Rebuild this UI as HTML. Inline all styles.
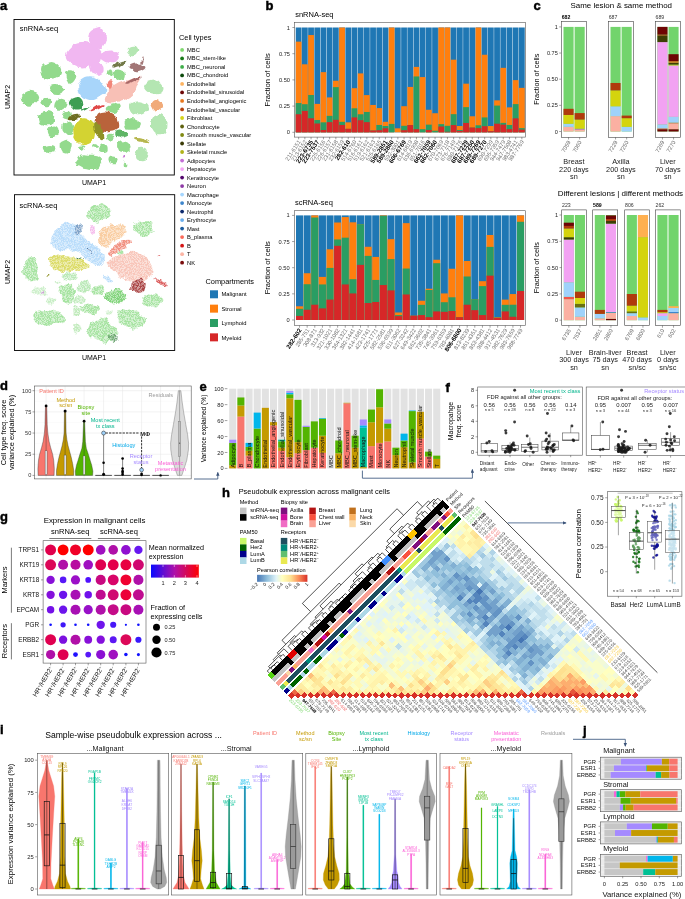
<!DOCTYPE html>
<html><head><meta charset="utf-8"><title>Figure</title>
<style>html,body{margin:0;padding:0;background:#fff}svg{display:block}text{font-family:"Liberation Sans",sans-serif}</style>
</head><body>
<svg width="685" height="899" viewBox="0 0 685 899">
<defs>
<filter id="soft" x="-5%" y="-5%" width="110%" height="110%"><feTurbulence type="fractalNoise" baseFrequency="0.11" numOctaves="3" seed="4" result="t"/><feDisplacementMap in="SourceGraphic" in2="t" scale="5.5" xChannelSelector="R" yChannelSelector="G" result="d"/><feGaussianBlur in="d" stdDeviation="0.3"/></filter>
<filter id="soft2" x="-5%" y="-5%" width="110%" height="110%"><feTurbulence type="fractalNoise" baseFrequency="0.13" numOctaves="3" seed="9" result="t"/><feDisplacementMap in="SourceGraphic" in2="t" scale="7" xChannelSelector="R" yChannelSelector="G" result="d"/><feTurbulence type="fractalNoise" baseFrequency="1.3" numOctaves="2" seed="3" result="n"/><feColorMatrix in="n" type="matrix" values="0 0 0 0 0  0 0 0 0 0  0 0 0 0 0  5 0 0 0 -1.9" result="m"/><feComposite in="d" in2="m" operator="in" result="sp0"/><feGaussianBlur in="sp0" stdDeviation="0.4" result="sp"/><feGaussianBlur in="d" stdDeviation="0.5" result="b"/><feComponentTransfer in="b" result="b2"><feFuncA type="linear" slope="0.5"/></feComponentTransfer><feMerge><feMergeNode in="b2"/><feMergeNode in="sp"/></feMerge></filter>
<linearGradient id="gexp" x1="0" x2="1" y1="0" y2="0"><stop offset="0" stop-color="#0a0aff"/><stop offset="0.5" stop-color="#b010a8"/><stop offset="1" stop-color="#ff0000"/></linearGradient>
<linearGradient id="gcor" x1="0" x2="1" y1="0" y2="0"><stop offset="0" stop-color="#4575b4"/><stop offset="0.2" stop-color="#91bfdb"/><stop offset="0.38" stop-color="#e0f3f8"/><stop offset="0.5" stop-color="#ffffbf"/><stop offset="0.67" stop-color="#fee090"/><stop offset="0.83" stop-color="#fc8d59"/><stop offset="1" stop-color="#d73027"/></linearGradient>
<marker id="arr" viewBox="0 0 6 6" refX="5" refY="3" markerWidth="4.6" markerHeight="4.2" orient="auto"><path d="M0 0.3L6 3L0 5.7Z" fill="#3b5378"/></marker>
</defs>
<rect width="685" height="899" fill="#fff"/>
<text x="0.0" y="10.2" font-size="13" font-weight="bold" stroke="#000" stroke-width="0.45">a</text>
<g filter="url(#soft)">
<path d="M61.0 68.9Q61.6 70.8 61.1 72.8Q60.6 74.8 59.1 76.1Q57.7 77.5 55.9 77.9Q54.2 78.4 52.6 78.8Q51.0 79.1 49.2 79.3Q47.4 79.4 45.7 78.6Q43.9 77.9 42.8 76.3Q41.6 74.7 41.2 72.8Q40.8 70.8 41.4 68.9Q41.9 67.0 43.2 65.6Q44.5 64.3 46.0 63.4Q47.6 62.6 49.3 62.2Q51.0 61.8 52.7 62.2Q54.4 62.6 56.0 63.4Q57.5 64.3 58.9 65.6Q60.3 66.9 61.0 68.9Z" fill="#93da8d"/>
<path d="M76.0 75.3Q76.5 76.5 76.2 77.8Q75.9 79.2 75.2 80.2Q74.5 81.2 73.8 82.3Q73.0 83.4 71.9 84.0Q70.8 84.7 69.7 84.0Q68.6 83.2 68.1 82.0Q67.5 80.7 66.9 79.8Q66.4 78.8 66.0 77.7Q65.5 76.5 65.6 75.1Q65.6 73.7 66.0 72.4Q66.5 71.1 67.5 70.3Q68.5 69.5 69.7 69.3Q70.8 69.1 71.9 69.6Q72.9 70.0 73.6 71.1Q74.2 72.2 74.8 73.1Q75.5 74.0 76.0 75.3Z" fill="#93da8d"/>
<path d="M39.1 96.3Q39.4 98.1 38.6 99.6Q37.8 101.2 36.5 102.2Q35.3 103.2 34.1 104.0Q32.8 104.7 31.4 105.0Q29.9 105.3 28.2 105.6Q26.5 105.8 25.0 105.0Q23.4 104.2 22.8 102.6Q22.2 101.1 21.3 99.6Q20.4 98.1 20.8 96.4Q21.2 94.7 22.9 93.9Q24.6 93.1 25.8 92.3Q27.0 91.4 28.4 91.1Q29.9 90.7 31.4 91.0Q32.9 91.3 34.6 91.7Q36.3 92.0 37.6 93.3Q38.9 94.6 39.1 96.3Z" fill="#93da8d"/>
<path d="M63.7 88.2Q64.4 89.4 63.7 90.6Q63.1 91.8 62.3 92.9Q61.6 93.9 60.2 94.4Q58.8 94.9 57.3 94.9Q55.9 94.8 54.5 94.8Q53.1 94.7 52.1 94.0Q51.1 93.3 50.1 92.5Q49.1 91.7 48.4 90.5Q47.7 89.4 48.1 88.2Q48.6 87.0 49.2 85.8Q49.9 84.6 51.4 84.2Q53.0 83.8 54.5 84.1Q55.9 84.4 57.2 84.3Q58.6 84.3 59.7 84.9Q60.8 85.4 61.9 86.3Q63.0 87.1 63.7 88.2Z" fill="#93da8d"/>
<path d="M51.9 101.1Q52.4 102.3 51.7 103.4Q51.1 104.6 50.3 105.7Q49.5 106.8 48.1 107.1Q46.7 107.5 45.3 107.1Q43.9 106.7 43.1 105.7Q42.4 104.6 41.8 103.4Q41.2 102.3 41.3 100.9Q41.3 99.5 42.7 98.9Q44.1 98.3 45.4 98.0Q46.7 97.7 48.2 97.7Q49.7 97.6 50.6 98.7Q51.4 99.8 51.9 101.1Z" fill="#93da8d"/>
<path d="M66.5 102.8Q66.5 104.3 66.1 105.6Q65.7 106.8 64.7 107.8Q63.8 108.8 62.3 109.4Q60.9 109.9 59.3 109.7Q57.6 109.5 56.3 108.4Q55.0 107.4 55.2 105.9Q55.5 104.3 55.9 103.1Q56.3 101.9 57.2 100.8Q58.0 99.7 59.4 99.1Q60.9 98.5 62.5 98.9Q64.1 99.2 65.3 100.3Q66.6 101.3 66.5 102.8Z" fill="#93da8d"/>
<path d="M54.2 116.5Q54.1 118.0 53.6 119.3Q53.2 120.6 52.6 122.0Q52.1 123.3 50.8 124.4Q49.5 125.4 47.7 125.3Q46.0 125.3 44.4 125.0Q42.8 124.7 41.2 124.2Q39.5 123.7 38.9 122.3Q38.3 120.8 38.1 119.4Q37.9 118.0 37.8 116.5Q37.7 115.0 38.9 113.8Q40.0 112.7 41.4 112.0Q42.9 111.4 44.4 111.0Q46.0 110.7 47.6 110.9Q49.2 111.1 50.8 111.7Q52.4 112.3 53.4 113.6Q54.4 114.9 54.2 116.5Z" fill="#93da8d"/>
<path d="M71.7 114.4Q71.7 115.5 71.5 116.5Q71.3 117.5 70.5 118.3Q69.7 119.2 68.3 119.3Q67.0 119.4 65.8 119.1Q64.6 118.8 63.7 118.2Q62.7 117.5 62.2 116.5Q61.7 115.5 62.2 114.5Q62.7 113.5 63.6 112.8Q64.5 112.0 65.7 111.9Q67.0 111.7 68.2 111.9Q69.5 112.1 70.6 112.7Q71.7 113.3 71.7 114.4Z" fill="#93da8d"/>
<path d="M74.0 126.6Q74.1 128.0 73.7 129.2Q73.3 130.4 73.1 131.9Q72.8 133.3 71.8 134.2Q70.8 135.0 69.6 135.0Q68.3 134.9 67.3 134.4Q66.2 133.9 65.2 133.4Q64.2 132.8 63.3 131.8Q62.5 130.8 62.4 129.4Q62.3 128.0 62.3 126.6Q62.4 125.2 63.2 124.1Q64.1 123.1 65.2 122.8Q66.4 122.5 67.3 121.6Q68.3 120.7 69.6 120.8Q70.8 120.8 71.6 122.0Q72.4 123.3 73.2 124.3Q74.0 125.3 74.0 126.6Z" fill="#93da8d"/>
<path d="M59.4 130.1Q59.7 131.6 58.9 132.8Q58.0 134.0 57.0 134.9Q56.1 135.8 54.7 136.5Q53.4 137.1 51.6 137.1Q49.9 137.2 49.0 135.8Q48.2 134.4 47.9 133.0Q47.6 131.6 48.0 130.3Q48.4 128.9 49.4 127.9Q50.5 126.9 51.9 126.8Q53.4 126.6 55.0 126.5Q56.6 126.5 57.8 127.5Q59.1 128.6 59.4 130.1Z" fill="#93da8d"/>
<path d="M55.4 147.7Q55.3 149.0 54.9 150.1Q54.6 151.1 53.8 152.2Q53.1 153.4 51.4 153.3Q49.7 153.2 48.3 153.0Q46.8 152.7 45.6 152.0Q44.5 151.3 44.1 150.1Q43.7 149.0 43.8 147.7Q43.9 146.5 45.4 145.9Q46.9 145.3 48.3 145.2Q49.7 145.0 51.2 145.0Q52.8 145.0 54.1 145.7Q55.5 146.5 55.4 147.7Z" fill="#93da8d"/>
<path d="M71.7 145.0Q71.6 146.5 71.3 147.7Q71.0 149.0 70.6 150.4Q70.3 151.8 69.2 152.3Q68.1 152.9 66.9 153.2Q65.8 153.5 64.6 153.3Q63.4 153.2 62.6 152.2Q61.8 151.1 61.2 150.1Q60.6 149.0 60.1 147.8Q59.6 146.5 59.6 145.0Q59.6 143.5 60.6 142.5Q61.5 141.5 62.6 141.2Q63.8 140.8 64.8 140.2Q65.8 139.6 67.0 139.8Q68.1 140.0 69.1 140.8Q70.0 141.6 71.0 142.6Q71.9 143.6 71.7 145.0Z" fill="#93da8d"/>
<path d="M102.9 160.3Q102.9 161.4 102.1 162.4Q101.3 163.3 101.0 164.4Q100.7 165.4 100.1 166.6Q99.5 167.8 97.6 168.5Q95.7 169.1 93.5 169.0Q91.4 168.9 89.5 168.7Q87.6 168.5 85.9 168.1Q84.3 167.6 83.1 166.9Q81.9 166.2 80.5 165.6Q79.1 165.1 77.4 164.4Q75.6 163.6 75.2 162.5Q74.7 161.4 75.5 160.3Q76.4 159.3 77.0 158.2Q77.6 157.2 78.5 156.1Q79.4 155.0 81.4 154.6Q83.5 154.2 85.6 154.4Q87.7 154.6 89.4 154.7Q91.1 154.7 93.0 154.8Q94.8 154.8 96.4 155.3Q98.0 155.9 99.4 156.6Q100.8 157.3 101.9 158.3Q103.0 159.2 102.9 160.3Z" fill="#93da8d"/>
<path d="M107.5 147.9Q107.7 149.0 107.7 150.2Q107.7 151.5 106.7 152.3Q105.6 153.1 104.3 153.0Q103.0 152.9 101.7 153.0Q100.5 153.0 99.5 152.1Q98.6 151.3 98.2 150.2Q97.8 149.0 98.3 147.9Q98.8 146.8 99.7 146.0Q100.6 145.2 101.8 144.8Q103.0 144.3 104.2 144.7Q105.5 145.1 106.4 145.9Q107.3 146.8 107.5 147.9Z" fill="#93da8d"/>
<path d="M117.5 159.2Q117.8 160.0 117.5 160.9Q117.2 161.7 116.5 162.5Q115.7 163.3 114.4 163.3Q113.0 163.3 111.7 163.2Q110.4 163.1 109.5 162.5Q108.6 161.8 108.5 160.9Q108.4 160.0 108.6 159.1Q108.7 158.3 109.5 157.5Q110.4 156.8 111.7 156.6Q113.0 156.5 114.3 156.7Q115.6 156.9 116.4 157.6Q117.2 158.3 117.5 159.2Z" fill="#93da8d"/>
<path d="M131.2 145.4Q131.8 146.5 131.4 147.6Q131.1 148.8 129.8 149.4Q128.6 150.1 127.6 150.8Q126.6 151.5 125.3 151.7Q124.0 152.0 122.7 151.7Q121.3 151.5 120.1 151.0Q118.9 150.5 118.5 149.4Q118.2 148.4 117.7 147.5Q117.2 146.5 117.0 145.3Q116.9 144.2 117.8 143.3Q118.7 142.3 119.9 141.7Q121.1 141.0 122.5 141.2Q124.0 141.4 125.1 141.9Q126.2 142.3 127.5 142.5Q128.8 142.7 129.7 143.5Q130.7 144.3 131.2 145.4Z" fill="#93da8d"/>
<path d="M147.8 152.9Q147.8 154.0 147.6 155.1Q147.5 156.1 146.8 157.1Q146.2 158.0 145.3 159.0Q144.4 160.0 143.0 160.1Q141.5 160.2 140.2 159.9Q138.8 159.6 137.4 159.2Q135.9 158.8 135.4 157.6Q134.9 156.4 135.0 155.2Q135.1 154.0 135.6 153.0Q136.1 152.1 136.5 151.1Q137.0 150.1 137.7 148.9Q138.4 147.7 140.0 147.7Q141.5 147.6 142.8 148.0Q144.2 148.4 145.6 148.8Q147.0 149.3 147.4 150.5Q147.8 151.8 147.8 152.9Z" fill="#b4e6b2"/>
<path d="M139.7 123.1Q140.1 124.2 139.8 125.3Q139.4 126.5 138.6 127.5Q137.7 128.5 136.3 129.2Q135.0 130.0 133.3 129.8Q131.6 129.7 130.0 129.8Q128.3 129.8 126.6 129.4Q124.8 129.0 124.5 127.7Q124.3 126.3 124.0 125.3Q123.7 124.2 123.6 123.0Q123.5 121.8 124.6 121.0Q125.8 120.1 127.0 119.3Q128.3 118.5 129.9 118.2Q131.6 117.8 133.2 118.3Q134.8 118.7 136.1 119.4Q137.5 120.1 138.3 121.0Q139.2 122.0 139.7 123.1Z" fill="#93da8d"/>
<path d="M166.5 122.3Q166.4 124.2 166.4 126.0Q166.4 127.9 165.8 129.7Q165.1 131.5 163.6 132.4Q162.1 133.3 160.5 133.9Q158.9 134.5 157.2 134.2Q155.5 133.9 154.1 132.6Q152.8 131.4 151.9 129.7Q151.0 128.1 150.9 126.1Q150.8 124.2 151.1 122.4Q151.3 120.5 152.1 118.8Q152.9 117.1 154.4 116.3Q155.8 115.4 157.4 114.7Q158.9 114.0 160.7 114.0Q162.5 114.0 163.9 115.3Q165.3 116.7 165.9 118.6Q166.6 120.5 166.5 122.3Z" fill="#b4e6b2"/>
<path d="M148.6 106.6Q149.1 108.0 148.5 109.3Q147.8 110.7 146.5 111.6Q145.2 112.6 143.8 113.4Q142.4 114.1 140.7 114.7Q139.0 115.3 137.0 115.2Q135.1 115.0 133.7 114.0Q132.3 113.0 131.6 111.7Q130.9 110.5 130.4 109.2Q129.9 108.0 129.9 106.6Q129.8 105.2 130.9 104.0Q132.0 102.8 133.7 102.2Q135.4 101.6 137.2 101.4Q139.0 101.2 140.8 101.4Q142.5 101.7 144.1 102.4Q145.6 103.1 146.8 104.2Q148.0 105.2 148.6 106.6Z" fill="#b4e6b2"/>
<path d="M162.4 85.8Q163.5 87.0 163.5 88.6Q163.5 90.1 162.5 91.6Q161.6 93.1 159.7 93.7Q157.7 94.3 155.8 94.1Q153.9 93.8 152.2 93.5Q150.6 93.3 149.1 92.6Q147.7 91.9 146.3 90.9Q145.0 89.9 144.3 88.5Q143.6 87.0 144.3 85.6Q145.0 84.1 146.1 82.9Q147.1 81.6 148.7 80.8Q150.2 80.0 152.1 79.7Q153.9 79.4 155.8 79.5Q157.7 79.7 158.8 81.0Q159.9 82.2 160.7 83.4Q161.4 84.6 162.4 85.8Z" fill="#b4e6b2"/>
<path d="M137.1 49.3Q137.5 50.5 137.1 51.7Q136.7 52.9 135.9 54.1Q135.1 55.2 133.6 55.3Q132.1 55.3 130.7 55.1Q129.3 54.8 128.4 53.9Q127.5 52.9 127.0 51.7Q126.5 50.5 126.9 49.2Q127.3 48.0 128.3 47.1Q129.4 46.2 130.7 45.9Q132.1 45.6 133.6 45.8Q135.0 45.9 135.8 47.0Q136.7 48.1 137.1 49.3Z" fill="#b4e6b2"/>
<path d="M125.9 73.6Q125.8 74.6 125.7 75.5Q125.6 76.5 125.1 77.5Q124.6 78.5 123.4 79.1Q122.2 79.8 120.7 79.9Q119.2 80.1 118.0 79.4Q116.9 78.6 115.9 78.1Q115.0 77.6 114.0 77.0Q112.9 76.5 112.7 75.5Q112.5 74.6 112.4 73.6Q112.3 72.6 113.0 71.6Q113.6 70.6 115.0 70.1Q116.3 69.7 117.8 69.6Q119.2 69.5 120.4 70.0Q121.5 70.5 122.6 71.0Q123.6 71.4 124.8 72.0Q125.9 72.6 125.9 73.6Z" fill="#93da8d"/>
<path d="M120.7 106.8Q120.7 108.0 119.8 108.9Q118.9 109.8 118.0 110.3Q117.1 110.9 116.3 111.7Q115.6 112.4 114.3 112.8Q113.0 113.2 111.7 112.8Q110.5 112.3 109.2 112.0Q107.8 111.7 106.8 110.9Q105.8 110.1 105.7 109.1Q105.6 108.0 105.9 107.0Q106.1 106.0 107.3 105.4Q108.6 104.8 109.7 104.5Q110.7 104.1 111.9 103.6Q113.0 103.1 114.3 103.3Q115.6 103.6 116.9 103.9Q118.2 104.3 119.5 105.0Q120.8 105.7 120.7 106.8Z" fill="#93da8d"/>
<path d="M114.3 135.8Q114.7 136.6 114.3 137.3Q113.8 138.0 113.1 138.6Q112.5 139.1 111.5 139.4Q110.5 139.7 109.5 139.5Q108.5 139.3 107.8 138.7Q107.1 138.1 106.9 137.3Q106.7 136.6 106.8 135.8Q106.8 135.0 107.7 134.5Q108.5 134.0 109.5 133.8Q110.5 133.7 111.5 133.9Q112.5 134.0 113.2 134.6Q114.0 135.1 114.3 135.8Z" fill="#93da8d"/>
<path d="M112.3 72.1Q112.2 73.0 112.1 73.8Q112.0 74.6 111.6 75.2Q111.1 75.8 110.6 76.4Q110.0 76.9 109.3 76.6Q108.6 76.3 108.2 75.5Q107.8 74.8 107.7 73.9Q107.6 73.0 107.9 72.3Q108.2 71.5 108.4 70.7Q108.7 69.9 109.4 69.7Q110.0 69.4 110.7 69.5Q111.4 69.6 111.8 70.4Q112.3 71.2 112.3 72.1Z" fill="#93da8d"/>
<path d="M84.5 147.4Q84.5 148.0 84.5 148.6Q84.5 149.2 84.1 149.8Q83.7 150.5 82.9 150.6Q82.0 150.7 81.3 150.4Q80.5 150.2 80.1 149.6Q79.8 149.1 79.4 148.5Q79.0 148.0 79.2 147.4Q79.5 146.8 79.9 146.2Q80.4 145.7 81.2 145.5Q82.0 145.4 82.8 145.5Q83.6 145.7 84.0 146.2Q84.5 146.8 84.5 147.4Z" fill="#93da8d"/>
<path d="M97.6 145.5Q97.8 146.0 97.9 146.6Q98.0 147.1 97.3 147.5Q96.6 147.9 95.8 147.9Q95.0 147.9 94.3 147.8Q93.6 147.7 93.1 147.3Q92.6 146.9 92.4 146.5Q92.1 146.0 92.1 145.4Q92.0 144.9 92.7 144.5Q93.4 144.1 94.2 144.1Q95.0 144.1 95.7 144.2Q96.5 144.3 96.9 144.7Q97.4 145.1 97.6 145.5Z" fill="#93da8d"/>
<path d="M126.2 164.2Q126.4 165.0 126.3 165.9Q126.1 166.8 125.5 167.2Q125.0 167.5 124.4 167.2Q123.9 166.9 123.8 165.9Q123.6 165.0 123.8 164.1Q124.0 163.3 124.5 162.7Q125.0 162.2 125.5 162.8Q126.0 163.3 126.2 164.2Z" fill="#93da8d"/>
<path d="M128.4 134.5Q128.4 135.2 127.9 135.7Q127.4 136.1 126.5 136.4Q125.7 136.7 124.8 137.1Q123.9 137.5 122.5 137.5Q121.1 137.6 119.8 137.0Q118.5 136.5 117.4 135.9Q116.4 135.4 115.7 134.7Q115.0 134.1 115.2 133.5Q115.5 132.9 115.7 132.4Q116.0 131.8 116.6 131.3Q117.1 130.8 118.3 130.7Q119.5 130.5 120.9 130.7Q122.3 130.8 123.6 131.2Q124.9 131.5 126.1 132.0Q127.3 132.5 127.9 133.2Q128.5 133.9 128.4 134.5Z" fill="#5fb566"/>
<path d="M102.3 53.0Q103.0 54.7 103.0 56.5Q103.0 58.4 101.8 60.1Q100.5 61.7 98.3 62.8Q96.1 63.8 93.9 64.6Q91.6 65.4 89.3 66.2Q87.0 67.1 84.3 67.3Q81.6 67.6 79.1 67.0Q76.6 66.3 74.6 65.1Q72.6 63.9 70.7 62.7Q68.9 61.4 67.5 59.9Q66.1 58.3 65.8 56.5Q65.6 54.7 66.4 53.0Q67.3 51.3 68.5 49.8Q69.7 48.3 71.1 46.9Q72.5 45.4 74.4 44.1Q76.4 42.8 79.0 42.3Q81.6 41.7 84.4 41.9Q87.1 42.2 89.5 42.8Q92.0 43.5 94.1 44.5Q96.3 45.4 98.0 46.7Q99.6 48.1 100.7 49.7Q101.7 51.3 102.3 53.0Z" fill="#f1b7f1"/>
<path d="M105.7 35.2Q106.3 37.3 105.7 39.4Q105.1 41.5 104.2 43.3Q103.3 45.1 102.0 46.5Q100.7 47.9 99.0 47.8Q97.3 47.6 95.8 47.1Q94.3 46.7 92.9 45.7Q91.5 44.8 90.3 43.2Q89.2 41.6 88.6 39.5Q88.0 37.3 88.4 35.0Q88.9 32.8 90.0 31.1Q91.2 29.4 92.8 28.8Q94.4 28.2 95.8 27.9Q97.3 27.6 99.0 27.1Q100.7 26.7 102.1 28.0Q103.5 29.3 104.3 31.2Q105.1 33.1 105.7 35.2Z" fill="#f1b7f1"/>
<path d="M118.8 55.7Q118.9 56.7 118.9 57.8Q119.0 58.8 118.4 60.0Q117.8 61.1 116.4 62.1Q114.9 63.1 112.7 63.3Q110.5 63.4 108.7 62.7Q106.8 62.0 105.3 61.4Q103.8 60.7 102.6 59.8Q101.5 58.9 101.5 57.8Q101.5 56.7 101.7 55.6Q101.9 54.6 102.4 53.4Q102.9 52.2 104.7 51.5Q106.4 50.8 108.5 50.7Q110.5 50.7 112.6 50.6Q114.7 50.6 116.4 51.4Q118.1 52.1 118.4 53.4Q118.7 54.7 118.8 55.7Z" fill="#f1b7f1"/>
<path d="M104.4 67.2Q104.7 68.3 104.6 69.4Q104.6 70.6 103.7 71.6Q102.9 72.6 101.7 73.6Q100.5 74.6 98.6 74.7Q96.8 74.9 95.2 74.2Q93.7 73.6 92.4 73.0Q91.0 72.4 90.4 71.4Q89.7 70.4 89.4 69.3Q89.0 68.3 88.9 67.1Q88.8 66.0 89.7 65.0Q90.7 64.0 91.9 63.0Q93.1 62.0 95.0 61.8Q96.8 61.7 98.3 62.4Q99.8 63.2 101.2 63.7Q102.5 64.3 103.3 65.2Q104.2 66.1 104.4 67.2Z" fill="#f1b7f1"/>
<path d="M105.0 86.6Q106.2 88.2 106.3 90.1Q106.3 92.1 104.7 93.5Q103.2 94.9 101.4 95.8Q99.7 96.7 98.3 97.7Q96.8 98.7 95.1 99.5Q93.3 100.2 91.4 100.0Q89.5 99.9 87.7 99.4Q85.9 98.8 84.2 98.1Q82.5 97.3 81.3 96.0Q80.0 94.7 79.4 93.1Q78.8 91.5 78.5 89.8Q78.1 88.2 78.2 86.5Q78.2 84.8 79.0 83.2Q79.8 81.6 81.0 80.2Q82.3 78.9 83.9 77.9Q85.6 76.8 87.5 76.4Q89.4 76.0 91.4 76.2Q93.3 76.4 95.1 77.0Q96.8 77.6 98.3 78.7Q99.7 79.7 100.6 81.1Q101.5 82.4 102.6 83.7Q103.7 85.0 105.0 86.6Z" fill="#a8d5fa"/>
<path d="M103.8 100.6L109.3 89.4Q119 81.5 129.1 80Q137 77 141.5 75.8Q139.5 81 135.3 87Q136 94 134.1 94.4Q128 101 116.7 101.8Q108 103.5 103.8 100.6Z" fill="#f8c0b6"/>
<path d="M113.3 83.4Q113.7 84.5 113.3 85.5Q112.9 86.6 112.5 87.6Q112.1 88.7 111.3 88.8Q110.5 88.9 109.7 88.7Q109.0 88.4 108.4 87.6Q107.9 86.8 107.8 85.6Q107.7 84.5 107.7 83.3Q107.8 82.2 108.4 81.4Q109.0 80.6 109.7 80.3Q110.5 80.1 111.3 80.3Q112.1 80.4 112.5 81.4Q113.0 82.4 113.3 83.4Z" fill="#f2877a"/>
<path d="M140.6 76.6Q141.6 76.5 141.7 76.9Q141.8 77.3 140.8 78.0Q139.9 78.8 138.4 79.7Q136.9 80.6 135.3 81.2Q133.6 81.8 132.2 82.5Q130.8 83.2 129.0 84.0Q127.2 84.8 126.4 84.7Q125.7 84.7 125.5 84.4Q125.2 84.1 125.0 83.8Q124.8 83.5 125.6 82.8Q126.5 82.1 127.8 81.3Q129.1 80.4 130.7 79.7Q132.2 78.9 133.8 78.2Q135.4 77.6 136.6 77.3Q137.8 77.0 138.7 76.9Q139.5 76.8 140.6 76.6Z" fill="#a86868"/>
<path d="M119.1 124.2Q119.3 125.6 119.1 126.9Q118.9 128.3 117.9 129.3Q116.8 130.4 115.1 130.9Q113.5 131.5 111.8 131.8Q110.0 132.2 108.1 132.2Q106.2 132.3 104.2 131.8Q102.3 131.2 100.6 130.2Q99.0 129.2 97.7 128.1Q96.3 126.9 95.6 125.5Q94.8 124.2 94.7 122.8Q94.6 121.5 94.9 120.3Q95.1 119.1 95.4 117.8Q95.7 116.6 96.4 115.4Q97.1 114.2 98.4 113.3Q99.7 112.4 101.5 112.0Q103.3 111.5 105.4 111.6Q107.4 111.7 109.4 112.5Q111.3 113.2 112.8 114.3Q114.4 115.4 115.5 116.6Q116.7 117.8 117.5 119.0Q118.2 120.3 118.5 121.6Q118.9 122.9 119.1 124.2Z" fill="#b9633a"/>
<path d="M95.0 129.7Q95.1 131.6 95.0 133.5Q94.9 135.4 94.4 137.2Q93.9 139.1 92.9 140.6Q91.8 142.1 90.4 143.0Q89.0 143.9 87.5 144.3Q85.9 144.8 84.4 144.9Q82.8 145.0 81.3 144.5Q79.8 143.9 78.6 142.7Q77.4 141.6 76.4 140.2Q75.4 138.7 74.6 137.1Q73.8 135.4 73.4 133.5Q73.1 131.6 73.4 129.7Q73.8 127.8 74.5 126.1Q75.3 124.4 76.3 122.9Q77.2 121.5 78.5 120.3Q79.8 119.1 81.3 118.6Q82.8 118.1 84.4 118.2Q86.0 118.3 87.4 118.9Q88.9 119.5 90.3 120.4Q91.6 121.4 92.7 122.8Q93.7 124.3 94.3 126.0Q94.8 127.8 95.0 129.7Z" fill="#d3d333"/>
<path d="M101.5 127.9Q102.3 129.3 102.9 130.7Q103.6 132.1 103.9 133.5Q104.1 134.9 104.3 136.5Q104.5 138.1 103.9 138.8Q103.3 139.5 102.1 138.9Q100.9 138.3 100.0 138.0Q99.0 137.6 98.0 136.6Q96.9 135.7 96.2 134.3Q95.4 132.9 94.7 131.5Q94.1 130.1 93.8 128.7Q93.4 127.3 93.2 125.7Q93.0 124.1 93.7 123.4Q94.3 122.6 95.5 123.3Q96.7 123.9 97.6 124.3Q98.6 124.7 99.6 125.6Q100.6 126.5 101.5 127.9Z" fill="#8f9128"/>
<path d="M83.1 102.5Q83.5 103.8 83.2 105.2Q83.0 106.5 82.4 107.8Q81.8 109.1 80.5 109.7Q79.1 110.2 77.8 110.4Q76.5 110.7 75.1 110.5Q73.8 110.3 73.0 109.2Q72.2 108.1 71.2 107.3Q70.3 106.4 69.5 105.1Q68.6 103.8 69.0 102.3Q69.4 100.9 70.5 99.8Q71.5 98.8 72.8 98.5Q74.1 98.1 75.3 97.6Q76.5 97.1 77.9 97.0Q79.4 96.8 80.4 97.9Q81.4 98.9 82.1 100.1Q82.8 101.2 83.1 102.5Z" fill="#3e9e52"/>
<path d="M89.3 106.6Q89.4 106.9 89.2 107.3Q89.1 107.6 88.2 108.1Q87.4 108.6 86.4 109.1Q85.4 109.7 84.1 110.1Q82.8 110.6 81.9 110.6Q81.0 110.6 80.6 110.4Q80.2 110.2 80.6 109.8Q81.0 109.4 81.8 108.9Q82.7 108.4 83.6 107.9Q84.6 107.3 85.9 106.9Q87.2 106.5 88.2 106.4Q89.3 106.2 89.3 106.6Z" fill="#3e9e52"/>
<path d="M104.0 104.2Q104.5 104.3 104.7 104.6Q104.9 105.0 104.1 105.7Q103.2 106.5 101.9 107.3Q100.6 108.1 99.3 108.7Q98.0 109.4 96.7 110.1Q95.4 110.7 93.8 111.5Q92.2 112.2 91.4 112.3Q90.6 112.3 90.7 111.8Q90.9 111.3 90.6 111.0Q90.4 110.7 91.0 110.1Q91.6 109.5 92.7 108.7Q93.8 107.9 95.1 107.1Q96.4 106.3 97.8 105.8Q99.2 105.2 100.4 104.9Q101.5 104.5 102.5 104.3Q103.4 104.1 104.0 104.2Z" fill="#e04a4a"/>
<path d="M145.3 66.8Q145.7 67.6 145.0 68.4Q144.3 69.1 143.5 69.8Q142.7 70.4 141.4 70.9Q140.2 71.4 138.6 71.9Q137.0 72.3 135.3 72.0Q133.6 71.7 132.6 71.0Q131.7 70.2 130.2 69.8Q128.8 69.3 128.5 68.4Q128.3 67.6 129.0 66.9Q129.7 66.1 130.3 65.3Q130.9 64.6 132.4 64.2Q133.9 63.9 135.4 63.6Q137.0 63.3 138.8 63.4Q140.5 63.4 141.6 64.1Q142.8 64.7 143.9 65.4Q145.0 66.0 145.3 66.8Z" fill="#a27676"/>
<path d="M143.6 60.3Q143.5 61.2 143.2 61.9Q143.0 62.7 142.7 63.3Q142.5 64.0 142.1 64.4Q141.8 64.8 141.7 64.4Q141.5 63.9 141.4 63.3Q141.3 62.7 141.4 61.7Q141.5 60.8 141.8 60.1Q142.0 59.3 142.3 58.7Q142.5 58.1 142.9 57.6Q143.2 57.1 143.4 57.6Q143.5 58.1 143.6 58.7Q143.7 59.4 143.6 60.3Z" fill="#a27676"/>
<path d="M126.3 60.8Q126.3 61.2 125.8 61.8Q125.4 62.3 125.0 62.8Q124.7 63.3 123.7 64.0Q122.8 64.7 121.4 65.4Q120.0 66.1 118.4 66.6Q116.8 67.2 115.6 67.4Q114.4 67.6 113.5 67.6Q112.6 67.6 112.4 67.3Q112.1 67.0 112.4 66.5Q112.7 66.0 113.1 65.4Q113.5 64.9 114.6 64.2Q115.7 63.5 117.1 62.9Q118.5 62.3 120.0 61.7Q121.5 61.1 122.8 60.8Q124.2 60.4 125.2 60.4Q126.2 60.4 126.3 60.8Z" fill="#737a4a"/>
<path d="M161.8 104.3Q162.4 105.6 162.2 107.1Q162.1 108.6 160.9 109.5Q159.7 110.4 158.3 110.8Q156.9 111.3 155.5 110.9Q154.0 110.6 153.5 109.2Q153.1 107.8 152.2 106.7Q151.4 105.6 151.6 104.1Q151.8 102.7 152.9 101.5Q153.9 100.4 155.4 100.1Q156.9 99.8 158.1 100.6Q159.3 101.4 160.3 102.2Q161.3 103.0 161.8 104.3Z" fill="#f1ab7a"/>
<path d="M80.1 115.6Q80.9 115.7 81.0 116.1Q81.1 116.5 80.1 116.9Q79.1 117.4 78.0 117.8Q76.8 118.2 75.6 118.6Q74.4 119.0 73.0 119.2Q71.7 119.4 70.8 119.3Q69.9 119.2 68.6 119.3Q67.4 119.4 66.9 119.1Q66.5 118.8 67.2 118.3Q67.9 117.8 68.5 117.4Q69.1 117.0 70.1 116.6Q71.2 116.2 72.4 115.8Q73.6 115.4 75.1 115.1Q76.6 114.7 77.5 114.8Q78.5 115.0 78.9 115.2Q79.3 115.5 80.1 115.6Z" fill="#6d6d22"/>
<path d="M148.9 141.2Q149.5 141.7 149.1 142.0Q148.7 142.3 147.6 142.3Q146.4 142.3 145.1 142.0Q143.7 141.8 142.4 141.5Q141.1 141.1 139.8 140.8Q138.5 140.4 137.3 139.9Q136.0 139.5 135.0 138.9Q134.0 138.4 133.8 137.9Q133.6 137.5 134.4 137.4Q135.2 137.2 136.0 137.1Q136.7 137.0 137.9 137.1Q139.1 137.2 140.5 137.6Q141.9 138.0 143.2 138.4Q144.6 138.8 145.7 139.3Q146.8 139.7 147.5 140.2Q148.2 140.7 148.9 141.2Z" fill="#b6b64e"/>
<circle cx="124.60" cy="157.20" r="1.30" fill="#c472d2"/>
</g>
<rect x="14.00" y="19.50" width="160.30" height="155.50" fill="none" stroke="#000" stroke-width="0.9"/>
<text x="19.8" y="31.0" font-size="7.5">snRNA-seq</text>
<text x="94.0" y="185.0" font-size="7" text-anchor="middle">UMAP1</text>
<text x="10.0" y="97.0" font-size="7" text-anchor="middle" transform="rotate(-90 10 97)">UMAP2</text>
<g filter="url(#soft2)" opacity="0.95">
<path d="M112.0 211.4Q112.2 212.6 111.8 213.7Q111.5 214.8 111.2 216.0Q110.9 217.2 109.9 218.3Q108.9 219.4 107.1 219.9Q105.3 220.4 103.4 220.7Q101.6 220.9 99.7 221.3Q97.8 221.7 95.7 221.5Q93.7 221.4 92.4 220.3Q91.0 219.2 90.4 218.0Q89.8 216.8 89.2 215.8Q88.5 214.8 88.1 213.7Q87.7 212.6 88.1 211.5Q88.5 210.4 89.0 209.4Q89.6 208.3 90.3 207.1Q90.9 205.9 92.3 204.9Q93.7 203.8 95.7 203.4Q97.7 203.0 99.7 203.3Q101.8 203.5 103.5 204.3Q105.1 205.0 106.4 205.8Q107.6 206.7 108.8 207.5Q110.0 208.3 111.0 209.3Q111.9 210.3 112.0 211.4Z" fill="#9adf94" fill-opacity="0.85"/>
<path d="M151.8 227.1Q151.9 228.4 152.4 229.9Q153.0 231.4 151.7 232.6Q150.5 233.9 148.9 234.8Q147.2 235.7 145.2 235.9Q143.2 236.0 141.5 235.3Q139.8 234.5 138.0 234.1Q136.1 233.7 134.8 232.6Q133.5 231.4 133.3 229.9Q133.1 228.4 133.2 226.9Q133.4 225.4 134.9 224.3Q136.4 223.3 138.0 222.7Q139.7 222.0 141.4 221.6Q143.2 221.1 145.2 221.1Q147.3 221.0 149.3 221.7Q151.3 222.4 151.5 224.1Q151.6 225.8 151.8 227.1Z" fill="#9adf94" fill-opacity="0.85"/>
<path d="M37.4 268.8Q37.4 270.4 37.7 272.1Q38.0 273.8 38.1 275.9Q38.2 278.1 37.4 279.6Q36.6 281.2 35.4 281.5Q34.1 281.8 33.1 281.9Q32.0 281.9 31.0 282.2Q30.0 282.4 28.9 282.1Q27.9 281.8 27.0 280.7Q26.2 279.6 25.5 278.3Q24.9 277.0 24.3 275.5Q23.6 274.0 23.4 272.2Q23.1 270.4 23.4 268.6Q23.7 266.8 24.3 265.4Q25.0 263.9 25.7 262.8Q26.5 261.7 27.2 260.6Q28.0 259.5 28.9 258.5Q29.9 257.6 31.0 257.3Q32.2 257.0 33.3 257.6Q34.4 258.2 35.2 259.4Q36.1 260.6 36.6 262.2Q37.1 263.8 37.2 265.6Q37.4 267.3 37.4 268.8Z" fill="#9adf94" fill-opacity="0.85"/>
<path d="M76.6 275.0Q77.0 275.6 76.8 276.2Q76.6 276.9 76.1 277.5Q75.5 278.2 74.3 278.7Q73.1 279.3 71.4 279.3Q69.6 279.2 68.2 278.9Q66.7 278.6 65.3 278.4Q63.8 278.1 63.0 277.5Q62.3 276.9 62.5 276.3Q62.7 275.6 62.6 274.9Q62.4 274.3 62.9 273.6Q63.4 272.9 65.0 272.6Q66.5 272.3 68.0 272.1Q69.6 272.0 71.3 272.0Q73.0 272.1 74.1 272.6Q75.2 273.2 75.7 273.8Q76.2 274.4 76.6 275.0Z" fill="#9adf94" fill-opacity="0.6"/>
<path d="M74.9 290.6Q74.8 292.7 74.3 294.5Q73.9 296.3 73.6 298.4Q73.2 300.5 71.7 301.5Q70.2 302.4 68.6 302.5Q67.0 302.5 65.5 302.2Q64.0 301.9 62.9 300.5Q61.9 299.1 61.0 297.6Q60.2 296.2 59.4 294.5Q58.5 292.7 58.6 290.6Q58.7 288.4 59.9 286.9Q61.1 285.3 62.6 284.7Q64.1 284.1 65.6 283.4Q67.0 282.8 68.5 283.3Q70.0 283.8 71.2 284.9Q72.4 285.9 73.7 287.3Q74.9 288.6 74.9 290.6Z" fill="#9adf94" fill-opacity="0.85"/>
<path d="M46.3 290.6Q46.4 291.4 46.5 292.3Q46.6 293.2 45.7 294.0Q44.8 294.7 43.3 295.0Q41.7 295.3 40.3 295.7Q38.9 296.1 37.3 295.9Q35.7 295.7 34.8 295.0Q33.8 294.3 32.6 293.7Q31.4 293.2 30.9 292.3Q30.4 291.4 30.9 290.5Q31.4 289.6 32.4 289.0Q33.4 288.3 34.7 287.9Q36.1 287.6 37.5 287.2Q38.9 286.8 40.5 286.8Q42.2 286.9 43.4 287.6Q44.5 288.2 45.3 289.0Q46.1 289.7 46.3 290.6Z" fill="#9adf94" fill-opacity="0.4"/>
<path d="M56.2 299.6Q56.7 300.6 55.9 301.5Q55.1 302.4 54.3 303.1Q53.5 303.7 52.3 304.2Q51.2 304.7 49.8 304.6Q48.4 304.5 47.7 303.5Q46.9 302.6 46.6 301.6Q46.3 300.6 46.8 299.7Q47.3 298.8 47.9 297.9Q48.6 297.0 49.9 296.8Q51.2 296.6 52.4 296.9Q53.7 297.2 54.7 297.9Q55.7 298.5 56.2 299.6Z" fill="#9adf94" fill-opacity="0.45"/>
<path d="M64.1 316.7Q64.5 317.7 64.7 318.8Q64.9 319.9 64.0 321.0Q63.1 322.1 61.1 322.7Q59.1 323.4 57.0 323.8Q54.8 324.1 52.8 324.4Q50.7 324.7 48.6 324.9Q46.4 325.0 44.0 324.9Q41.6 324.9 39.4 324.4Q37.1 323.9 35.9 322.9Q34.6 321.9 34.7 320.8Q34.8 319.6 35.0 318.6Q35.1 317.7 34.6 316.7Q34.0 315.7 34.0 314.5Q34.0 313.3 35.4 312.3Q36.8 311.3 39.1 310.8Q41.4 310.3 43.8 310.2Q46.3 310.2 48.5 310.5Q50.7 310.8 52.7 311.1Q54.7 311.5 56.7 311.8Q58.7 312.2 60.4 312.9Q62.1 313.6 62.9 314.6Q63.7 315.6 64.1 316.7Z" fill="#9adf94" fill-opacity="0.85"/>
<path d="M89.8 284.7Q89.9 286.2 89.8 287.7Q89.8 289.2 88.8 290.1Q87.9 291.1 87.0 291.9Q86.2 292.8 85.1 293.3Q84.0 293.7 83.0 293.0Q82.0 292.3 80.7 292.1Q79.4 291.9 78.5 290.7Q77.5 289.5 77.7 287.9Q77.9 286.2 78.1 284.7Q78.4 283.3 79.3 282.3Q80.1 281.4 81.1 280.8Q82.0 280.2 83.0 279.6Q84.0 279.0 85.2 278.9Q86.4 278.9 87.6 279.6Q88.8 280.2 89.3 281.7Q89.7 283.2 89.8 284.7Z" fill="#9adf94" fill-opacity="0.6"/>
<path d="M103.9 288.7Q104.7 290.0 103.6 291.2Q102.5 292.4 101.5 293.4Q100.5 294.4 98.9 294.3Q97.2 294.2 95.4 294.5Q93.6 294.7 92.8 293.5Q91.9 292.3 91.1 291.2Q90.2 290.0 90.7 288.7Q91.2 287.3 92.6 286.5Q94.0 285.7 95.6 285.6Q97.2 285.6 98.7 285.8Q100.2 286.0 101.7 286.7Q103.2 287.4 103.9 288.7Z" fill="#9adf94" fill-opacity="0.85"/>
<path d="M85.0 298.5Q85.3 299.3 84.8 300.0Q84.3 300.8 83.1 301.3Q81.9 301.8 80.3 302.0Q78.8 302.3 77.1 302.1Q75.4 302.0 74.2 301.4Q72.9 300.9 72.7 300.1Q72.4 299.3 72.8 298.6Q73.2 297.8 74.4 297.3Q75.7 296.8 77.2 296.6Q78.8 296.4 80.5 296.5Q82.1 296.7 83.4 297.2Q84.7 297.7 85.0 298.5Z" fill="#9adf94" fill-opacity="0.5"/>
<path d="M99.6 307.3Q99.8 308.5 99.7 309.7Q99.6 311.0 98.3 311.8Q96.9 312.7 95.4 313.2Q93.9 313.8 92.2 314.4Q90.6 315.0 89.0 314.3Q87.4 313.6 86.3 312.8Q85.2 312.1 83.7 311.5Q82.2 310.8 81.5 309.7Q80.8 308.5 81.0 307.2Q81.2 305.9 82.6 305.0Q84.0 304.1 85.7 303.7Q87.4 303.4 89.0 303.1Q90.6 302.8 92.2 303.1Q93.7 303.5 95.3 303.9Q96.9 304.3 98.2 305.2Q99.4 306.1 99.6 307.3Z" fill="#9adf94" fill-opacity="0.85"/>
<path d="M79.8 309.5Q79.8 311.0 79.8 312.6Q79.9 314.2 79.0 315.1Q78.1 316.1 77.2 316.6Q76.2 317.1 75.2 316.7Q74.1 316.3 73.4 315.2Q72.6 314.1 72.5 312.5Q72.4 311.0 72.7 309.6Q73.0 308.2 73.5 306.8Q74.0 305.3 75.1 305.2Q76.2 305.0 77.2 305.4Q78.2 305.8 79.0 306.8Q79.8 307.9 79.8 309.5Z" fill="#9adf94" fill-opacity="0.55"/>
<path d="M80.3 327.0Q80.5 328.2 80.3 329.5Q80.2 330.7 79.4 331.6Q78.7 332.5 77.7 333.1Q76.7 333.6 75.7 333.1Q74.7 332.6 74.0 331.6Q73.2 330.7 73.2 329.5Q73.1 328.2 73.1 326.9Q73.2 325.6 74.0 324.8Q74.8 324.0 75.7 323.3Q76.7 322.5 77.7 323.2Q78.7 323.9 79.4 324.9Q80.0 325.8 80.3 327.0Z" fill="#9adf94" fill-opacity="0.55"/>
<path d="M163.0 299.3Q163.9 300.6 163.1 301.9Q162.3 303.3 160.6 304.1Q158.9 304.9 157.2 305.5Q155.6 306.1 153.8 306.3Q151.9 306.5 150.1 306.3Q148.3 306.0 146.2 305.7Q144.1 305.4 142.3 304.5Q140.5 303.5 140.6 302.1Q140.6 300.6 141.6 299.4Q142.6 298.2 143.7 297.2Q144.7 296.1 146.4 295.5Q148.1 294.9 150.0 294.7Q151.9 294.5 153.8 294.6Q155.8 294.8 157.5 295.5Q159.1 296.1 160.6 297.1Q162.1 298.0 163.0 299.3Z" fill="#9adf94" fill-opacity="0.85"/>
<path d="M145.4 317.6Q146.2 319.0 145.8 320.5Q145.4 322.0 144.4 323.4Q143.4 324.7 142.1 325.9Q140.8 327.0 139.0 327.7Q137.2 328.4 135.2 328.6Q133.3 328.7 131.4 328.5Q129.6 328.4 127.9 327.8Q126.3 327.3 124.8 326.6Q123.4 325.8 122.0 325.0Q120.6 324.1 119.4 323.0Q118.3 321.9 117.8 320.4Q117.3 319.0 117.4 317.5Q117.6 316.0 118.3 314.5Q119.0 313.1 120.5 312.1Q122.1 311.0 124.0 310.6Q125.9 310.1 127.7 309.7Q129.5 309.3 131.4 309.1Q133.4 308.9 135.1 309.5Q136.8 310.2 137.9 311.3Q139.0 312.5 140.2 313.4Q141.3 314.3 142.9 315.2Q144.5 316.2 145.4 317.6Z" fill="#9adf94" fill-opacity="0.85"/>
<path d="M117.4 329.2Q118.5 330.8 118.2 332.6Q118.0 334.4 116.8 336.0Q115.5 337.5 114.0 338.8Q112.6 340.1 110.9 341.4Q109.3 342.7 107.1 343.3Q104.9 343.9 102.6 343.2Q100.4 342.5 98.8 341.3Q97.2 340.0 95.7 339.2Q94.2 338.4 92.4 337.7Q90.6 336.9 89.2 335.6Q87.8 334.2 87.3 332.5Q86.8 330.8 86.9 329.0Q87.0 327.2 87.9 325.4Q88.7 323.7 90.6 322.6Q92.4 321.5 94.5 320.9Q96.5 320.3 98.4 319.5Q100.3 318.8 102.6 318.5Q104.8 318.2 106.8 319.0Q108.7 319.9 109.9 321.4Q111.1 322.8 112.2 324.0Q113.3 325.3 114.8 326.4Q116.3 327.6 117.4 329.2Z" fill="#9adf94" fill-opacity="0.85"/>
<path d="M123.5 251.2Q123.5 252.0 123.4 252.8Q123.4 253.5 122.8 254.2Q122.2 254.8 121.2 254.8Q120.3 254.8 119.5 254.7Q118.6 254.5 117.9 254.0Q117.1 253.6 116.9 252.8Q116.6 252.0 117.0 251.3Q117.5 250.6 118.0 250.0Q118.6 249.4 119.4 249.2Q120.3 248.9 121.2 249.2Q122.1 249.4 122.7 249.9Q123.4 250.4 123.5 251.2Z" fill="#9adf94" fill-opacity="0.85"/>
<path d="M111.6 312.4Q111.7 313.0 111.6 313.6Q111.6 314.2 111.1 314.8Q110.7 315.5 109.9 315.5Q109.0 315.5 108.3 315.3Q107.5 315.1 107.0 314.7Q106.5 314.2 106.2 313.6Q106.0 313.0 106.4 312.5Q106.7 311.9 107.1 311.3Q107.4 310.7 108.2 310.4Q109.0 310.0 109.7 310.5Q110.4 311.0 111.0 311.4Q111.5 311.8 111.6 312.4Z" fill="#9adf94" fill-opacity="0.4"/>
<path d="M61.8 281.6Q62.0 282.0 61.8 282.4Q61.6 282.8 60.9 283.1Q60.1 283.4 59.1 283.4Q58.0 283.4 57.1 283.3Q56.2 283.1 55.5 282.9Q54.7 282.7 53.9 282.4Q53.2 282.0 53.8 281.6Q54.5 281.2 55.3 281.0Q56.1 280.8 57.0 280.7Q58.0 280.6 59.0 280.7Q60.0 280.7 60.8 281.0Q61.6 281.2 61.8 281.6Z" fill="#9adf94" fill-opacity="0.4"/>
<path d="M127.0 295.8Q126.6 296.7 126.7 297.6Q126.7 298.5 126.6 299.5Q126.4 300.5 125.0 301.1Q123.6 301.7 121.9 301.9Q120.2 302.1 118.7 302.5Q117.2 302.9 115.5 303.2Q113.8 303.5 112.1 303.2Q110.4 302.9 109.1 302.2Q107.8 301.6 106.7 300.9Q105.7 300.1 105.0 299.3Q104.2 298.5 103.9 297.6Q103.5 296.7 103.5 295.7Q103.5 294.8 104.4 293.9Q105.3 293.1 106.8 292.6Q108.3 292.1 109.7 291.7Q111.0 291.2 112.4 290.7Q113.8 290.1 115.6 290.0Q117.4 289.9 118.9 290.4Q120.5 290.9 122.0 291.4Q123.4 291.8 125.0 292.4Q126.5 292.9 126.9 293.9Q127.4 294.8 127.0 295.8Z" fill="#7bd274"/>
<path d="M117.6 336.5Q117.7 337.4 117.5 338.3Q117.2 339.1 116.3 339.7Q115.4 340.4 114.2 340.9Q113.0 341.5 111.9 340.8Q110.8 340.1 109.7 339.6Q108.7 339.1 108.3 338.3Q107.9 337.4 108.4 336.6Q108.9 335.7 109.7 335.0Q110.5 334.3 111.7 334.0Q113.0 333.7 114.2 334.1Q115.4 334.4 116.5 335.0Q117.5 335.6 117.6 336.5Z" fill="#4f8f55" fill-opacity="0.7"/>
<path d="M55.6 248.6Q52.0 246.0 51.2 241.8Q50.4 237.5 53.9 232.7Q57.3 227.8 61.5 224.5Q65.7 221.3 71.2 222.6Q76.7 223.9 79.3 229.4Q82.0 234.9 84.6 238.1Q87.2 241.2 92.5 243.9Q97.7 246.5 101.2 251.2Q104.6 255.9 103.8 260.1Q103.0 264.3 98.8 265.7Q94.6 267.0 91.7 263.6Q88.8 260.1 83.8 255.7Q78.8 251.2 73.6 250.6Q68.3 249.9 63.7 250.6Q59.1 251.2 55.6 248.6Z" fill="#b6dbfa"/>
<path d="M111.7 281.6Q111.9 282.2 111.4 282.4Q110.9 282.5 110.0 282.1Q109.1 281.7 108.1 280.9Q107.0 280.2 106.3 279.3Q105.6 278.5 104.7 277.5Q103.9 276.6 103.9 276.1Q104.0 275.6 104.8 275.9Q105.6 276.1 106.2 276.2Q106.9 276.3 108.0 277.0Q109.0 277.7 109.9 278.7Q110.7 279.6 111.1 280.3Q111.5 281.0 111.7 281.6Z" fill="#b6dbfa"/>
<path d="M82.6 228.4Q83.1 229.7 82.6 231.1Q82.1 232.4 81.3 233.4Q80.5 234.4 79.4 234.8Q78.3 235.2 77.2 234.9Q76.0 234.5 75.2 233.5Q74.4 232.4 74.1 231.1Q73.8 229.7 74.1 228.3Q74.4 226.9 75.2 225.9Q76.1 224.9 77.2 224.5Q78.3 224.1 79.4 224.6Q80.5 225.1 81.3 226.1Q82.1 227.0 82.6 228.4Z" fill="#7a9fc6"/>
<path d="M103.5 248.3Q101.4 248.6 99.7 243.1Q98.0 237.5 99.3 232.7Q100.6 227.8 105.5 226.1Q110.4 224.4 115.9 224.1Q121.4 223.9 124.0 227.4Q126.6 231.0 124.7 233.9Q122.7 236.8 117.8 239.4Q113.0 242.0 109.3 245.0Q105.6 248.1 103.5 248.3Z" fill="#f9cb9d"/>
<path d="M94.9 228.4Q95.3 229.7 94.8 230.8Q94.4 232.0 93.9 233.1Q93.5 234.1 92.8 234.4Q92.0 234.6 91.2 234.4Q90.5 234.1 89.9 233.1Q89.4 232.2 89.2 231.0Q89.0 229.7 89.2 228.4Q89.3 227.1 89.9 226.3Q90.5 225.4 91.3 225.1Q92.0 224.7 92.7 225.1Q93.4 225.5 94.0 226.4Q94.6 227.2 94.9 228.4Z" fill="#f3ade9" fill-opacity="0.8"/>
<path d="M109.7 257.1Q107.2 256.5 108.5 252.3Q109.8 248.1 114.0 245.3Q118.2 242.5 123.5 240.8Q128.7 239.1 131.1 240.2Q133.5 241.2 130.1 244.1Q126.6 247.0 122.7 248.3Q118.8 249.6 115.5 253.7Q112.2 257.8 109.7 257.1Z" fill="#f18c7c"/>
<path d="M110.1 268.0Q104.6 262.5 111.4 259.0Q118.2 255.4 124.8 253.1Q131.4 250.7 137.7 252.3Q144.0 253.8 147.9 258.8Q151.9 263.8 152.4 268.4Q152.9 273.0 150.0 276.6Q147.1 280.1 141.9 282.1Q136.6 284.1 131.4 282.1Q126.1 280.1 120.9 276.8Q115.6 273.5 110.1 268.0Z" fill="#f8c2b6"/>
<path d="M145.5 284.9Q145.0 286.2 144.1 287.1Q143.3 288.0 143.7 289.6Q144.1 291.2 142.7 291.9Q141.3 292.7 139.7 292.7Q138.0 292.8 136.4 292.6Q134.8 292.4 133.7 291.5Q132.7 290.5 131.0 289.8Q129.3 289.1 129.1 287.7Q128.9 286.2 130.6 285.2Q132.3 284.3 133.0 283.5Q133.6 282.6 134.4 281.7Q135.2 280.7 136.6 279.6Q138.0 278.6 139.9 278.7Q141.7 278.9 142.7 280.2Q143.7 281.5 144.9 282.5Q146.0 283.5 145.5 284.9Z" fill="#a63c3c"/>
<path d="M167.5 285.9Q167.4 286.3 166.6 286.3Q165.9 286.3 165.0 286.1Q164.1 286.0 162.9 285.5Q161.8 285.0 160.5 284.5Q159.3 284.0 158.1 283.2Q157.0 282.4 156.3 281.6Q155.5 280.9 154.5 280.1Q153.5 279.2 153.4 278.7Q153.3 278.2 153.8 278.0Q154.3 277.8 155.3 278.0Q156.2 278.1 157.5 278.8Q158.8 279.4 160.0 280.0Q161.2 280.6 162.3 281.3Q163.4 282.1 164.3 282.8Q165.3 283.5 166.5 284.5Q167.7 285.4 167.5 285.9Z" fill="#d95555"/>
<circle cx="159.80" cy="256.50" r="1.30" fill="#d95555"/>
<path d="M88.0 267.5Q92.0 265.4 85.4 261.7Q78.8 258.0 72.3 256.5Q65.7 254.9 58.9 255.2Q52.0 255.4 50.4 259.6Q48.9 263.8 52.4 268.0Q56.0 272.2 63.5 271.6Q70.9 270.9 77.5 270.3Q84.1 269.6 88.0 267.5Z" fill="#dada62"/>
<path d="M92.2 253.6Q92.2 253.8 91.9 253.8Q91.6 253.8 91.2 253.7Q90.9 253.6 90.2 253.1Q89.6 252.5 89.0 252.0Q88.3 251.5 88.1 251.1Q87.9 250.7 87.8 250.4Q87.7 250.1 88.0 250.1Q88.3 250.1 88.7 250.3Q89.2 250.4 89.8 251.0Q90.4 251.5 91.0 252.0Q91.6 252.5 91.9 253.0Q92.3 253.5 92.2 253.6Z" fill="#3a5a8a"/>
<path d="M84.0 258.9Q84.4 259.2 83.7 259.1Q83.0 259.1 82.4 259.1Q81.9 259.1 80.9 258.8Q79.9 258.5 79.0 258.2Q78.0 258.0 77.2 257.7Q76.4 257.4 75.9 257.1Q75.4 256.8 76.2 256.8Q77.0 256.9 77.6 257.0Q78.3 257.0 79.2 257.2Q80.1 257.5 81.1 257.7Q82.1 258.0 82.8 258.3Q83.5 258.6 84.0 258.9Z" fill="#2f6f3f"/>
<circle cx="42.00" cy="292.70" r="1.00" fill="#c472d2"/>
<circle cx="47.50" cy="276.00" r="0.90" fill="#8f9128"/>
</g>
<rect x="14.50" y="194.70" width="160.20" height="155.80" fill="none" stroke="#000" stroke-width="0.9"/>
<text x="19.5" y="207.8" font-size="7.5">scRNA-seq</text>
<text x="94.0" y="360.0" font-size="7" text-anchor="middle">UMAP1</text>
<text x="10.0" y="272.0" font-size="7" text-anchor="middle" transform="rotate(-90 10 272)">UMAP2</text>
<text x="179.0" y="39.5" font-size="7.4">Cell types</text>
<circle cx="182.10" cy="49.90" r="1.90" fill="#7fd86f"/>
<text x="187.0" y="51.9" font-size="5.75">MBC</text>
<circle cx="182.10" cy="58.41" r="1.90" fill="#1a7a1a"/>
<text x="187.0" y="60.4" font-size="5.75">MBC_stem-like</text>
<circle cx="182.10" cy="66.92" r="1.90" fill="#3fae4a"/>
<text x="187.0" y="68.9" font-size="5.75">MBC_neuronal</text>
<circle cx="182.10" cy="75.43" r="1.90" fill="#0b4a0b"/>
<text x="187.0" y="77.4" font-size="5.75">MBC_chondroid</text>
<circle cx="182.10" cy="83.94" r="1.90" fill="#fdb360"/>
<text x="187.0" y="85.9" font-size="5.75">Endothelial</text>
<circle cx="182.10" cy="92.45" r="1.90" fill="#6e0808"/>
<text x="187.0" y="94.4" font-size="5.75">Endothelial_sinusoidal</text>
<circle cx="182.10" cy="100.96" r="1.90" fill="#e8781e"/>
<text x="187.0" y="103.0" font-size="5.75">Endothelial_angiogenic</text>
<circle cx="182.10" cy="109.47" r="1.90" fill="#b3420e"/>
<text x="187.0" y="111.5" font-size="5.75">Endothelial_vascular</text>
<circle cx="182.10" cy="117.98" r="1.90" fill="#d4d417"/>
<text x="187.0" y="120.0" font-size="5.75">Fibroblast</text>
<circle cx="182.10" cy="126.49" r="1.90" fill="#5f6210"/>
<text x="187.0" y="128.5" font-size="5.75">Chondrocyte</text>
<circle cx="182.10" cy="135.00" r="1.90" fill="#808a12"/>
<text x="187.0" y="137.0" font-size="5.75">Smooth muscle_vascular</text>
<circle cx="182.10" cy="143.51" r="1.90" fill="#3a3a06"/>
<text x="187.0" y="145.5" font-size="5.75">Stellate</text>
<circle cx="182.10" cy="152.02" r="1.90" fill="#b0b31a"/>
<text x="187.0" y="154.0" font-size="5.75">Skeletal muscle</text>
<circle cx="182.10" cy="160.53" r="1.90" fill="#c36ed6"/>
<text x="187.0" y="162.5" font-size="5.75">Adipocytes</text>
<circle cx="182.10" cy="169.04" r="1.90" fill="#f5a5f5"/>
<text x="187.0" y="171.0" font-size="5.75">Hepatocyte</text>
<circle cx="182.10" cy="177.55" r="1.90" fill="#54086e"/>
<text x="187.0" y="179.5" font-size="5.75">Keratinocyte</text>
<circle cx="182.10" cy="186.06" r="1.90" fill="#8e3aa6"/>
<text x="187.0" y="188.1" font-size="5.75">Neuron</text>
<circle cx="182.10" cy="194.57" r="1.90" fill="#a5d6ff"/>
<text x="187.0" y="196.6" font-size="5.75">Macrophage</text>
<circle cx="182.10" cy="203.08" r="1.90" fill="#3e86cc"/>
<text x="187.0" y="205.1" font-size="5.75">Monocyte</text>
<circle cx="182.10" cy="211.59" r="1.90" fill="#0d2a6e"/>
<text x="187.0" y="213.6" font-size="5.75">Neutrophil</text>
<circle cx="182.10" cy="220.10" r="1.90" fill="#6cb0ee"/>
<text x="187.0" y="222.1" font-size="5.75">Erythrocyte</text>
<circle cx="182.10" cy="228.61" r="1.90" fill="#1d5c9e"/>
<text x="187.0" y="230.6" font-size="5.75">Mast</text>
<circle cx="182.10" cy="237.12" r="1.90" fill="#fb6a5a"/>
<text x="187.0" y="239.1" font-size="5.75">B_plasma</text>
<circle cx="182.10" cy="245.63" r="1.90" fill="#d41616"/>
<text x="187.0" y="247.6" font-size="5.75">B</text>
<circle cx="182.10" cy="254.14" r="1.90" fill="#fcb5a5"/>
<text x="187.0" y="256.1" font-size="5.75">T</text>
<circle cx="182.10" cy="262.65" r="1.90" fill="#7a0c0c"/>
<text x="187.0" y="264.6" font-size="5.75">NK</text>
<text x="205.5" y="283.5" font-size="7.4">Compartments</text>
<rect x="210.00" y="290.30" width="8.00" height="8.00" fill="#1f77b4"/>
<text x="221.5" y="296.4" font-size="5.8">Malignant</text>
<rect x="210.00" y="304.65" width="8.00" height="8.00" fill="#ff7f0e"/>
<text x="221.5" y="310.8" font-size="5.8">Stromal</text>
<rect x="210.00" y="319.00" width="8.00" height="8.00" fill="#2a9d63"/>
<text x="221.5" y="325.1" font-size="5.8">Lymphoid</text>
<rect x="210.00" y="333.35" width="8.00" height="8.00" fill="#d62728"/>
<text x="221.5" y="339.5" font-size="5.8">Myeloid</text>
<text x="265.5" y="10.2" font-size="13" font-weight="bold" stroke="#000" stroke-width="0.45">b</text>
<rect x="294.60" y="22.30" width="231.00" height="114.80" fill="#fff" stroke="#555" stroke-width="0.6"/>
<rect x="295.75" y="27.50" width="5.80" height="104.80" fill="#1f77b4"/>
<rect x="295.75" y="41.65" width="5.80" height="90.65" fill="#ff7f0e"/>
<rect x="295.75" y="103.06" width="5.80" height="29.24" fill="#2a9d63"/>
<rect x="295.75" y="114.27" width="5.80" height="18.03" fill="#d62728"/>
<line x1="298.65" y1="137.10" x2="298.65" y2="139.30" stroke="#444" stroke-width="0.5"/>
<text x="301.0" y="141.7" font-size="5.6" text-anchor="end" transform="rotate(-57 301.05 141.7)" fill="#707070">211-6151</text>
<rect x="301.95" y="27.50" width="5.80" height="104.80" fill="#1f77b4"/>
<rect x="301.95" y="64.28" width="5.80" height="68.02" fill="#ff7f0e"/>
<rect x="301.95" y="104.21" width="5.80" height="28.09" fill="#2a9d63"/>
<rect x="301.95" y="110.92" width="5.80" height="21.38" fill="#d62728"/>
<line x1="304.85" y1="137.10" x2="304.85" y2="139.30" stroke="#444" stroke-width="0.5"/>
<text x="307.2" y="141.7" font-size="5.6" text-anchor="end" transform="rotate(-57 307.25 141.7)" fill="#707070">213-6152</text>
<rect x="308.15" y="27.50" width="5.80" height="104.80" fill="#1f77b4"/>
<rect x="308.15" y="35.05" width="5.80" height="97.25" fill="#ff7f0e"/>
<rect x="308.15" y="94.99" width="5.80" height="37.31" fill="#2a9d63"/>
<rect x="308.15" y="118.26" width="5.80" height="14.04" fill="#d62728"/>
<line x1="311.05" y1="137.10" x2="311.05" y2="139.30" stroke="#444" stroke-width="0.5"/>
<text x="313.4" y="141.7" font-size="6.2" text-anchor="end" font-weight="bold" transform="rotate(-57 313.45 141.7)">223-6735</text>
<rect x="314.35" y="27.50" width="5.80" height="104.80" fill="#1f77b4"/>
<rect x="314.35" y="103.90" width="5.80" height="28.40" fill="#ff7f0e"/>
<rect x="314.35" y="120.04" width="5.80" height="12.26" fill="#2a9d63"/>
<rect x="314.35" y="123.50" width="5.80" height="8.80" fill="#d62728"/>
<line x1="317.25" y1="137.10" x2="317.25" y2="139.30" stroke="#444" stroke-width="0.5"/>
<text x="319.6" y="141.7" font-size="6.2" text-anchor="end" font-weight="bold" transform="rotate(-57 319.65 141.7)">223-7537</text>
<rect x="320.55" y="27.50" width="5.80" height="104.80" fill="#1f77b4"/>
<rect x="320.55" y="72.14" width="5.80" height="60.16" fill="#ff7f0e"/>
<rect x="320.55" y="122.34" width="5.80" height="9.96" fill="#2a9d63"/>
<rect x="320.55" y="129.99" width="5.80" height="2.31" fill="#d62728"/>
<line x1="323.45" y1="137.10" x2="323.45" y2="139.30" stroke="#444" stroke-width="0.5"/>
<text x="325.8" y="141.7" font-size="5.6" text-anchor="end" transform="rotate(-57 325.85 141.7)" fill="#707070">225-6156</text>
<rect x="326.75" y="27.50" width="5.80" height="104.80" fill="#1f77b4"/>
<rect x="326.75" y="97.40" width="5.80" height="34.90" fill="#ff7f0e"/>
<rect x="326.75" y="115.85" width="5.80" height="16.45" fill="#2a9d63"/>
<rect x="326.75" y="122.13" width="5.80" height="10.17" fill="#d62728"/>
<line x1="329.65" y1="137.10" x2="329.65" y2="139.30" stroke="#444" stroke-width="0.5"/>
<text x="332.0" y="141.7" font-size="5.6" text-anchor="end" transform="rotate(-57 332.05 141.7)" fill="#707070">226-6157</text>
<rect x="332.95" y="27.50" width="5.80" height="104.80" fill="#1f77b4"/>
<rect x="332.95" y="80.74" width="5.80" height="51.56" fill="#ff7f0e"/>
<rect x="332.95" y="87.13" width="5.80" height="45.17" fill="#2a9d63"/>
<rect x="332.95" y="119.83" width="5.80" height="12.47" fill="#d62728"/>
<line x1="335.85" y1="137.10" x2="335.85" y2="139.30" stroke="#444" stroke-width="0.5"/>
<text x="338.2" y="141.7" font-size="5.6" text-anchor="end" transform="rotate(-57 338.25 141.7)" fill="#707070">231-6158</text>
<rect x="339.15" y="27.50" width="5.80" height="104.80" fill="#1f77b4"/>
<rect x="339.15" y="27.50" width="5.80" height="104.80" fill="#ff7f0e"/>
<rect x="339.15" y="121.82" width="5.80" height="10.48" fill="#2a9d63"/>
<rect x="339.15" y="124.96" width="5.80" height="7.34" fill="#d62728"/>
<line x1="342.05" y1="137.10" x2="342.05" y2="139.30" stroke="#444" stroke-width="0.5"/>
<text x="344.4" y="141.7" font-size="5.6" text-anchor="end" transform="rotate(-57 344.45 141.7)" fill="#707070">232-6159</text>
<rect x="345.35" y="27.50" width="5.80" height="104.80" fill="#1f77b4"/>
<rect x="345.35" y="122.34" width="5.80" height="9.96" fill="#ff7f0e"/>
<rect x="345.35" y="128.84" width="5.80" height="3.46" fill="#2a9d63"/>
<rect x="345.35" y="128.84" width="5.80" height="3.46" fill="#d62728"/>
<line x1="348.25" y1="137.10" x2="348.25" y2="139.30" stroke="#444" stroke-width="0.5"/>
<text x="350.6" y="141.7" font-size="6.2" text-anchor="end" font-weight="bold" transform="rotate(-57 350.65 141.7)">282-610</text>
<rect x="351.55" y="27.50" width="5.80" height="104.80" fill="#1f77b4"/>
<rect x="351.55" y="88.18" width="5.80" height="44.12" fill="#ff7f0e"/>
<rect x="351.55" y="108.30" width="5.80" height="24.00" fill="#2a9d63"/>
<rect x="351.55" y="117.42" width="5.80" height="14.88" fill="#d62728"/>
<line x1="354.45" y1="137.10" x2="354.45" y2="139.30" stroke="#444" stroke-width="0.5"/>
<text x="356.8" y="141.7" font-size="5.6" text-anchor="end" transform="rotate(-57 356.85 141.7)" fill="#707070">514-6760</text>
<rect x="357.75" y="27.50" width="5.80" height="104.80" fill="#1f77b4"/>
<rect x="357.75" y="73.40" width="5.80" height="58.90" fill="#ff7f0e"/>
<rect x="357.75" y="114.27" width="5.80" height="18.03" fill="#2a9d63"/>
<rect x="357.75" y="120.25" width="5.80" height="12.05" fill="#d62728"/>
<line x1="360.65" y1="137.10" x2="360.65" y2="139.30" stroke="#444" stroke-width="0.5"/>
<text x="363.0" y="141.7" font-size="5.6" text-anchor="end" transform="rotate(-57 363.05 141.7)" fill="#707070">516-6161</text>
<rect x="363.95" y="27.50" width="5.80" height="104.80" fill="#1f77b4"/>
<rect x="363.95" y="95.10" width="5.80" height="37.20" fill="#ff7f0e"/>
<rect x="363.95" y="111.97" width="5.80" height="20.33" fill="#2a9d63"/>
<rect x="363.95" y="122.13" width="5.80" height="10.17" fill="#d62728"/>
<line x1="366.85" y1="137.10" x2="366.85" y2="139.30" stroke="#444" stroke-width="0.5"/>
<text x="369.2" y="141.7" font-size="5.6" text-anchor="end" transform="rotate(-57 369.25 141.7)" fill="#707070">519-6162</text>
<rect x="370.15" y="27.50" width="5.80" height="104.80" fill="#1f77b4"/>
<rect x="370.15" y="104.95" width="5.80" height="27.35" fill="#ff7f0e"/>
<rect x="370.15" y="130.52" width="5.80" height="1.78" fill="#2a9d63"/>
<rect x="370.15" y="130.52" width="5.80" height="1.78" fill="#d62728"/>
<line x1="373.05" y1="137.10" x2="373.05" y2="139.30" stroke="#444" stroke-width="0.5"/>
<text x="375.4" y="141.7" font-size="5.6" text-anchor="end" transform="rotate(-57 375.45 141.7)" fill="#707070">521-6163</text>
<rect x="376.35" y="27.50" width="5.80" height="104.80" fill="#1f77b4"/>
<rect x="376.35" y="108.09" width="5.80" height="24.21" fill="#ff7f0e"/>
<rect x="376.35" y="124.96" width="5.80" height="7.34" fill="#2a9d63"/>
<rect x="376.35" y="130.20" width="5.80" height="2.10" fill="#d62728"/>
<line x1="379.25" y1="137.10" x2="379.25" y2="139.30" stroke="#444" stroke-width="0.5"/>
<text x="381.6" y="141.7" font-size="5.6" text-anchor="end" transform="rotate(-57 381.65 141.7)" fill="#707070">525-6165</text>
<rect x="382.55" y="27.50" width="5.80" height="104.80" fill="#1f77b4"/>
<rect x="382.55" y="121.82" width="5.80" height="10.48" fill="#ff7f0e"/>
<rect x="382.55" y="126.01" width="5.80" height="6.29" fill="#2a9d63"/>
<rect x="382.55" y="128.32" width="5.80" height="3.98" fill="#d62728"/>
<line x1="385.45" y1="137.10" x2="385.45" y2="139.30" stroke="#444" stroke-width="0.5"/>
<text x="387.8" y="141.7" font-size="6.2" text-anchor="end" font-weight="bold" transform="rotate(-57 387.85 141.7)">589-2851</text>
<rect x="388.75" y="27.50" width="5.80" height="104.80" fill="#1f77b4"/>
<rect x="388.75" y="27.50" width="5.80" height="104.80" fill="#ff7f0e"/>
<rect x="388.75" y="123.92" width="5.80" height="8.38" fill="#2a9d63"/>
<line x1="391.65" y1="137.10" x2="391.65" y2="139.30" stroke="#444" stroke-width="0.5"/>
<text x="394.0" y="141.7" font-size="6.2" text-anchor="end" font-weight="bold" transform="rotate(-57 394.05 141.7)">589-2860</text>
<rect x="394.95" y="27.50" width="5.80" height="104.80" fill="#1f77b4"/>
<rect x="394.95" y="128.32" width="5.80" height="3.98" fill="#ff7f0e"/>
<line x1="397.85" y1="137.10" x2="397.85" y2="139.30" stroke="#444" stroke-width="0.5"/>
<text x="400.2" y="141.7" font-size="5.6" text-anchor="end" transform="rotate(-57 400.25 141.7)" fill="#707070">592-3001</text>
<rect x="401.15" y="27.50" width="5.80" height="104.80" fill="#1f77b4"/>
<rect x="401.15" y="106.20" width="5.80" height="26.10" fill="#ff7f0e"/>
<rect x="401.15" y="125.80" width="5.80" height="6.50" fill="#2a9d63"/>
<rect x="401.15" y="130.20" width="5.80" height="2.10" fill="#d62728"/>
<line x1="404.05" y1="137.10" x2="404.05" y2="139.30" stroke="#444" stroke-width="0.5"/>
<text x="406.4" y="141.7" font-size="6.2" text-anchor="end" font-weight="bold" transform="rotate(-57 406.45 141.7)">606-6769</text>
<rect x="407.35" y="27.50" width="5.80" height="104.80" fill="#1f77b4"/>
<rect x="407.35" y="86.92" width="5.80" height="45.38" fill="#ff7f0e"/>
<rect x="407.35" y="125.07" width="5.80" height="7.23" fill="#2a9d63"/>
<rect x="407.35" y="125.07" width="5.80" height="7.23" fill="#d62728"/>
<line x1="410.25" y1="137.10" x2="410.25" y2="139.30" stroke="#444" stroke-width="0.5"/>
<text x="412.6" y="141.7" font-size="5.6" text-anchor="end" transform="rotate(-57 412.65 141.7)" fill="#707070">614-6819</text>
<rect x="413.55" y="27.50" width="5.80" height="104.80" fill="#1f77b4"/>
<rect x="413.55" y="66.90" width="5.80" height="65.40" fill="#ff7f0e"/>
<rect x="413.55" y="76.44" width="5.80" height="55.86" fill="#2a9d63"/>
<rect x="413.55" y="129.16" width="5.80" height="3.14" fill="#d62728"/>
<line x1="416.45" y1="137.10" x2="416.45" y2="139.30" stroke="#444" stroke-width="0.5"/>
<text x="418.8" y="141.7" font-size="5.6" text-anchor="end" transform="rotate(-57 418.85 141.7)" fill="#707070">636-6998</text>
<rect x="419.75" y="27.50" width="5.80" height="104.80" fill="#1f77b4"/>
<rect x="419.75" y="77.07" width="5.80" height="55.23" fill="#ff7f0e"/>
<rect x="419.75" y="129.16" width="5.80" height="3.14" fill="#2a9d63"/>
<line x1="422.65" y1="137.10" x2="422.65" y2="139.30" stroke="#444" stroke-width="0.5"/>
<text x="425.0" y="141.7" font-size="5.6" text-anchor="end" transform="rotate(-57 425.05 141.7)" fill="#707070">651-7016</text>
<rect x="425.95" y="27.50" width="5.80" height="104.80" fill="#1f77b4"/>
<rect x="425.95" y="109.77" width="5.80" height="22.53" fill="#ff7f0e"/>
<rect x="425.95" y="124.65" width="5.80" height="7.65" fill="#2a9d63"/>
<rect x="425.95" y="129.99" width="5.80" height="2.31" fill="#d62728"/>
<line x1="428.85" y1="137.10" x2="428.85" y2="139.30" stroke="#444" stroke-width="0.5"/>
<text x="431.2" y="141.7" font-size="6.2" text-anchor="end" font-weight="bold" transform="rotate(-57 431.25 141.7)">662-7059</text>
<rect x="432.15" y="27.50" width="5.80" height="104.80" fill="#1f77b4"/>
<rect x="432.15" y="113.23" width="5.80" height="19.07" fill="#ff7f0e"/>
<rect x="432.15" y="130.73" width="5.80" height="1.57" fill="#2a9d63"/>
<line x1="435.05" y1="137.10" x2="435.05" y2="139.30" stroke="#444" stroke-width="0.5"/>
<text x="437.4" y="141.7" font-size="6.2" text-anchor="end" font-weight="bold" transform="rotate(-57 437.45 141.7)">662-7060</text>
<rect x="438.35" y="27.50" width="5.80" height="104.80" fill="#1f77b4"/>
<rect x="438.35" y="27.50" width="5.80" height="104.80" fill="#ff7f0e"/>
<rect x="438.35" y="124.13" width="5.80" height="8.17" fill="#2a9d63"/>
<rect x="438.35" y="126.54" width="5.80" height="5.76" fill="#d62728"/>
<line x1="441.25" y1="137.10" x2="441.25" y2="139.30" stroke="#444" stroke-width="0.5"/>
<text x="443.6" y="141.7" font-size="5.6" text-anchor="end" transform="rotate(-57 443.65 141.7)" fill="#707070">670-7069</text>
<rect x="444.55" y="27.50" width="5.80" height="104.80" fill="#1f77b4"/>
<rect x="444.55" y="27.50" width="5.80" height="104.80" fill="#ff7f0e"/>
<rect x="444.55" y="125.80" width="5.80" height="6.50" fill="#2a9d63"/>
<rect x="444.55" y="131.78" width="5.80" height="0.52" fill="#d62728"/>
<line x1="447.45" y1="137.10" x2="447.45" y2="139.30" stroke="#444" stroke-width="0.5"/>
<text x="449.8" y="141.7" font-size="5.6" text-anchor="end" transform="rotate(-57 449.85 141.7)" fill="#707070">673-7118</text>
<rect x="450.75" y="27.50" width="5.80" height="104.80" fill="#1f77b4"/>
<rect x="450.75" y="59.67" width="5.80" height="72.63" fill="#ff7f0e"/>
<rect x="450.75" y="114.17" width="5.80" height="18.13" fill="#2a9d63"/>
<rect x="450.75" y="125.07" width="5.80" height="7.23" fill="#d62728"/>
<line x1="453.65" y1="137.10" x2="453.65" y2="139.30" stroke="#444" stroke-width="0.5"/>
<text x="456.0" y="141.7" font-size="5.6" text-anchor="end" transform="rotate(-57 456.05 141.7)" fill="#707070">676-7149</text>
<rect x="456.95" y="27.50" width="5.80" height="104.80" fill="#1f77b4"/>
<rect x="456.95" y="126.01" width="5.80" height="6.29" fill="#ff7f0e"/>
<rect x="456.95" y="129.99" width="5.80" height="2.31" fill="#2a9d63"/>
<rect x="456.95" y="130.94" width="5.80" height="1.36" fill="#d62728"/>
<line x1="459.85" y1="137.10" x2="459.85" y2="139.30" stroke="#444" stroke-width="0.5"/>
<text x="462.2" y="141.7" font-size="5.6" text-anchor="end" transform="rotate(-57 462.25 141.7)" fill="#707070">680-7176</text>
<rect x="463.15" y="27.50" width="5.80" height="104.80" fill="#1f77b4"/>
<rect x="463.15" y="83.67" width="5.80" height="48.63" fill="#ff7f0e"/>
<rect x="463.15" y="107.15" width="5.80" height="25.15" fill="#2a9d63"/>
<rect x="463.15" y="122.97" width="5.80" height="9.33" fill="#d62728"/>
<line x1="466.05" y1="137.10" x2="466.05" y2="139.30" stroke="#444" stroke-width="0.5"/>
<text x="468.4" y="141.7" font-size="6.2" text-anchor="end" font-weight="bold" transform="rotate(-57 468.45 141.7)">687-7229</text>
<rect x="469.35" y="27.50" width="5.80" height="104.80" fill="#1f77b4"/>
<rect x="469.35" y="116.27" width="5.80" height="16.03" fill="#ff7f0e"/>
<rect x="469.35" y="127.58" width="5.80" height="4.72" fill="#2a9d63"/>
<rect x="469.35" y="127.58" width="5.80" height="4.72" fill="#d62728"/>
<line x1="472.25" y1="137.10" x2="472.25" y2="139.30" stroke="#444" stroke-width="0.5"/>
<text x="474.6" y="141.7" font-size="6.2" text-anchor="end" font-weight="bold" transform="rotate(-57 474.65 141.7)">687-7250</text>
<rect x="475.55" y="27.50" width="5.80" height="104.80" fill="#1f77b4"/>
<rect x="475.55" y="27.50" width="5.80" height="104.80" fill="#ff7f0e"/>
<rect x="475.55" y="125.28" width="5.80" height="7.02" fill="#2a9d63"/>
<rect x="475.55" y="128.11" width="5.80" height="4.19" fill="#d62728"/>
<line x1="478.45" y1="137.10" x2="478.45" y2="139.30" stroke="#444" stroke-width="0.5"/>
<text x="480.8" y="141.7" font-size="6.2" text-anchor="end" font-weight="bold" transform="rotate(-57 480.85 141.7)">689-7269</text>
<rect x="481.75" y="27.50" width="5.80" height="104.80" fill="#1f77b4"/>
<rect x="481.75" y="54.75" width="5.80" height="77.55" fill="#ff7f0e"/>
<rect x="481.75" y="117.42" width="5.80" height="14.88" fill="#2a9d63"/>
<rect x="481.75" y="126.22" width="5.80" height="6.08" fill="#d62728"/>
<line x1="484.65" y1="137.10" x2="484.65" y2="139.30" stroke="#444" stroke-width="0.5"/>
<text x="487.0" y="141.7" font-size="6.2" text-anchor="end" font-weight="bold" transform="rotate(-57 487.05 141.7)">689-7270</text>
<rect x="487.95" y="27.50" width="5.80" height="104.80" fill="#1f77b4"/>
<rect x="487.95" y="126.01" width="5.80" height="6.29" fill="#ff7f0e"/>
<rect x="487.95" y="131.15" width="5.80" height="1.15" fill="#2a9d63"/>
<rect x="487.95" y="131.15" width="5.80" height="1.15" fill="#d62728"/>
<line x1="490.85" y1="137.10" x2="490.85" y2="139.30" stroke="#444" stroke-width="0.5"/>
<text x="493.2" y="141.7" font-size="5.6" text-anchor="end" transform="rotate(-57 493.25 141.7)" fill="#707070">690-7299</text>
<rect x="494.15" y="27.50" width="5.80" height="104.80" fill="#1f77b4"/>
<rect x="494.15" y="100.34" width="5.80" height="31.96" fill="#ff7f0e"/>
<rect x="494.15" y="105.58" width="5.80" height="26.72" fill="#2a9d63"/>
<rect x="494.15" y="123.71" width="5.80" height="8.59" fill="#d62728"/>
<line x1="497.05" y1="137.10" x2="497.05" y2="139.30" stroke="#444" stroke-width="0.5"/>
<text x="499.4" y="141.7" font-size="5.6" text-anchor="end" transform="rotate(-57 499.45 141.7)" fill="#707070">695-7359</text>
<rect x="500.35" y="27.50" width="5.80" height="104.80" fill="#1f77b4"/>
<rect x="500.35" y="67.85" width="5.80" height="64.45" fill="#ff7f0e"/>
<rect x="500.35" y="122.87" width="5.80" height="9.43" fill="#2a9d63"/>
<rect x="500.35" y="124.65" width="5.80" height="7.65" fill="#d62728"/>
<line x1="503.25" y1="137.10" x2="503.25" y2="139.30" stroke="#444" stroke-width="0.5"/>
<text x="505.6" y="141.7" font-size="5.6" text-anchor="end" transform="rotate(-57 505.65 141.7)" fill="#707070">944-7479</text>
<rect x="506.55" y="27.50" width="5.80" height="104.80" fill="#1f77b4"/>
<rect x="506.55" y="107.36" width="5.80" height="24.94" fill="#ff7f0e"/>
<rect x="506.55" y="124.96" width="5.80" height="7.34" fill="#2a9d63"/>
<rect x="506.55" y="129.16" width="5.80" height="3.14" fill="#d62728"/>
<line x1="509.45" y1="137.10" x2="509.45" y2="139.30" stroke="#444" stroke-width="0.5"/>
<text x="511.8" y="141.7" font-size="5.6" text-anchor="end" transform="rotate(-57 511.85 141.7)" fill="#707070">947-7508</text>
<rect x="512.75" y="27.50" width="5.80" height="104.80" fill="#1f77b4"/>
<rect x="512.75" y="80.11" width="5.80" height="52.19" fill="#ff7f0e"/>
<rect x="512.75" y="104.11" width="5.80" height="28.19" fill="#2a9d63"/>
<rect x="512.75" y="118.36" width="5.80" height="13.94" fill="#d62728"/>
<line x1="515.65" y1="137.10" x2="515.65" y2="139.30" stroke="#444" stroke-width="0.5"/>
<text x="518.0" y="141.7" font-size="5.6" text-anchor="end" transform="rotate(-57 518.05 141.7)" fill="#707070">983-4741</text>
<rect x="518.95" y="27.50" width="5.80" height="104.80" fill="#1f77b4"/>
<rect x="518.95" y="87.86" width="5.80" height="44.44" fill="#ff7f0e"/>
<rect x="518.95" y="128.11" width="5.80" height="4.19" fill="#2a9d63"/>
<rect x="518.95" y="129.68" width="5.80" height="2.62" fill="#d62728"/>
<line x1="521.85" y1="137.10" x2="521.85" y2="139.30" stroke="#444" stroke-width="0.5"/>
<text x="524.2" y="141.7" font-size="5.6" text-anchor="end" transform="rotate(-57 524.25 141.7)" fill="#707070">987-7769</text>
<line x1="292.40" y1="27.50" x2="294.60" y2="27.50" stroke="#444" stroke-width="0.5"/>
<text x="290.0" y="29.5" font-size="5.7" text-anchor="end" fill="#222">1</text>
<line x1="292.40" y1="53.70" x2="294.60" y2="53.70" stroke="#444" stroke-width="0.5"/>
<text x="290.0" y="55.7" font-size="5.7" text-anchor="end" fill="#222">0.75</text>
<line x1="292.40" y1="79.90" x2="294.60" y2="79.90" stroke="#444" stroke-width="0.5"/>
<text x="290.0" y="81.9" font-size="5.7" text-anchor="end" fill="#222">0.50</text>
<line x1="292.40" y1="106.10" x2="294.60" y2="106.10" stroke="#444" stroke-width="0.5"/>
<text x="290.0" y="108.1" font-size="5.7" text-anchor="end" fill="#222">0.25</text>
<line x1="292.40" y1="132.30" x2="294.60" y2="132.30" stroke="#444" stroke-width="0.5"/>
<text x="290.0" y="134.3" font-size="5.7" text-anchor="end" fill="#222">0</text>
<text x="295.2" y="16.9" font-size="7.5">snRNA-seq</text>
<text x="270.5" y="79.9" font-size="7.6" text-anchor="middle" transform="rotate(-90 270.5 79.9)">Fraction of cells</text>
<rect x="294.30" y="210.70" width="231.30" height="114.80" fill="#fff" stroke="#555" stroke-width="0.6"/>
<rect x="296.00" y="215.40" width="7.10" height="104.60" fill="#1f77b4"/>
<rect x="296.00" y="306.30" width="7.10" height="13.70" fill="#ff7f0e"/>
<rect x="296.00" y="308.81" width="7.10" height="11.19" fill="#2a9d63"/>
<rect x="296.00" y="315.92" width="7.10" height="4.08" fill="#d62728"/>
<line x1="299.55" y1="325.50" x2="299.55" y2="327.70" stroke="#444" stroke-width="0.5"/>
<text x="301.9" y="330.1" font-size="6.2" text-anchor="end" font-weight="bold" transform="rotate(-57 301.95 330.1)">282-602</text>
<rect x="303.62" y="215.40" width="7.10" height="104.60" fill="#1f77b4"/>
<rect x="303.62" y="273.24" width="7.10" height="46.76" fill="#ff7f0e"/>
<rect x="303.62" y="284.23" width="7.10" height="35.77" fill="#2a9d63"/>
<rect x="303.62" y="309.75" width="7.10" height="10.25" fill="#d62728"/>
<line x1="307.17" y1="325.50" x2="307.17" y2="327.70" stroke="#444" stroke-width="0.5"/>
<text x="309.6" y="330.1" font-size="5.6" text-anchor="end" transform="rotate(-57 309.57 330.1)" fill="#707070">285-751</text>
<rect x="311.24" y="215.40" width="7.10" height="104.60" fill="#1f77b4"/>
<rect x="311.24" y="215.40" width="7.10" height="104.60" fill="#ff7f0e"/>
<rect x="311.24" y="217.49" width="7.10" height="102.51" fill="#2a9d63"/>
<rect x="311.24" y="304.73" width="7.10" height="15.27" fill="#d62728"/>
<line x1="314.79" y1="325.50" x2="314.79" y2="327.70" stroke="#444" stroke-width="0.5"/>
<text x="317.2" y="330.1" font-size="5.6" text-anchor="end" transform="rotate(-57 317.19 330.1)" fill="#707070">308-871</text>
<rect x="318.86" y="215.40" width="7.10" height="104.60" fill="#1f77b4"/>
<rect x="318.86" y="276.90" width="7.10" height="43.10" fill="#ff7f0e"/>
<rect x="318.86" y="284.44" width="7.10" height="35.56" fill="#2a9d63"/>
<rect x="318.86" y="308.39" width="7.10" height="11.61" fill="#d62728"/>
<line x1="322.41" y1="325.50" x2="322.41" y2="327.70" stroke="#444" stroke-width="0.5"/>
<text x="324.8" y="330.1" font-size="5.6" text-anchor="end" transform="rotate(-57 324.81 330.1)" fill="#707070">313-932</text>
<rect x="326.48" y="215.40" width="7.10" height="104.60" fill="#1f77b4"/>
<rect x="326.48" y="249.29" width="7.10" height="70.71" fill="#ff7f0e"/>
<rect x="326.48" y="267.91" width="7.10" height="52.09" fill="#2a9d63"/>
<rect x="326.48" y="299.60" width="7.10" height="20.40" fill="#d62728"/>
<line x1="330.03" y1="325.50" x2="330.03" y2="327.70" stroke="#444" stroke-width="0.5"/>
<text x="332.4" y="330.1" font-size="5.6" text-anchor="end" transform="rotate(-57 332.43 330.1)" fill="#707070">321-1021</text>
<rect x="334.10" y="215.40" width="7.10" height="104.60" fill="#1f77b4"/>
<rect x="334.10" y="222.51" width="7.10" height="97.49" fill="#ff7f0e"/>
<rect x="334.10" y="239.46" width="7.10" height="80.54" fill="#2a9d63"/>
<rect x="334.10" y="245.84" width="7.10" height="74.16" fill="#d62728"/>
<line x1="337.65" y1="325.50" x2="337.65" y2="327.70" stroke="#444" stroke-width="0.5"/>
<text x="340.1" y="330.1" font-size="5.6" text-anchor="end" transform="rotate(-57 340.05 330.1)" fill="#707070">330-1082</text>
<rect x="341.72" y="215.40" width="7.10" height="104.60" fill="#1f77b4"/>
<rect x="341.72" y="217.07" width="7.10" height="102.93" fill="#ff7f0e"/>
<rect x="341.72" y="237.68" width="7.10" height="82.32" fill="#2a9d63"/>
<rect x="341.72" y="284.44" width="7.10" height="35.56" fill="#d62728"/>
<line x1="345.27" y1="325.50" x2="345.27" y2="327.70" stroke="#444" stroke-width="0.5"/>
<text x="347.7" y="330.1" font-size="5.6" text-anchor="end" transform="rotate(-57 347.67 330.1)" fill="#707070">364-1321</text>
<rect x="349.34" y="215.40" width="7.10" height="104.60" fill="#1f77b4"/>
<rect x="349.34" y="222.30" width="7.10" height="97.70" fill="#ff7f0e"/>
<rect x="349.34" y="279.21" width="7.10" height="40.79" fill="#2a9d63"/>
<rect x="349.34" y="293.43" width="7.10" height="26.57" fill="#d62728"/>
<line x1="352.89" y1="325.50" x2="352.89" y2="327.70" stroke="#444" stroke-width="0.5"/>
<text x="355.3" y="330.1" font-size="5.6" text-anchor="end" transform="rotate(-57 355.29 330.1)" fill="#707070">382-1441</text>
<rect x="356.96" y="215.40" width="7.10" height="104.60" fill="#1f77b4"/>
<rect x="356.96" y="224.19" width="7.10" height="95.81" fill="#ff7f0e"/>
<rect x="356.96" y="224.19" width="7.10" height="95.81" fill="#2a9d63"/>
<rect x="356.96" y="264.88" width="7.10" height="55.12" fill="#d62728"/>
<line x1="360.51" y1="325.50" x2="360.51" y2="327.70" stroke="#444" stroke-width="0.5"/>
<text x="362.9" y="330.1" font-size="5.6" text-anchor="end" transform="rotate(-57 362.91 330.1)" fill="#707070">414-1681</text>
<rect x="364.58" y="215.40" width="7.10" height="104.60" fill="#1f77b4"/>
<rect x="364.58" y="246.78" width="7.10" height="73.22" fill="#ff7f0e"/>
<rect x="364.58" y="255.88" width="7.10" height="64.12" fill="#2a9d63"/>
<rect x="364.58" y="303.05" width="7.10" height="16.95" fill="#d62728"/>
<line x1="368.13" y1="325.50" x2="368.13" y2="327.70" stroke="#444" stroke-width="0.5"/>
<text x="370.5" y="330.1" font-size="5.6" text-anchor="end" transform="rotate(-57 370.53 330.1)" fill="#707070">423-1741</text>
<rect x="372.20" y="215.40" width="7.10" height="104.60" fill="#1f77b4"/>
<rect x="372.20" y="256.93" width="7.10" height="63.07" fill="#ff7f0e"/>
<rect x="372.20" y="279.94" width="7.10" height="40.06" fill="#2a9d63"/>
<rect x="372.20" y="302.01" width="7.10" height="17.99" fill="#d62728"/>
<line x1="375.75" y1="325.50" x2="375.75" y2="327.70" stroke="#444" stroke-width="0.5"/>
<text x="378.1" y="330.1" font-size="5.6" text-anchor="end" transform="rotate(-57 378.15 330.1)" fill="#707070">425-1771</text>
<rect x="379.82" y="215.40" width="7.10" height="104.60" fill="#1f77b4"/>
<rect x="379.82" y="215.40" width="7.10" height="104.60" fill="#ff7f0e"/>
<rect x="379.82" y="215.82" width="7.10" height="104.18" fill="#2a9d63"/>
<rect x="379.82" y="285.06" width="7.10" height="34.94" fill="#d62728"/>
<line x1="383.37" y1="325.50" x2="383.37" y2="327.70" stroke="#444" stroke-width="0.5"/>
<text x="385.8" y="330.1" font-size="5.6" text-anchor="end" transform="rotate(-57 385.77 330.1)" fill="#707070">582-2581</text>
<rect x="387.44" y="215.40" width="7.10" height="104.60" fill="#1f77b4"/>
<rect x="387.44" y="239.14" width="7.10" height="80.86" fill="#ff7f0e"/>
<rect x="387.44" y="259.12" width="7.10" height="60.88" fill="#2a9d63"/>
<rect x="387.44" y="290.40" width="7.10" height="29.60" fill="#d62728"/>
<line x1="390.99" y1="325.50" x2="390.99" y2="327.70" stroke="#444" stroke-width="0.5"/>
<text x="393.4" y="330.1" font-size="5.6" text-anchor="end" transform="rotate(-57 393.39 330.1)" fill="#707070">596-6599</text>
<rect x="395.06" y="215.40" width="7.10" height="104.60" fill="#1f77b4"/>
<rect x="395.06" y="312.47" width="7.10" height="7.53" fill="#ff7f0e"/>
<rect x="395.06" y="315.08" width="7.10" height="4.92" fill="#2a9d63"/>
<rect x="395.06" y="316.13" width="7.10" height="3.87" fill="#d62728"/>
<line x1="398.61" y1="325.50" x2="398.61" y2="327.70" stroke="#444" stroke-width="0.5"/>
<text x="401.0" y="330.1" font-size="5.6" text-anchor="end" transform="rotate(-57 401.01 330.1)" fill="#707070">611-3062</text>
<rect x="402.68" y="215.40" width="7.10" height="104.60" fill="#1f77b4"/>
<rect x="402.68" y="223.14" width="7.10" height="96.86" fill="#ff7f0e"/>
<rect x="402.68" y="268.54" width="7.10" height="51.46" fill="#2a9d63"/>
<rect x="402.68" y="294.48" width="7.10" height="25.52" fill="#d62728"/>
<line x1="406.23" y1="325.50" x2="406.23" y2="327.70" stroke="#444" stroke-width="0.5"/>
<text x="408.6" y="330.1" font-size="5.6" text-anchor="end" transform="rotate(-57 408.63 330.1)" fill="#707070">627-3242</text>
<rect x="410.30" y="215.40" width="7.10" height="104.60" fill="#1f77b4"/>
<rect x="410.30" y="315.71" width="7.10" height="4.29" fill="#ff7f0e"/>
<rect x="410.30" y="315.71" width="7.10" height="4.29" fill="#2a9d63"/>
<rect x="410.30" y="315.71" width="7.10" height="4.29" fill="#d62728"/>
<line x1="413.85" y1="325.50" x2="413.85" y2="327.70" stroke="#444" stroke-width="0.5"/>
<text x="416.2" y="330.1" font-size="5.6" text-anchor="end" transform="rotate(-57 416.25 330.1)" fill="#707070">649-3422</text>
<rect x="417.92" y="215.40" width="7.10" height="104.60" fill="#1f77b4"/>
<rect x="417.92" y="300.75" width="7.10" height="19.25" fill="#ff7f0e"/>
<rect x="417.92" y="304.83" width="7.10" height="15.17" fill="#2a9d63"/>
<rect x="417.92" y="315.08" width="7.10" height="4.92" fill="#d62728"/>
<line x1="421.47" y1="325.50" x2="421.47" y2="327.70" stroke="#444" stroke-width="0.5"/>
<text x="423.9" y="330.1" font-size="5.6" text-anchor="end" transform="rotate(-57 423.87 330.1)" fill="#707070">662-3602</text>
<rect x="425.54" y="215.40" width="7.10" height="104.60" fill="#1f77b4"/>
<rect x="425.54" y="288.72" width="7.10" height="31.28" fill="#ff7f0e"/>
<rect x="425.54" y="289.98" width="7.10" height="30.02" fill="#2a9d63"/>
<rect x="425.54" y="317.18" width="7.10" height="2.82" fill="#d62728"/>
<line x1="429.09" y1="325.50" x2="429.09" y2="327.70" stroke="#444" stroke-width="0.5"/>
<text x="431.5" y="330.1" font-size="5.6" text-anchor="end" transform="rotate(-57 431.49 330.1)" fill="#707070">735-3841</text>
<rect x="433.16" y="215.40" width="7.10" height="104.60" fill="#1f77b4"/>
<rect x="433.16" y="259.75" width="7.10" height="60.25" fill="#ff7f0e"/>
<rect x="433.16" y="263.20" width="7.10" height="56.80" fill="#2a9d63"/>
<rect x="433.16" y="311.42" width="7.10" height="8.58" fill="#d62728"/>
<line x1="436.71" y1="325.50" x2="436.71" y2="327.70" stroke="#444" stroke-width="0.5"/>
<text x="439.1" y="330.1" font-size="5.6" text-anchor="end" transform="rotate(-57 439.11 330.1)" fill="#707070">745-3961</text>
<rect x="440.78" y="215.40" width="7.10" height="104.60" fill="#1f77b4"/>
<rect x="440.78" y="293.43" width="7.10" height="26.57" fill="#ff7f0e"/>
<rect x="440.78" y="302.22" width="7.10" height="17.78" fill="#2a9d63"/>
<rect x="440.78" y="311.84" width="7.10" height="8.16" fill="#d62728"/>
<line x1="444.33" y1="325.50" x2="444.33" y2="327.70" stroke="#444" stroke-width="0.5"/>
<text x="446.7" y="330.1" font-size="5.6" text-anchor="end" transform="rotate(-57 446.73 330.1)" fill="#707070">759-6359</text>
<rect x="448.40" y="215.40" width="7.10" height="104.60" fill="#1f77b4"/>
<rect x="448.40" y="268.75" width="7.10" height="51.25" fill="#ff7f0e"/>
<rect x="448.40" y="297.30" width="7.10" height="22.70" fill="#2a9d63"/>
<rect x="448.40" y="311.00" width="7.10" height="9.00" fill="#d62728"/>
<line x1="451.95" y1="325.50" x2="451.95" y2="327.70" stroke="#444" stroke-width="0.5"/>
<text x="454.3" y="330.1" font-size="5.6" text-anchor="end" transform="rotate(-57 454.35 330.1)" fill="#707070">783-4081</text>
<rect x="456.02" y="215.40" width="7.10" height="104.60" fill="#1f77b4"/>
<rect x="456.02" y="215.40" width="7.10" height="104.60" fill="#ff7f0e"/>
<rect x="456.02" y="317.18" width="7.10" height="2.82" fill="#2a9d63"/>
<rect x="456.02" y="317.18" width="7.10" height="2.82" fill="#d62728"/>
<line x1="459.57" y1="325.50" x2="459.57" y2="327.70" stroke="#444" stroke-width="0.5"/>
<text x="462.0" y="330.1" font-size="6.2" text-anchor="end" font-weight="bold" transform="rotate(-57 461.97 330.1)">806-6800</text>
<rect x="463.64" y="215.40" width="7.10" height="104.60" fill="#1f77b4"/>
<rect x="463.64" y="261.01" width="7.10" height="58.99" fill="#ff7f0e"/>
<rect x="463.64" y="276.49" width="7.10" height="43.51" fill="#2a9d63"/>
<rect x="463.64" y="304.73" width="7.10" height="15.27" fill="#d62728"/>
<line x1="467.19" y1="325.50" x2="467.19" y2="327.70" stroke="#444" stroke-width="0.5"/>
<text x="469.6" y="330.1" font-size="5.6" text-anchor="end" transform="rotate(-57 469.59 330.1)" fill="#707070">813-8239</text>
<rect x="471.26" y="215.40" width="7.10" height="104.60" fill="#1f77b4"/>
<rect x="471.26" y="299.18" width="7.10" height="20.82" fill="#ff7f0e"/>
<rect x="471.26" y="299.18" width="7.10" height="20.82" fill="#2a9d63"/>
<rect x="471.26" y="310.17" width="7.10" height="9.83" fill="#d62728"/>
<line x1="474.81" y1="325.50" x2="474.81" y2="327.70" stroke="#444" stroke-width="0.5"/>
<text x="477.2" y="330.1" font-size="5.6" text-anchor="end" transform="rotate(-57 477.21 330.1)" fill="#707070">851-4351</text>
<rect x="478.88" y="215.40" width="7.10" height="104.60" fill="#1f77b4"/>
<rect x="478.88" y="281.19" width="7.10" height="38.81" fill="#ff7f0e"/>
<rect x="478.88" y="286.11" width="7.10" height="33.89" fill="#2a9d63"/>
<rect x="478.88" y="315.08" width="7.10" height="4.92" fill="#d62728"/>
<line x1="482.43" y1="325.50" x2="482.43" y2="327.70" stroke="#444" stroke-width="0.5"/>
<text x="484.8" y="330.1" font-size="5.6" text-anchor="end" transform="rotate(-57 484.83 330.1)" fill="#707070">853-4381</text>
<rect x="486.50" y="215.40" width="7.10" height="104.60" fill="#1f77b4"/>
<rect x="486.50" y="235.01" width="7.10" height="84.99" fill="#ff7f0e"/>
<rect x="486.50" y="246.88" width="7.10" height="73.12" fill="#2a9d63"/>
<rect x="486.50" y="275.65" width="7.10" height="44.35" fill="#d62728"/>
<line x1="490.05" y1="325.50" x2="490.05" y2="327.70" stroke="#444" stroke-width="0.5"/>
<text x="492.4" y="330.1" font-size="5.6" text-anchor="end" transform="rotate(-57 492.45 330.1)" fill="#707070">908-4412</text>
<rect x="494.12" y="215.40" width="7.10" height="104.60" fill="#1f77b4"/>
<rect x="494.12" y="317.18" width="7.10" height="2.82" fill="#ff7f0e"/>
<rect x="494.12" y="317.59" width="7.10" height="2.41" fill="#2a9d63"/>
<rect x="494.12" y="317.91" width="7.10" height="2.09" fill="#d62728"/>
<line x1="497.67" y1="325.50" x2="497.67" y2="327.70" stroke="#444" stroke-width="0.5"/>
<text x="500.1" y="330.1" font-size="5.6" text-anchor="end" transform="rotate(-57 500.07 330.1)" fill="#707070">917-4531</text>
<rect x="501.74" y="215.40" width="7.10" height="104.60" fill="#1f77b4"/>
<rect x="501.74" y="299.60" width="7.10" height="20.40" fill="#ff7f0e"/>
<rect x="501.74" y="304.83" width="7.10" height="15.17" fill="#2a9d63"/>
<rect x="501.74" y="311.42" width="7.10" height="8.58" fill="#d62728"/>
<line x1="505.29" y1="325.50" x2="505.29" y2="327.70" stroke="#444" stroke-width="0.5"/>
<text x="507.7" y="330.1" font-size="5.6" text-anchor="end" transform="rotate(-57 507.69 330.1)" fill="#707070">982-7629</text>
<rect x="509.36" y="215.40" width="7.10" height="104.60" fill="#1f77b4"/>
<rect x="509.36" y="294.06" width="7.10" height="25.94" fill="#ff7f0e"/>
<rect x="509.36" y="304.73" width="7.10" height="15.27" fill="#2a9d63"/>
<rect x="509.36" y="316.76" width="7.10" height="3.24" fill="#d62728"/>
<line x1="512.91" y1="325.50" x2="512.91" y2="327.70" stroke="#444" stroke-width="0.5"/>
<text x="515.3" y="330.1" font-size="5.6" text-anchor="end" transform="rotate(-57 515.31 330.1)" fill="#707070">983-7659</text>
<rect x="516.98" y="215.40" width="7.10" height="104.60" fill="#1f77b4"/>
<rect x="516.98" y="215.40" width="7.10" height="104.60" fill="#ff7f0e"/>
<rect x="516.98" y="221.78" width="7.10" height="98.22" fill="#2a9d63"/>
<rect x="516.98" y="291.03" width="7.10" height="28.97" fill="#d62728"/>
<line x1="520.53" y1="325.50" x2="520.53" y2="327.70" stroke="#444" stroke-width="0.5"/>
<text x="522.9" y="330.1" font-size="5.6" text-anchor="end" transform="rotate(-57 522.93 330.1)" fill="#707070">988-7749</text>
<line x1="292.10" y1="215.40" x2="294.30" y2="215.40" stroke="#444" stroke-width="0.5"/>
<text x="289.7" y="217.4" font-size="5.7" text-anchor="end" fill="#222">1</text>
<line x1="292.10" y1="241.55" x2="294.30" y2="241.55" stroke="#444" stroke-width="0.5"/>
<text x="289.7" y="243.6" font-size="5.7" text-anchor="end" fill="#222">0.75</text>
<line x1="292.10" y1="267.70" x2="294.30" y2="267.70" stroke="#444" stroke-width="0.5"/>
<text x="289.7" y="269.7" font-size="5.7" text-anchor="end" fill="#222">0.50</text>
<line x1="292.10" y1="293.85" x2="294.30" y2="293.85" stroke="#444" stroke-width="0.5"/>
<text x="289.7" y="295.9" font-size="5.7" text-anchor="end" fill="#222">0.25</text>
<line x1="292.10" y1="320.00" x2="294.30" y2="320.00" stroke="#444" stroke-width="0.5"/>
<text x="289.7" y="322.0" font-size="5.7" text-anchor="end" fill="#222">0</text>
<text x="294.9" y="204.6" font-size="7.5">scRNA-seq</text>
<text x="270.5" y="267.7" font-size="7.6" text-anchor="middle" transform="rotate(-90 270.5 267.7)">Fraction of cells</text>
<text x="533.5" y="10.2" font-size="13" font-weight="bold" stroke="#000" stroke-width="0.45">c</text>
<text x="570.5" y="8.0" font-size="7.95">Same lesion &amp; same method</text>
<line x1="559.20" y1="26.90" x2="561.40" y2="26.90" stroke="#444" stroke-width="0.5"/>
<text x="557.8" y="28.9" font-size="5.6" text-anchor="end" fill="#222">1</text>
<line x1="559.20" y1="53.05" x2="561.40" y2="53.05" stroke="#444" stroke-width="0.5"/>
<text x="557.8" y="55.1" font-size="5.6" text-anchor="end" fill="#222">0.75</text>
<line x1="559.20" y1="79.20" x2="561.40" y2="79.20" stroke="#444" stroke-width="0.5"/>
<text x="557.8" y="81.2" font-size="5.6" text-anchor="end" fill="#222">0.50</text>
<line x1="559.20" y1="105.35" x2="561.40" y2="105.35" stroke="#444" stroke-width="0.5"/>
<text x="557.8" y="107.3" font-size="5.6" text-anchor="end" fill="#222">0.25</text>
<line x1="559.20" y1="131.50" x2="561.40" y2="131.50" stroke="#444" stroke-width="0.5"/>
<text x="557.8" y="133.5" font-size="5.6" text-anchor="end" fill="#222">0</text>
<text x="539.5" y="79.2" font-size="7.3" text-anchor="middle" transform="rotate(-90 539.5 79.2)">Fraction of cells</text>
<rect x="561.40" y="21.50" width="25.00" height="115.80" fill="#fff" stroke="#444" stroke-width="0.6"/>
<rect x="563.50" y="26.90" width="10.10" height="104.60" fill="#72d46c"/>
<rect x="563.50" y="126.79" width="10.10" height="4.71" fill="#fbb0a2"/>
<rect x="563.50" y="123.76" width="10.10" height="3.03" fill="#9fd2fb"/>
<rect x="563.50" y="114.97" width="10.10" height="8.79" fill="#d4d40e"/>
<rect x="563.50" y="108.80" width="10.10" height="6.17" fill="#b03a0c"/>
<line x1="568.55" y1="137.30" x2="568.55" y2="139.50" stroke="#444" stroke-width="0.5"/>
<text x="570.8" y="142.1" font-size="5.6" text-anchor="end" transform="rotate(-60 570.75 142.1)" fill="#666">7059</text>
<rect x="574.60" y="26.90" width="10.10" height="104.60" fill="#72d46c"/>
<rect x="574.60" y="129.62" width="10.10" height="1.88" fill="#fbb0a2"/>
<rect x="574.60" y="128.68" width="10.10" height="0.94" fill="#c36ed6"/>
<rect x="574.60" y="119.58" width="10.10" height="9.10" fill="#d4d40e"/>
<rect x="574.60" y="113.09" width="10.10" height="6.49" fill="#b03a0c"/>
<line x1="579.65" y1="137.30" x2="579.65" y2="139.50" stroke="#444" stroke-width="0.5"/>
<text x="581.9" y="142.1" font-size="5.6" text-anchor="end" transform="rotate(-60 581.85 142.1)" fill="#666">7060</text>
<text x="561.7" y="18.9" font-size="5.2" font-weight="bold">682</text>
<text x="573.9" y="164.0" font-size="7.3" text-anchor="middle" fill="#222">Breast</text>
<text x="573.9" y="171.7" font-size="7.3" text-anchor="middle" fill="#222">220 days</text>
<text x="573.9" y="179.4" font-size="7.3" text-anchor="middle" fill="#222">sn</text>
<rect x="608.40" y="21.50" width="25.00" height="115.80" fill="#fff" stroke="#444" stroke-width="0.6"/>
<rect x="610.50" y="26.90" width="10.10" height="104.60" fill="#72d46c"/>
<rect x="610.50" y="116.12" width="10.10" height="15.38" fill="#fbb0a2"/>
<rect x="610.50" y="106.29" width="10.10" height="9.83" fill="#9fd2fb"/>
<rect x="610.50" y="90.39" width="10.10" height="15.90" fill="#d4d40e"/>
<rect x="610.50" y="82.97" width="10.10" height="7.43" fill="#b03a0c"/>
<line x1="615.55" y1="137.30" x2="615.55" y2="139.50" stroke="#444" stroke-width="0.5"/>
<text x="617.8" y="142.1" font-size="5.6" text-anchor="end" transform="rotate(-60 617.75 142.1)" fill="#666">7229</text>
<rect x="621.60" y="26.90" width="10.10" height="104.60" fill="#72d46c"/>
<rect x="621.60" y="126.79" width="10.10" height="4.71" fill="#9fd2fb"/>
<rect x="621.60" y="118.22" width="10.10" height="8.58" fill="#d4d40e"/>
<rect x="621.60" y="115.60" width="10.10" height="2.61" fill="#b03a0c"/>
<line x1="626.65" y1="137.30" x2="626.65" y2="139.50" stroke="#444" stroke-width="0.5"/>
<text x="628.9" y="142.1" font-size="5.6" text-anchor="end" transform="rotate(-60 628.85 142.1)" fill="#666">7250</text>
<text x="608.7" y="18.9" font-size="5.2" fill="#333">687</text>
<text x="620.9" y="164.0" font-size="7.3" text-anchor="middle" fill="#222">Axilla</text>
<text x="620.9" y="171.7" font-size="7.3" text-anchor="middle" fill="#222">200 days</text>
<text x="620.9" y="179.4" font-size="7.3" text-anchor="middle" fill="#222">sn</text>
<rect x="655.30" y="21.50" width="25.00" height="115.80" fill="#fff" stroke="#444" stroke-width="0.6"/>
<rect x="657.40" y="26.90" width="10.10" height="104.60" fill="#72d46c"/>
<rect x="657.40" y="129.20" width="10.10" height="2.30" fill="#6e0404"/>
<rect x="657.40" y="128.36" width="10.10" height="0.84" fill="#f0564a"/>
<rect x="657.40" y="124.49" width="10.10" height="3.87" fill="#9fd2fb"/>
<rect x="657.40" y="42.07" width="10.10" height="82.42" fill="#f2a2f2"/>
<rect x="657.40" y="35.58" width="10.10" height="6.49" fill="#3d3d05"/>
<rect x="657.40" y="34.54" width="10.10" height="1.05" fill="#b03a0c"/>
<rect x="657.40" y="26.90" width="10.10" height="7.64" fill="#6e0404"/>
<line x1="662.45" y1="137.30" x2="662.45" y2="139.50" stroke="#444" stroke-width="0.5"/>
<text x="664.6" y="142.1" font-size="5.6" text-anchor="end" transform="rotate(-60 664.65 142.1)" fill="#666">7269</text>
<rect x="668.50" y="26.90" width="10.10" height="104.60" fill="#72d46c"/>
<rect x="668.50" y="129.20" width="10.10" height="2.30" fill="#6e0404"/>
<rect x="668.50" y="123.34" width="10.10" height="5.86" fill="#fbb0a2"/>
<rect x="668.50" y="122.61" width="10.10" height="0.73" fill="#f0564a"/>
<rect x="668.50" y="116.86" width="10.10" height="5.75" fill="#9fd2fb"/>
<rect x="668.50" y="65.39" width="10.10" height="51.46" fill="#f2a2f2"/>
<rect x="668.50" y="64.56" width="10.10" height="0.84" fill="#d4d40e"/>
<rect x="668.50" y="62.67" width="10.10" height="1.88" fill="#3d3d05"/>
<rect x="668.50" y="61.21" width="10.10" height="1.46" fill="#e8781e"/>
<rect x="668.50" y="54.20" width="10.10" height="7.01" fill="#6e0404"/>
<line x1="673.55" y1="137.30" x2="673.55" y2="139.50" stroke="#444" stroke-width="0.5"/>
<text x="675.8" y="142.1" font-size="5.6" text-anchor="end" transform="rotate(-60 675.75 142.1)" fill="#666">7270</text>
<text x="655.6" y="18.9" font-size="5.2" fill="#333">689</text>
<text x="667.8" y="164.0" font-size="7.3" text-anchor="middle" fill="#222">Liver</text>
<text x="667.8" y="171.7" font-size="7.3" text-anchor="middle" fill="#222">70 days</text>
<text x="667.8" y="179.4" font-size="7.3" text-anchor="middle" fill="#222">sn</text>
<text x="557.7" y="196.0" font-size="8">Different lesions | different methods</text>
<line x1="559.50" y1="215.00" x2="561.70" y2="215.00" stroke="#444" stroke-width="0.5"/>
<text x="558.1" y="217.0" font-size="5.6" text-anchor="end" fill="#222">1</text>
<line x1="559.50" y1="241.30" x2="561.70" y2="241.30" stroke="#444" stroke-width="0.5"/>
<text x="558.1" y="243.3" font-size="5.6" text-anchor="end" fill="#222">0.75</text>
<line x1="559.50" y1="267.60" x2="561.70" y2="267.60" stroke="#444" stroke-width="0.5"/>
<text x="558.1" y="269.6" font-size="5.6" text-anchor="end" fill="#222">0.50</text>
<line x1="559.50" y1="293.90" x2="561.70" y2="293.90" stroke="#444" stroke-width="0.5"/>
<text x="558.1" y="295.9" font-size="5.6" text-anchor="end" fill="#222">0.25</text>
<line x1="559.50" y1="320.20" x2="561.70" y2="320.20" stroke="#444" stroke-width="0.5"/>
<text x="558.1" y="322.2" font-size="5.6" text-anchor="end" fill="#222">0</text>
<text x="539.5" y="267.6" font-size="7.3" text-anchor="middle" transform="rotate(-90 539.5 267.6)">Fraction of cells</text>
<rect x="561.70" y="209.90" width="24.70" height="115.60" fill="#fff" stroke="#444" stroke-width="0.6"/>
<rect x="563.80" y="215.00" width="10.10" height="105.20" fill="#72d46c"/>
<rect x="563.80" y="299.16" width="10.10" height="21.04" fill="#fbb0a2"/>
<rect x="563.80" y="296.85" width="10.10" height="2.31" fill="#f0564a"/>
<rect x="563.80" y="282.33" width="10.10" height="14.52" fill="#9fd2fb"/>
<rect x="563.80" y="239.51" width="10.10" height="42.82" fill="#f2a2f2"/>
<rect x="563.80" y="237.20" width="10.10" height="2.31" fill="#3d3d05"/>
<rect x="563.80" y="228.57" width="10.10" height="8.63" fill="#d4d40e"/>
<rect x="563.80" y="225.94" width="10.10" height="2.63" fill="#b03a0c"/>
<rect x="563.80" y="222.68" width="10.10" height="3.26" fill="#6e0404"/>
<line x1="568.85" y1="325.50" x2="568.85" y2="327.70" stroke="#444" stroke-width="0.5"/>
<text x="571.1" y="330.3" font-size="5.6" text-anchor="end" transform="rotate(-60 571.05 330.3)" fill="#666">6735</text>
<rect x="574.90" y="215.00" width="10.10" height="105.20" fill="#72d46c"/>
<rect x="574.90" y="316.73" width="10.10" height="3.47" fill="#fbb0a2"/>
<rect x="574.90" y="307.37" width="10.10" height="9.36" fill="#9fd2fb"/>
<rect x="574.90" y="303.79" width="10.10" height="3.58" fill="#6b7010"/>
<rect x="574.90" y="298.00" width="10.10" height="5.79" fill="#d4d40e"/>
<rect x="574.90" y="291.69" width="10.10" height="6.31" fill="#b03a0c"/>
<line x1="579.95" y1="325.50" x2="579.95" y2="327.70" stroke="#444" stroke-width="0.5"/>
<text x="582.2" y="330.3" font-size="5.6" text-anchor="end" transform="rotate(-60 582.15 330.3)" fill="#666">7537</text>
<text x="562.0" y="207.3" font-size="5.2" fill="#333">223</text>
<text x="574.0" y="354.5" font-size="7.3" text-anchor="middle" fill="#222">Liver</text>
<text x="574.0" y="362.2" font-size="7.3" text-anchor="middle" fill="#222">300 days</text>
<text x="574.0" y="369.9" font-size="7.3" text-anchor="middle" fill="#222">sn</text>
<rect x="592.70" y="209.90" width="25.00" height="115.60" fill="#fff" stroke="#444" stroke-width="0.6"/>
<rect x="594.80" y="215.00" width="10.10" height="105.20" fill="#72d46c"/>
<rect x="594.80" y="318.31" width="10.10" height="1.89" fill="#fbb0a2"/>
<rect x="594.80" y="313.89" width="10.10" height="4.42" fill="#9fd2fb"/>
<rect x="594.80" y="309.89" width="10.10" height="4.00" fill="#b03a0c"/>
<line x1="599.85" y1="325.50" x2="599.85" y2="327.70" stroke="#444" stroke-width="0.5"/>
<text x="602.1" y="330.3" font-size="5.6" text-anchor="end" transform="rotate(-60 602.05 330.3)" fill="#666">2851</text>
<rect x="605.90" y="215.00" width="10.10" height="105.20" fill="#72d46c"/>
<rect x="605.90" y="318.83" width="10.10" height="1.37" fill="#6e0404"/>
<rect x="605.90" y="312.73" width="10.10" height="6.10" fill="#fbb0a2"/>
<rect x="605.90" y="311.99" width="10.10" height="0.74" fill="#3e86cc"/>
<rect x="605.90" y="223.63" width="10.10" height="88.37" fill="#f2a2f2"/>
<rect x="605.90" y="220.89" width="10.10" height="2.74" fill="#3d3d05"/>
<rect x="605.90" y="219.00" width="10.10" height="1.89" fill="#b03a0c"/>
<rect x="605.90" y="215.42" width="10.10" height="3.58" fill="#6e0404"/>
<line x1="610.95" y1="325.50" x2="610.95" y2="327.70" stroke="#444" stroke-width="0.5"/>
<text x="613.2" y="330.3" font-size="5.6" text-anchor="end" transform="rotate(-60 613.15 330.3)" fill="#666">2860</text>
<text x="593.0" y="207.3" font-size="5.2" font-weight="bold">589</text>
<text x="605.2" y="354.5" font-size="7.3" text-anchor="middle" fill="#222">Brain-liver</text>
<text x="605.2" y="362.2" font-size="7.3" text-anchor="middle" fill="#222">75 days</text>
<text x="605.2" y="369.9" font-size="7.3" text-anchor="middle" fill="#222">sn</text>
<rect x="624.70" y="209.90" width="24.80" height="115.60" fill="#fff" stroke="#444" stroke-width="0.6"/>
<rect x="626.80" y="215.00" width="10.10" height="105.20" fill="#72d46c"/>
<rect x="626.80" y="315.99" width="10.10" height="4.21" fill="#fbb0a2"/>
<rect x="626.80" y="313.15" width="10.10" height="2.84" fill="#9fd2fb"/>
<rect x="626.80" y="311.36" width="10.10" height="1.79" fill="#6b7010"/>
<rect x="626.80" y="305.68" width="10.10" height="5.68" fill="#d4d40e"/>
<rect x="626.80" y="294.01" width="10.10" height="11.68" fill="#b03a0c"/>
<line x1="631.85" y1="325.50" x2="631.85" y2="327.70" stroke="#444" stroke-width="0.5"/>
<text x="634.1" y="330.3" font-size="5.6" text-anchor="end" transform="rotate(-60 634.05 330.3)" fill="#666">6769</text>
<rect x="637.90" y="215.00" width="10.10" height="105.20" fill="#72d46c"/>
<rect x="637.90" y="317.36" width="10.10" height="2.84" fill="#9fd2fb"/>
<rect x="637.90" y="237.20" width="10.10" height="80.16" fill="#d4d40e"/>
<rect x="637.90" y="215.00" width="10.10" height="22.20" fill="#ffb050"/>
<line x1="642.95" y1="325.50" x2="642.95" y2="327.70" stroke="#444" stroke-width="0.5"/>
<text x="645.2" y="330.3" font-size="5.6" text-anchor="end" transform="rotate(-60 645.15 330.3)" fill="#666">6800</text>
<text x="625.0" y="207.3" font-size="5.2" fill="#333">806</text>
<text x="637.1" y="354.5" font-size="7.3" text-anchor="middle" fill="#222">Breast</text>
<text x="637.1" y="362.2" font-size="7.3" text-anchor="middle" fill="#222">470 days</text>
<text x="637.1" y="369.9" font-size="7.3" text-anchor="middle" fill="#222">sn/sc</text>
<rect x="655.30" y="209.90" width="25.00" height="115.60" fill="#fff" stroke="#444" stroke-width="0.6"/>
<rect x="657.40" y="215.00" width="10.10" height="105.20" fill="#72d46c"/>
<rect x="657.40" y="315.99" width="10.10" height="4.21" fill="#9fd2fb"/>
<rect x="657.40" y="313.15" width="10.10" height="2.84" fill="#f2a2f2"/>
<rect x="657.40" y="312.20" width="10.10" height="0.95" fill="#d4d40e"/>
<rect x="657.40" y="309.89" width="10.10" height="2.31" fill="#b03a0c"/>
<line x1="662.45" y1="325.50" x2="662.45" y2="327.70" stroke="#444" stroke-width="0.5"/>
<text x="664.6" y="330.3" font-size="5.6" text-anchor="end" transform="rotate(-60 664.65 330.3)" fill="#666">610</text>
<rect x="668.50" y="215.00" width="10.10" height="105.20" fill="#72d46c"/>
<rect x="668.50" y="313.15" width="10.10" height="7.05" fill="#fbb0a2"/>
<rect x="668.50" y="311.99" width="10.10" height="1.16" fill="#3e86cc"/>
<rect x="668.50" y="308.00" width="10.10" height="4.00" fill="#9fd2fb"/>
<rect x="668.50" y="306.21" width="10.10" height="1.79" fill="#ffb050"/>
<line x1="673.55" y1="325.50" x2="673.55" y2="327.70" stroke="#444" stroke-width="0.5"/>
<text x="675.8" y="330.3" font-size="5.6" text-anchor="end" transform="rotate(-60 675.75 330.3)" fill="#666">602</text>
<text x="655.6" y="207.3" font-size="5.2" fill="#333">262</text>
<text x="667.8" y="354.5" font-size="7.3" text-anchor="middle" fill="#222">Liver</text>
<text x="667.8" y="362.2" font-size="7.3" text-anchor="middle" fill="#222">0 days</text>
<text x="667.8" y="369.9" font-size="7.3" text-anchor="middle" fill="#222">sn/sc</text>
<text x="0.0" y="389.7" font-size="13" font-weight="bold" stroke="#000" stroke-width="0.45">d</text>
<rect x="34.50" y="386.00" width="156.70" height="92.90" fill="#fff"/>
<line x1="34.50" y1="464.81" x2="191.20" y2="464.81" stroke="#f0f0f0" stroke-width="0.3"/>
<line x1="34.50" y1="443.64" x2="191.20" y2="443.64" stroke="#f0f0f0" stroke-width="0.3"/>
<line x1="34.50" y1="422.46" x2="191.20" y2="422.46" stroke="#f0f0f0" stroke-width="0.3"/>
<line x1="34.50" y1="401.29" x2="191.20" y2="401.29" stroke="#f0f0f0" stroke-width="0.3"/>
<line x1="34.50" y1="475.40" x2="191.20" y2="475.40" stroke="#e4e4e4" stroke-width="0.5"/>
<line x1="34.50" y1="454.22" x2="191.20" y2="454.22" stroke="#e4e4e4" stroke-width="0.5"/>
<line x1="34.50" y1="433.05" x2="191.20" y2="433.05" stroke="#e4e4e4" stroke-width="0.5"/>
<line x1="34.50" y1="411.88" x2="191.20" y2="411.88" stroke="#e4e4e4" stroke-width="0.5"/>
<line x1="34.50" y1="390.70" x2="191.20" y2="390.70" stroke="#e4e4e4" stroke-width="0.5"/>
<line x1="46.10" y1="386.00" x2="46.10" y2="478.90" stroke="#e4e4e4" stroke-width="0.5"/>
<line x1="65.10" y1="386.00" x2="65.10" y2="478.90" stroke="#e4e4e4" stroke-width="0.5"/>
<line x1="84.10" y1="386.00" x2="84.10" y2="478.90" stroke="#e4e4e4" stroke-width="0.5"/>
<line x1="103.60" y1="386.00" x2="103.60" y2="478.90" stroke="#e4e4e4" stroke-width="0.5"/>
<line x1="122.60" y1="386.00" x2="122.60" y2="478.90" stroke="#e4e4e4" stroke-width="0.5"/>
<line x1="141.60" y1="386.00" x2="141.60" y2="478.90" stroke="#e4e4e4" stroke-width="0.5"/>
<line x1="160.60" y1="386.00" x2="160.60" y2="478.90" stroke="#e4e4e4" stroke-width="0.5"/>
<line x1="179.60" y1="386.00" x2="179.60" y2="478.90" stroke="#e4e4e4" stroke-width="0.5"/>
<rect x="34.50" y="386.00" width="156.70" height="92.90" fill="none" stroke="#555" stroke-width="0.6"/>
<line x1="32.50" y1="475.40" x2="34.50" y2="475.40" stroke="#444" stroke-width="0.5"/>
<text x="31.3" y="477.4" font-size="5.6" text-anchor="end" fill="#333">0</text>
<line x1="32.50" y1="454.22" x2="34.50" y2="454.22" stroke="#444" stroke-width="0.5"/>
<text x="31.3" y="456.2" font-size="5.6" text-anchor="end" fill="#333">25</text>
<line x1="32.50" y1="433.05" x2="34.50" y2="433.05" stroke="#444" stroke-width="0.5"/>
<text x="31.3" y="435.0" font-size="5.6" text-anchor="end" fill="#333">50</text>
<line x1="32.50" y1="411.88" x2="34.50" y2="411.88" stroke="#444" stroke-width="0.5"/>
<text x="31.3" y="413.9" font-size="5.6" text-anchor="end" fill="#333">75</text>
<line x1="32.50" y1="390.70" x2="34.50" y2="390.70" stroke="#444" stroke-width="0.5"/>
<text x="31.3" y="392.7" font-size="5.6" text-anchor="end" fill="#333">100</text>
<text x="6.2" y="432.5" font-size="7.4" text-anchor="middle" transform="rotate(-90 6.2 432.5)">Cell type freq. score</text>
<text x="14.4" y="432.5" font-size="7.4" text-anchor="middle" transform="rotate(-90 14.4 432.5)">variance explained (%)</text>
<path d="M54.1 475.4L54.3 468.6L53.7 460.2L52.6 454.2L50.6 447.4L49.1 441.5L47.8 433.0L47.2 424.6L47.0 416.1L46.7 405.9L45.5 405.9L45.2 416.1L45.0 424.6L44.4 433.0L43.1 441.5L41.6 447.4L39.6 454.2L38.5 460.2L37.9 468.6L38.1 475.4Z" fill="#f8766d" stroke="#333" stroke-width="0.4" stroke-linejoin="round"/>
<line x1="46.10" y1="475.40" x2="46.10" y2="405.95" stroke="#333" stroke-width="0.4"/>
<rect x="45.10" y="450.84" width="2.00" height="23.72" fill="#e9e9e9" stroke="#444" stroke-width="0.35"/>
<circle cx="46.10" cy="405.95" r="1.40" fill="#000"/>
<path d="M73.7 475.4L73.7 470.3L72.6 463.5L71.1 456.8L69.7 451.7L68.1 445.8L66.9 439.8L66.1 433.0L65.7 411.0L64.5 411.0L64.1 433.0L63.3 439.8L62.1 445.8L60.5 451.7L59.1 456.8L57.6 463.5L56.5 470.3L56.5 475.4Z" fill="#c49a00" stroke="#333" stroke-width="0.4" stroke-linejoin="round"/>
<line x1="65.10" y1="475.40" x2="65.10" y2="411.03" stroke="#333" stroke-width="0.4"/>
<rect x="64.10" y="455.07" width="2.00" height="19.48" fill="#e9e9e9" stroke="#444" stroke-width="0.35"/>
<circle cx="65.10" cy="411.03" r="1.50" fill="#000"/>
<path d="M92.6 475.4L92.9 471.2L91.7 465.2L90.1 460.2L88.3 454.2L86.3 448.3L85.4 441.5L84.6 421.2L83.6 421.2L82.8 441.5L81.9 448.3L79.9 454.2L78.1 460.2L76.5 465.2L75.3 471.2L75.6 475.4Z" fill="#53b400" stroke="#333" stroke-width="0.4" stroke-linejoin="round"/>
<line x1="84.10" y1="475.40" x2="84.10" y2="421.19" stroke="#333" stroke-width="0.4"/>
<rect x="83.10" y="455.92" width="2.00" height="18.63" fill="#e9e9e9" stroke="#444" stroke-width="0.35"/>
<circle cx="84.10" cy="421.19" r="1.40" fill="#000"/>
<path d="M181.8 475.4L184.1 468.6L186.8 460.2L188.4 450.0L188.6 443.2L187.6 434.7L185.8 424.6L183.6 411.9L182.0 400.9L181.2 393.2L180.8 390.7L178.4 390.7L178.0 393.2L177.2 400.9L175.6 411.9L173.4 424.6L171.6 434.7L170.6 443.2L170.8 450.0L172.4 460.2L175.1 468.6L177.4 475.4Z" fill="#dcdcdc" stroke="#666" stroke-width="0.4" stroke-linejoin="round"/>
<line x1="179.60" y1="475.40" x2="179.60" y2="390.70" stroke="#555" stroke-width="0.4"/>
<rect x="178.50" y="421.19" width="2.20" height="35.57" fill="#bdbdbd" stroke="#666" stroke-width="0.35"/>
<circle cx="179.60" cy="443.21" r="0.60" fill="#555"/>
<line x1="95.30" y1="475.40" x2="111.90" y2="475.40" stroke="#222" stroke-width="0.8"/>
<line x1="114.30" y1="475.40" x2="130.90" y2="475.40" stroke="#222" stroke-width="0.8"/>
<line x1="133.30" y1="475.40" x2="149.90" y2="475.40" stroke="#222" stroke-width="0.8"/>
<line x1="152.30" y1="475.40" x2="168.90" y2="475.40" stroke="#222" stroke-width="0.8"/>
<line x1="103.60" y1="475.40" x2="103.60" y2="433.05" stroke="#222" stroke-width="0.5"/>
<path d="M105.6 433.0H139.5" stroke="#000" stroke-width="0.8" stroke-dasharray="2.3 1.1" fill="none"/>
<path d="M141.6 436.4V468.6" stroke="#000" stroke-width="0.8" stroke-dasharray="2.3 1.1" fill="none"/>
<circle cx="103.60" cy="433.05" r="2.00" fill="#9fd2fb" stroke="#222" stroke-width="0.5"/>
<circle cx="103.60" cy="462.69" r="1.30" fill="#000"/>
<circle cx="103.60" cy="474.13" r="1.50" fill="#000"/>
<line x1="122.60" y1="475.40" x2="122.60" y2="458.46" stroke="#222" stroke-width="0.5"/>
<circle cx="122.60" cy="458.46" r="1.30" fill="#000"/>
<circle cx="122.60" cy="468.62" r="1.30" fill="#000"/>
<circle cx="122.60" cy="471.16" r="1.30" fill="#000"/>
<circle cx="122.60" cy="472.86" r="1.30" fill="#000"/>
<circle cx="122.60" cy="474.55" r="1.30" fill="#000"/>
<circle cx="141.60" cy="473.71" r="1.30" fill="#000"/>
<circle cx="141.60" cy="474.98" r="1.30" fill="#000"/>
<circle cx="141.60" cy="469.89" r="1.90" fill="#9fd2fb" stroke="#222" stroke-width="0.5"/>
<circle cx="160.60" cy="475.40" r="1.20" fill="#000"/>
<text x="140.3" y="436.2" font-size="5.8" font-weight="bold" fill="#222">MΦ</text>
<text x="39.3" y="393.3" font-size="5.6" fill="#f8766d">Patient ID</text>
<text x="65.8" y="401.6" font-size="5.6" text-anchor="middle" fill="#c49a00">Method</text>
<text x="65.8" y="407.4" font-size="5.6" text-anchor="middle" fill="#c49a00">sc/sn</text>
<text x="85.9" y="408.9" font-size="5.6" text-anchor="middle" fill="#53b400">Biopsy</text>
<text x="85.9" y="414.6" font-size="5.6" text-anchor="middle" fill="#53b400">site</text>
<text x="105.3" y="421.8" font-size="5.6" text-anchor="middle" fill="#00b48c">Most recent</text>
<text x="105.3" y="427.6" font-size="5.6" text-anchor="middle" fill="#00b48c">tx class</text>
<text x="123.8" y="446.7" font-size="5.6" text-anchor="middle" fill="#00a8e8">Histology</text>
<text x="141.0" y="457.9" font-size="5.6" text-anchor="middle" fill="#a58aff">Receptor</text>
<text x="141.0" y="463.8" font-size="5.6" text-anchor="middle" fill="#a58aff">status</text>
<text x="170.5" y="465.2" font-size="5.6" text-anchor="middle" fill="#fb61d7">Metastatic</text>
<text x="170.5" y="471.0" font-size="5.6" text-anchor="middle" fill="#fb61d7">presentation</text>
<text x="160.8" y="396.6" font-size="5.6" text-anchor="middle" fill="#9a9a9a">Residuals</text>
<path d="M194 479H217.8V472.5" fill="none" stroke="#445f85" stroke-width="0.9" marker-end="url(#arr)"/>
<text x="199.5" y="390.7" font-size="13" font-weight="bold" stroke="#000" stroke-width="0.45">e</text>
<line x1="224.80" y1="468.40" x2="227.40" y2="468.40" stroke="#444" stroke-width="0.5"/>
<text x="223.6" y="470.4" font-size="5.6" text-anchor="end" fill="#222">0</text>
<line x1="224.80" y1="452.46" x2="227.40" y2="452.46" stroke="#444" stroke-width="0.5"/>
<text x="223.6" y="454.5" font-size="5.6" text-anchor="end" fill="#222">20</text>
<line x1="224.80" y1="436.52" x2="227.40" y2="436.52" stroke="#444" stroke-width="0.5"/>
<text x="223.6" y="438.5" font-size="5.6" text-anchor="end" fill="#222">40</text>
<line x1="224.80" y1="420.58" x2="227.40" y2="420.58" stroke="#444" stroke-width="0.5"/>
<text x="223.6" y="422.6" font-size="5.6" text-anchor="end" fill="#222">60</text>
<line x1="224.80" y1="404.64" x2="227.40" y2="404.64" stroke="#444" stroke-width="0.5"/>
<text x="223.6" y="406.6" font-size="5.6" text-anchor="end" fill="#222">80</text>
<line x1="224.80" y1="388.70" x2="227.40" y2="388.70" stroke="#444" stroke-width="0.5"/>
<text x="223.6" y="390.7" font-size="5.6" text-anchor="end" fill="#222">100</text>
<text x="206.0" y="428.5" font-size="6.6" text-anchor="middle" transform="rotate(-90 206 428.5)">Variance explained (%)</text>
<rect x="229.20" y="388.70" width="7.05" height="79.70" fill="#e2e2e2"/>
<rect x="229.20" y="465.21" width="7.05" height="3.19" fill="#c49a00"/>
<rect x="229.20" y="442.90" width="7.05" height="22.32" fill="#53b400"/>
<rect x="229.20" y="439.71" width="7.05" height="3.19" fill="#a58aff"/>
<text x="234.7" y="467.6" font-size="5.6" transform="rotate(-90 234.7 467.6)" fill="#111">Adipocyte</text>
<rect x="237.36" y="388.70" width="7.05" height="79.70" fill="#e2e2e2"/>
<rect x="237.36" y="416.59" width="7.05" height="51.81" fill="#f8766d"/>
<rect x="237.36" y="405.44" width="7.05" height="11.16" fill="#c49a00"/>
<rect x="237.36" y="397.47" width="7.05" height="7.97" fill="#53b400"/>
<text x="242.9" y="467.6" font-size="5.6" transform="rotate(-90 242.86 467.6)" fill="#111">B</text>
<rect x="245.52" y="388.70" width="7.05" height="79.70" fill="#e2e2e2"/>
<rect x="245.52" y="455.65" width="7.05" height="12.75" fill="#f8766d"/>
<rect x="245.52" y="450.87" width="7.05" height="4.78" fill="#c49a00"/>
<rect x="245.52" y="446.88" width="7.05" height="3.99" fill="#53b400"/>
<rect x="245.52" y="442.90" width="7.05" height="3.99" fill="#00b6eb"/>
<text x="251.0" y="467.6" font-size="5.6" transform="rotate(-90 251.02 467.6)" fill="#111">B_plasma</text>
<rect x="253.68" y="388.70" width="7.05" height="79.70" fill="#e2e2e2"/>
<rect x="253.68" y="428.55" width="7.05" height="39.85" fill="#53b400"/>
<rect x="253.68" y="412.61" width="7.05" height="15.94" fill="#00b6eb"/>
<text x="259.2" y="467.6" font-size="5.6" transform="rotate(-90 259.18 467.6)" fill="#111">Chondrocyte</text>
<rect x="261.84" y="388.70" width="7.05" height="79.70" fill="#e2e2e2"/>
<rect x="261.84" y="407.83" width="7.05" height="60.57" fill="#c49a00"/>
<text x="267.3" y="467.6" font-size="5.6" transform="rotate(-90 267.34 467.6)" fill="#111">Endothelial</text>
<rect x="270.00" y="388.70" width="7.05" height="79.70" fill="#e2e2e2"/>
<rect x="270.00" y="425.36" width="7.05" height="43.04" fill="#f8766d"/>
<rect x="270.00" y="422.17" width="7.05" height="3.19" fill="#c49a00"/>
<text x="275.5" y="467.6" font-size="5.6" transform="rotate(-90 275.5 467.6)" fill="#111">Endothelial_angiogenic</text>
<rect x="278.16" y="388.70" width="7.05" height="79.70" fill="#e2e2e2"/>
<rect x="278.16" y="450.87" width="7.05" height="17.53" fill="#f8766d"/>
<rect x="278.16" y="447.68" width="7.05" height="3.19" fill="#c49a00"/>
<rect x="278.16" y="441.30" width="7.05" height="6.38" fill="#53b400"/>
<rect x="278.16" y="439.71" width="7.05" height="1.59" fill="#00c094"/>
<text x="283.7" y="467.6" font-size="5.6" transform="rotate(-90 283.66 467.6)" fill="#111">Endothelial_sinusoidal</text>
<rect x="286.32" y="388.70" width="7.05" height="79.70" fill="#e2e2e2"/>
<rect x="286.32" y="457.24" width="7.05" height="11.16" fill="#f8766d"/>
<rect x="286.32" y="398.26" width="7.05" height="58.98" fill="#c49a00"/>
<rect x="286.32" y="394.28" width="7.05" height="3.99" fill="#53b400"/>
<rect x="286.32" y="392.69" width="7.05" height="1.59" fill="#00b6eb"/>
<rect x="286.32" y="391.09" width="7.05" height="1.59" fill="#a58aff"/>
<text x="291.8" y="467.6" font-size="5.6" transform="rotate(-90 291.82 467.6)" fill="#111">Endothelial_vascular</text>
<rect x="294.48" y="388.70" width="7.05" height="79.70" fill="#e2e2e2"/>
<rect x="294.48" y="453.26" width="7.05" height="15.14" fill="#f8766d"/>
<rect x="294.48" y="442.10" width="7.05" height="11.16" fill="#c49a00"/>
<rect x="294.48" y="399.86" width="7.05" height="42.24" fill="#53b400"/>
<text x="300.0" y="467.6" font-size="5.6" transform="rotate(-90 299.98 467.6)" fill="#111">Erythrocyte</text>
<rect x="302.64" y="388.70" width="7.05" height="79.70" fill="#e2e2e2"/>
<rect x="302.64" y="450.07" width="7.05" height="18.33" fill="#f8766d"/>
<rect x="302.64" y="426.96" width="7.05" height="23.11" fill="#53b400"/>
<rect x="302.64" y="425.76" width="7.05" height="1.20" fill="#a58aff"/>
<text x="308.1" y="467.6" font-size="5.6" transform="rotate(-90 308.14 467.6)" fill="#111">Fibroblast</text>
<rect x="310.80" y="388.70" width="7.05" height="79.70" fill="#e2e2e2"/>
<rect x="310.80" y="447.68" width="7.05" height="20.72" fill="#f8766d"/>
<rect x="310.80" y="421.38" width="7.05" height="26.30" fill="#53b400"/>
<text x="316.3" y="467.6" font-size="5.6" transform="rotate(-90 316.3 467.6)" fill="#111">Hepatocyte</text>
<rect x="318.96" y="388.70" width="7.05" height="79.70" fill="#e2e2e2"/>
<rect x="318.96" y="452.86" width="7.05" height="15.54" fill="#f8766d"/>
<rect x="318.96" y="435.72" width="7.05" height="17.14" fill="#c49a00"/>
<rect x="318.96" y="418.67" width="7.05" height="17.06" fill="#53b400"/>
<rect x="318.96" y="418.03" width="7.05" height="0.64" fill="#00b6eb"/>
<text x="324.5" y="467.6" font-size="5.6" transform="rotate(-90 324.46 467.6)" fill="#111">Keratinocyte</text>
<rect x="327.12" y="388.70" width="7.05" height="79.70" fill="#e2e2e2"/>
<text x="332.6" y="467.6" font-size="5.6" transform="rotate(-90 332.62 467.6)" fill="#111">MBC</text>
<rect x="335.28" y="388.70" width="7.05" height="79.70" fill="#e2e2e2"/>
<rect x="335.28" y="453.26" width="7.05" height="15.14" fill="#c49a00"/>
<rect x="335.28" y="440.50" width="7.05" height="12.75" fill="#53b400"/>
<text x="340.8" y="467.6" font-size="5.6" transform="rotate(-90 340.78 467.6)" fill="#111">MBC_chondroid</text>
<rect x="343.44" y="388.70" width="7.05" height="79.70" fill="#e2e2e2"/>
<rect x="343.44" y="403.29" width="7.05" height="65.11" fill="#f8766d"/>
<rect x="343.44" y="402.81" width="7.05" height="0.48" fill="#c49a00"/>
<text x="348.9" y="467.6" font-size="5.6" transform="rotate(-90 348.94 467.6)" fill="#111">MBC_neuronal</text>
<rect x="351.60" y="388.70" width="7.05" height="79.70" fill="#e2e2e2"/>
<rect x="351.60" y="447.68" width="7.05" height="20.72" fill="#c49a00"/>
<rect x="351.60" y="435.72" width="7.05" height="11.96" fill="#53b400"/>
<text x="357.1" y="467.6" font-size="5.6" transform="rotate(-90 357.1 467.6)" fill="#111">MBC_stem-like</text>
<rect x="359.76" y="388.70" width="7.05" height="79.70" fill="#e2e2e2"/>
<rect x="359.76" y="467.12" width="7.05" height="1.28" fill="#c49a00"/>
<rect x="359.76" y="427.75" width="7.05" height="39.37" fill="#00c094"/>
<rect x="359.76" y="425.36" width="7.05" height="2.39" fill="#00b6eb"/>
<rect x="359.76" y="419.46" width="7.05" height="5.90" fill="#a58aff"/>
<text x="365.3" y="467.6" font-size="5.6" transform="rotate(-90 365.26 467.6)" fill="#111">Macrophage</text>
<rect x="367.92" y="388.70" width="7.05" height="79.70" fill="#e2e2e2"/>
<rect x="367.92" y="446.16" width="7.05" height="22.24" fill="#f8766d"/>
<rect x="367.92" y="422.25" width="7.05" height="23.91" fill="#c49a00"/>
<rect x="367.92" y="409.58" width="7.05" height="12.67" fill="#53b400"/>
<text x="373.4" y="467.6" font-size="5.6" transform="rotate(-90 373.42 467.6)" fill="#111">Mast</text>
<rect x="376.08" y="388.70" width="7.05" height="79.70" fill="#e2e2e2"/>
<rect x="376.08" y="442.90" width="7.05" height="25.50" fill="#f8766d"/>
<rect x="376.08" y="407.27" width="7.05" height="35.63" fill="#c49a00"/>
<rect x="376.08" y="389.26" width="7.05" height="18.01" fill="#53b400"/>
<text x="381.6" y="467.6" font-size="5.6" transform="rotate(-90 381.58 467.6)" fill="#111">Monocyte</text>
<rect x="384.24" y="388.70" width="7.05" height="79.70" fill="#e2e2e2"/>
<rect x="384.24" y="441.46" width="7.05" height="26.94" fill="#f8766d"/>
<rect x="384.24" y="428.71" width="7.05" height="12.75" fill="#c49a00"/>
<rect x="384.24" y="423.45" width="7.05" height="5.26" fill="#53b400"/>
<rect x="384.24" y="419.46" width="7.05" height="3.99" fill="#a58aff"/>
<text x="389.7" y="467.6" font-size="5.6" transform="rotate(-90 389.74 467.6)" fill="#111">NK</text>
<rect x="392.40" y="388.70" width="7.05" height="79.70" fill="#e2e2e2"/>
<rect x="392.40" y="455.09" width="7.05" height="13.31" fill="#c49a00"/>
<rect x="392.40" y="447.68" width="7.05" height="7.41" fill="#53b400"/>
<text x="397.9" y="467.6" font-size="5.6" transform="rotate(-90 397.9 467.6)" fill="#111">Neuron</text>
<rect x="400.56" y="388.70" width="7.05" height="79.70" fill="#e2e2e2"/>
<rect x="400.56" y="447.12" width="7.05" height="21.28" fill="#c49a00"/>
<rect x="400.56" y="440.50" width="7.05" height="6.62" fill="#53b400"/>
<rect x="400.56" y="433.65" width="7.05" height="6.85" fill="#00b6eb"/>
<text x="406.1" y="467.6" font-size="5.6" transform="rotate(-90 406.06 467.6)" fill="#111">Neutrophil</text>
<rect x="408.72" y="388.70" width="7.05" height="79.70" fill="#e2e2e2"/>
<rect x="408.72" y="462.34" width="7.05" height="6.06" fill="#c49a00"/>
<rect x="408.72" y="411.10" width="7.05" height="51.25" fill="#53b400"/>
<rect x="408.72" y="410.54" width="7.05" height="0.56" fill="#00b6eb"/>
<text x="414.2" y="467.6" font-size="5.6" transform="rotate(-90 414.22 467.6)" fill="#111">Skeletal muscle</text>
<rect x="416.88" y="388.70" width="7.05" height="79.70" fill="#e2e2e2"/>
<rect x="416.88" y="438.59" width="7.05" height="29.81" fill="#f8766d"/>
<rect x="416.88" y="411.81" width="7.05" height="26.78" fill="#c49a00"/>
<text x="422.4" y="467.6" font-size="5.6" transform="rotate(-90 422.38 467.6)" fill="#111">Smooth muscle_vascular</text>
<rect x="425.04" y="388.70" width="7.05" height="79.70" fill="#e2e2e2"/>
<rect x="425.04" y="456.60" width="7.05" height="11.80" fill="#f8766d"/>
<rect x="425.04" y="451.66" width="7.05" height="4.94" fill="#53b400"/>
<text x="430.5" y="467.6" font-size="5.6" transform="rotate(-90 430.54 467.6)" fill="#111">Stellate</text>
<rect x="433.20" y="388.70" width="7.05" height="79.70" fill="#e2e2e2"/>
<rect x="433.20" y="458.92" width="7.05" height="9.48" fill="#c49a00"/>
<rect x="433.20" y="455.65" width="7.05" height="3.27" fill="#53b400"/>
<text x="438.7" y="467.6" font-size="5.6" transform="rotate(-90 438.7 467.6)" fill="#111">T</text>
<path d="M362.4 470.6V478.2H472.4V469.5" fill="none" stroke="#445f85" stroke-width="0.9" marker-end="url(#arr)"/>
<text x="445.5" y="391.7" font-size="13" font-weight="bold" stroke="#000" stroke-width="0.45">f</text>
<rect x="477.70" y="387.00" width="104.60" height="68.20" fill="#fff" stroke="#555" stroke-width="0.6"/>
<rect x="586.20" y="387.00" width="100.00" height="68.60" fill="#fff" stroke="#555" stroke-width="0.6"/>
<line x1="475.60" y1="452.30" x2="477.70" y2="452.30" stroke="#444" stroke-width="0.5"/>
<text x="474.2" y="454.3" font-size="5.6" text-anchor="end" fill="#222">0</text>
<line x1="475.60" y1="436.80" x2="477.70" y2="436.80" stroke="#444" stroke-width="0.5"/>
<text x="474.2" y="438.8" font-size="5.6" text-anchor="end" fill="#222">2</text>
<line x1="475.60" y1="421.30" x2="477.70" y2="421.30" stroke="#444" stroke-width="0.5"/>
<text x="474.2" y="423.3" font-size="5.6" text-anchor="end" fill="#222">4</text>
<line x1="475.60" y1="405.80" x2="477.70" y2="405.80" stroke="#444" stroke-width="0.5"/>
<text x="474.2" y="407.8" font-size="5.6" text-anchor="end" fill="#222">6</text>
<line x1="475.60" y1="390.30" x2="477.70" y2="390.30" stroke="#444" stroke-width="0.5"/>
<text x="474.2" y="392.3" font-size="5.6" text-anchor="end" fill="#222">8</text>
<text x="452.5" y="421.0" font-size="6.9" text-anchor="middle" transform="rotate(-90 452.5 421)">Macropahge</text>
<text x="460.5" y="421.0" font-size="6.9" text-anchor="middle" transform="rotate(-90 460.5 421)">freq. score</text>
<text x="580.5" y="393.4" font-size="5.75" text-anchor="end" fill="#00b48c">Most recent tx class</text>
<text x="487.0" y="399.2" font-size="5.75" fill="#222">FDR against all other groups:</text>
<text x="489.3" y="406.6" font-size="5.9" text-anchor="middle" fill="#222">0.56</text>
<text x="489.3" y="411.3" font-size="4.1" text-anchor="middle" fill="#333">n = 5</text>
<line x1="489.30" y1="455.20" x2="489.30" y2="457.20" stroke="#444" stroke-width="0.5"/>
<text x="479.8" y="464.9" font-size="4.7" fill="#222">Distant</text>
<text x="479.8" y="471.4" font-size="4.7" fill="#222">adjuvant</text>
<text x="510.1" y="406.6" font-size="5.9" text-anchor="middle" fill="#222">0.56</text>
<text x="510.1" y="411.3" font-size="4.1" text-anchor="middle" fill="#333">n = 28</text>
<line x1="510.10" y1="455.20" x2="510.10" y2="457.20" stroke="#444" stroke-width="0.5"/>
<text x="504.6" y="464.9" font-size="4.7" fill="#222">Endo-</text>
<text x="504.6" y="471.4" font-size="4.7" fill="#222">crine</text>
<text x="529.8" y="406.6" font-size="5.9" text-anchor="middle" fill="#222">0.56</text>
<text x="529.8" y="411.3" font-size="4.1" text-anchor="middle" fill="#333">n = 8</text>
<line x1="529.80" y1="455.20" x2="529.80" y2="457.20" stroke="#444" stroke-width="0.5"/>
<text x="522.3" y="465.6" font-size="4.7" fill="#222">Other</text>
<text x="550.1" y="406.6" font-size="5.9" text-anchor="middle" fill="#222">0.56</text>
<text x="550.1" y="411.3" font-size="4.1" text-anchor="middle" fill="#333">n = 22</text>
<line x1="550.10" y1="455.20" x2="550.10" y2="457.20" stroke="#444" stroke-width="0.5"/>
<text x="540.6" y="464.9" font-size="4.7" fill="#222">Chemo-</text>
<text x="540.6" y="471.4" font-size="4.7" fill="#222">therapy</text>
<text x="570.7" y="406.6" font-size="5.9" text-anchor="middle" fill="#222">0.14</text>
<text x="570.7" y="411.3" font-size="4.1" text-anchor="middle" fill="#333">n = 3</text>
<line x1="570.70" y1="455.20" x2="570.70" y2="457.20" stroke="#444" stroke-width="0.5"/>
<text x="561.2" y="464.9" font-size="4.7" fill="#222">Immuno-</text>
<text x="561.2" y="471.4" font-size="4.7" fill="#222">therapy</text>
<line x1="489.30" y1="443.31" x2="489.30" y2="441.45" stroke="#333" stroke-width="0.45"/>
<line x1="489.30" y1="452.07" x2="489.30" y2="452.07" stroke="#333" stroke-width="0.45"/>
<rect x="481.10" y="443.31" width="16.40" height="8.76" fill="#fff" stroke="#333" stroke-width="0.5"/>
<line x1="481.10" y1="450.75" x2="497.50" y2="450.75" stroke="#333" stroke-width="0.7"/>
<circle cx="485.64" cy="451.53" r="1.45" fill="#1a1a1a" fill-opacity="0.85"/>
<circle cx="492.77" cy="451.91" r="1.45" fill="#1a1a1a" fill-opacity="0.85"/>
<circle cx="491.94" cy="450.75" r="1.45" fill="#1a1a1a" fill-opacity="0.85"/>
<circle cx="486.85" cy="443.00" r="1.45" fill="#1a1a1a" fill-opacity="0.85"/>
<circle cx="489.25" cy="441.45" r="1.45" fill="#1a1a1a" fill-opacity="0.85"/>
<line x1="510.10" y1="445.48" x2="510.10" y2="442.23" stroke="#333" stroke-width="0.45"/>
<line x1="510.10" y1="450.52" x2="510.10" y2="452.30" stroke="#333" stroke-width="0.45"/>
<rect x="501.90" y="445.48" width="16.40" height="5.04" fill="#fff" stroke="#333" stroke-width="0.5"/>
<line x1="501.90" y1="448.81" x2="518.30" y2="448.81" stroke="#333" stroke-width="0.7"/>
<circle cx="514.66" cy="390.30" r="1.45" fill="#1a1a1a" fill-opacity="0.85"/>
<circle cx="514.58" cy="422.07" r="1.45" fill="#1a1a1a" fill-opacity="0.85"/>
<circle cx="505.67" cy="430.60" r="1.45" fill="#1a1a1a" fill-opacity="0.85"/>
<circle cx="505.95" cy="432.93" r="1.45" fill="#1a1a1a" fill-opacity="0.85"/>
<circle cx="513.45" cy="443.00" r="1.45" fill="#1a1a1a" fill-opacity="0.85"/>
<circle cx="512.46" cy="444.55" r="1.45" fill="#1a1a1a" fill-opacity="0.85"/>
<circle cx="511.80" cy="445.32" r="1.45" fill="#1a1a1a" fill-opacity="0.85"/>
<circle cx="508.18" cy="446.10" r="1.45" fill="#1a1a1a" fill-opacity="0.85"/>
<circle cx="511.16" cy="446.88" r="1.45" fill="#1a1a1a" fill-opacity="0.85"/>
<circle cx="511.17" cy="447.65" r="1.45" fill="#1a1a1a" fill-opacity="0.85"/>
<circle cx="510.91" cy="447.65" r="1.45" fill="#1a1a1a" fill-opacity="0.85"/>
<circle cx="506.68" cy="448.43" r="1.45" fill="#1a1a1a" fill-opacity="0.85"/>
<circle cx="509.41" cy="448.43" r="1.45" fill="#1a1a1a" fill-opacity="0.85"/>
<circle cx="509.04" cy="449.20" r="1.45" fill="#1a1a1a" fill-opacity="0.85"/>
<circle cx="512.33" cy="449.20" r="1.45" fill="#1a1a1a" fill-opacity="0.85"/>
<circle cx="515.05" cy="449.98" r="1.45" fill="#1a1a1a" fill-opacity="0.85"/>
<circle cx="514.59" cy="449.98" r="1.45" fill="#1a1a1a" fill-opacity="0.85"/>
<circle cx="510.54" cy="450.75" r="1.45" fill="#1a1a1a" fill-opacity="0.85"/>
<circle cx="509.55" cy="450.75" r="1.45" fill="#1a1a1a" fill-opacity="0.85"/>
<circle cx="507.78" cy="451.53" r="1.45" fill="#1a1a1a" fill-opacity="0.85"/>
<circle cx="505.46" cy="451.53" r="1.45" fill="#1a1a1a" fill-opacity="0.85"/>
<circle cx="505.37" cy="452.30" r="1.45" fill="#1a1a1a" fill-opacity="0.85"/>
<circle cx="509.75" cy="452.30" r="1.45" fill="#1a1a1a" fill-opacity="0.85"/>
<circle cx="508.28" cy="448.43" r="1.45" fill="#1a1a1a" fill-opacity="0.85"/>
<circle cx="508.90" cy="446.88" r="1.45" fill="#1a1a1a" fill-opacity="0.85"/>
<circle cx="514.02" cy="445.32" r="1.45" fill="#1a1a1a" fill-opacity="0.85"/>
<circle cx="510.36" cy="449.98" r="1.45" fill="#1a1a1a" fill-opacity="0.85"/>
<circle cx="510.71" cy="449.20" r="1.45" fill="#1a1a1a" fill-opacity="0.85"/>
<line x1="529.80" y1="444.55" x2="529.80" y2="437.57" stroke="#333" stroke-width="0.45"/>
<line x1="529.80" y1="451.68" x2="529.80" y2="452.30" stroke="#333" stroke-width="0.45"/>
<rect x="521.60" y="444.55" width="16.40" height="7.13" fill="#fff" stroke="#333" stroke-width="0.5"/>
<line x1="521.60" y1="447.26" x2="538.00" y2="447.26" stroke="#333" stroke-width="0.7"/>
<circle cx="527.18" cy="436.03" r="1.45" fill="#1a1a1a" fill-opacity="0.85"/>
<circle cx="530.24" cy="443.78" r="1.45" fill="#1a1a1a" fill-opacity="0.85"/>
<circle cx="528.50" cy="444.55" r="1.45" fill="#1a1a1a" fill-opacity="0.85"/>
<circle cx="530.84" cy="446.88" r="1.45" fill="#1a1a1a" fill-opacity="0.85"/>
<circle cx="531.06" cy="448.43" r="1.45" fill="#1a1a1a" fill-opacity="0.85"/>
<circle cx="525.46" cy="450.75" r="1.45" fill="#1a1a1a" fill-opacity="0.85"/>
<circle cx="524.93" cy="451.53" r="1.45" fill="#1a1a1a" fill-opacity="0.85"/>
<circle cx="533.17" cy="452.30" r="1.45" fill="#1a1a1a" fill-opacity="0.85"/>
<line x1="550.10" y1="441.14" x2="550.10" y2="432.93" stroke="#333" stroke-width="0.45"/>
<line x1="550.10" y1="449.90" x2="550.10" y2="452.30" stroke="#333" stroke-width="0.45"/>
<rect x="541.90" y="441.14" width="16.40" height="8.76" fill="#fff" stroke="#333" stroke-width="0.5"/>
<line x1="541.90" y1="447.26" x2="558.30" y2="447.26" stroke="#333" stroke-width="0.7"/>
<circle cx="547.46" cy="413.55" r="1.45" fill="#1a1a1a" fill-opacity="0.85"/>
<circle cx="546.13" cy="432.93" r="1.45" fill="#1a1a1a" fill-opacity="0.85"/>
<circle cx="549.06" cy="436.03" r="1.45" fill="#1a1a1a" fill-opacity="0.85"/>
<circle cx="546.65" cy="439.12" r="1.45" fill="#1a1a1a" fill-opacity="0.85"/>
<circle cx="545.77" cy="440.68" r="1.45" fill="#1a1a1a" fill-opacity="0.85"/>
<circle cx="549.12" cy="442.23" r="1.45" fill="#1a1a1a" fill-opacity="0.85"/>
<circle cx="554.28" cy="444.55" r="1.45" fill="#1a1a1a" fill-opacity="0.85"/>
<circle cx="553.10" cy="445.32" r="1.45" fill="#1a1a1a" fill-opacity="0.85"/>
<circle cx="552.75" cy="446.10" r="1.45" fill="#1a1a1a" fill-opacity="0.85"/>
<circle cx="547.32" cy="446.88" r="1.45" fill="#1a1a1a" fill-opacity="0.85"/>
<circle cx="550.47" cy="447.65" r="1.45" fill="#1a1a1a" fill-opacity="0.85"/>
<circle cx="547.87" cy="447.65" r="1.45" fill="#1a1a1a" fill-opacity="0.85"/>
<circle cx="546.83" cy="448.43" r="1.45" fill="#1a1a1a" fill-opacity="0.85"/>
<circle cx="546.16" cy="449.20" r="1.45" fill="#1a1a1a" fill-opacity="0.85"/>
<circle cx="547.24" cy="449.20" r="1.45" fill="#1a1a1a" fill-opacity="0.85"/>
<circle cx="554.37" cy="449.98" r="1.45" fill="#1a1a1a" fill-opacity="0.85"/>
<circle cx="553.39" cy="449.98" r="1.45" fill="#1a1a1a" fill-opacity="0.85"/>
<circle cx="553.17" cy="450.75" r="1.45" fill="#1a1a1a" fill-opacity="0.85"/>
<circle cx="553.10" cy="451.53" r="1.45" fill="#1a1a1a" fill-opacity="0.85"/>
<circle cx="547.03" cy="452.30" r="1.45" fill="#1a1a1a" fill-opacity="0.85"/>
<circle cx="548.20" cy="443.78" r="1.45" fill="#1a1a1a" fill-opacity="0.85"/>
<circle cx="551.37" cy="448.43" r="1.45" fill="#1a1a1a" fill-opacity="0.85"/>
<line x1="570.70" y1="432.93" x2="570.70" y2="426.73" stroke="#333" stroke-width="0.45"/>
<line x1="570.70" y1="440.68" x2="570.70" y2="440.68" stroke="#333" stroke-width="0.45"/>
<rect x="562.50" y="432.93" width="16.40" height="7.75" fill="#fff" stroke="#333" stroke-width="0.5"/>
<line x1="562.50" y1="440.06" x2="578.90" y2="440.06" stroke="#333" stroke-width="0.7"/>
<circle cx="571.93" cy="425.95" r="1.45" fill="#1a1a1a" fill-opacity="0.85"/>
<circle cx="573.12" cy="439.90" r="1.45" fill="#1a1a1a" fill-opacity="0.85"/>
<circle cx="573.65" cy="440.68" r="1.45" fill="#1a1a1a" fill-opacity="0.85"/>
<text x="684.0" y="393.4" font-size="5.7" text-anchor="end" fill="#a58aff">Receptor status</text>
<text x="597.5" y="399.9" font-size="5.75" fill="#222">FDR against all other groups:</text>
<text x="600.4" y="406.6" font-size="5.9" text-anchor="middle" fill="#222">0.95</text>
<text x="600.4" y="411.6" font-size="4.1" text-anchor="middle" fill="#333">n = 3</text>
<line x1="600.40" y1="455.60" x2="600.40" y2="457.60" stroke="#444" stroke-width="0.5"/>
<text x="588.2" y="464.8" font-size="4.7" fill="#222">HR<tspan dy="-1.6" font-size="3">+</tspan></text>
<text x="588.2" y="471.5" font-size="4.7" fill="#222">HER2<tspan dy="-1.6" font-size="3">+</tspan></text>
<text x="623.7" y="406.6" font-size="5.9" text-anchor="middle" fill="#222">0.007</text>
<text x="623.7" y="411.6" font-size="4.1" text-anchor="middle" fill="#333">n = 44</text>
<line x1="623.70" y1="455.60" x2="623.70" y2="457.60" stroke="#444" stroke-width="0.5"/>
<text x="613.0" y="464.8" font-size="4.7" fill="#222">HR<tspan dy="-1.6" font-size="3">+</tspan></text>
<text x="613.0" y="471.5" font-size="4.7" fill="#222">HER2<tspan dy="-1.6" font-size="3">−</tspan></text>
<text x="647.3" y="406.6" font-size="5.9" text-anchor="middle" fill="#222">0.95</text>
<text x="647.3" y="411.6" font-size="4.1" text-anchor="middle" fill="#333">n = 3</text>
<line x1="647.30" y1="455.60" x2="647.30" y2="457.60" stroke="#444" stroke-width="0.5"/>
<text x="638.0" y="464.8" font-size="4.7" fill="#222">HR<tspan dy="-1.6" font-size="3">−</tspan></text>
<text x="638.0" y="471.5" font-size="4.7" fill="#222">HER2<tspan dy="-1.6" font-size="3">+</tspan></text>
<text x="670.6" y="406.6" font-size="5.9" text-anchor="middle" fill="#222">0.007</text>
<text x="670.6" y="411.6" font-size="4.1" text-anchor="middle" fill="#333">n = 16</text>
<line x1="670.60" y1="455.60" x2="670.60" y2="457.60" stroke="#444" stroke-width="0.5"/>
<text x="662.8" y="464.8" font-size="4.7" fill="#222">HR<tspan dy="-1.6" font-size="3">−</tspan></text>
<text x="662.8" y="471.5" font-size="4.7" fill="#222">HER2<tspan dy="-1.6" font-size="3">−</tspan></text>
<line x1="600.40" y1="435.64" x2="600.40" y2="422.07" stroke="#333" stroke-width="0.45"/>
<line x1="600.40" y1="449.74" x2="600.40" y2="449.74" stroke="#333" stroke-width="0.45"/>
<rect x="591.55" y="435.64" width="17.70" height="14.11" fill="#fff" stroke="#333" stroke-width="0.5"/>
<line x1="591.55" y1="449.43" x2="609.25" y2="449.43" stroke="#333" stroke-width="0.7"/>
<circle cx="602.75" cy="422.07" r="1.45" fill="#1a1a1a" fill-opacity="0.85"/>
<circle cx="602.98" cy="449.20" r="1.45" fill="#1a1a1a" fill-opacity="0.85"/>
<circle cx="600.28" cy="449.74" r="1.45" fill="#1a1a1a" fill-opacity="0.85"/>
<line x1="623.70" y1="446.10" x2="623.70" y2="440.68" stroke="#333" stroke-width="0.45"/>
<line x1="623.70" y1="450.52" x2="623.70" y2="452.30" stroke="#333" stroke-width="0.45"/>
<rect x="614.85" y="446.10" width="17.70" height="4.42" fill="#fff" stroke="#333" stroke-width="0.5"/>
<line x1="614.85" y1="448.19" x2="632.55" y2="448.19" stroke="#333" stroke-width="0.7"/>
<circle cx="621.59" cy="390.30" r="1.45" fill="#1a1a1a" fill-opacity="0.85"/>
<circle cx="619.51" cy="429.82" r="1.45" fill="#1a1a1a" fill-opacity="0.85"/>
<circle cx="625.51" cy="431.38" r="1.45" fill="#1a1a1a" fill-opacity="0.85"/>
<circle cx="618.57" cy="436.80" r="1.45" fill="#1a1a1a" fill-opacity="0.85"/>
<circle cx="624.13" cy="441.45" r="1.45" fill="#1a1a1a" fill-opacity="0.85"/>
<circle cx="622.09" cy="443.78" r="1.45" fill="#1a1a1a" fill-opacity="0.85"/>
<circle cx="618.40" cy="444.55" r="1.45" fill="#1a1a1a" fill-opacity="0.85"/>
<circle cx="623.79" cy="445.32" r="1.45" fill="#1a1a1a" fill-opacity="0.85"/>
<circle cx="618.15" cy="445.32" r="1.45" fill="#1a1a1a" fill-opacity="0.85"/>
<circle cx="622.90" cy="446.10" r="1.45" fill="#1a1a1a" fill-opacity="0.85"/>
<circle cx="618.54" cy="446.10" r="1.45" fill="#1a1a1a" fill-opacity="0.85"/>
<circle cx="618.79" cy="446.88" r="1.45" fill="#1a1a1a" fill-opacity="0.85"/>
<circle cx="622.79" cy="446.88" r="1.45" fill="#1a1a1a" fill-opacity="0.85"/>
<circle cx="627.62" cy="446.88" r="1.45" fill="#1a1a1a" fill-opacity="0.85"/>
<circle cx="619.19" cy="447.65" r="1.45" fill="#1a1a1a" fill-opacity="0.85"/>
<circle cx="620.38" cy="447.65" r="1.45" fill="#1a1a1a" fill-opacity="0.85"/>
<circle cx="625.23" cy="447.65" r="1.45" fill="#1a1a1a" fill-opacity="0.85"/>
<circle cx="629.07" cy="448.43" r="1.45" fill="#1a1a1a" fill-opacity="0.85"/>
<circle cx="624.63" cy="448.43" r="1.45" fill="#1a1a1a" fill-opacity="0.85"/>
<circle cx="622.46" cy="448.43" r="1.45" fill="#1a1a1a" fill-opacity="0.85"/>
<circle cx="629.42" cy="448.43" r="1.45" fill="#1a1a1a" fill-opacity="0.85"/>
<circle cx="618.26" cy="449.20" r="1.45" fill="#1a1a1a" fill-opacity="0.85"/>
<circle cx="628.00" cy="449.20" r="1.45" fill="#1a1a1a" fill-opacity="0.85"/>
<circle cx="621.18" cy="449.20" r="1.45" fill="#1a1a1a" fill-opacity="0.85"/>
<circle cx="619.43" cy="449.20" r="1.45" fill="#1a1a1a" fill-opacity="0.85"/>
<circle cx="619.11" cy="449.98" r="1.45" fill="#1a1a1a" fill-opacity="0.85"/>
<circle cx="621.40" cy="449.98" r="1.45" fill="#1a1a1a" fill-opacity="0.85"/>
<circle cx="627.49" cy="449.98" r="1.45" fill="#1a1a1a" fill-opacity="0.85"/>
<circle cx="619.87" cy="449.98" r="1.45" fill="#1a1a1a" fill-opacity="0.85"/>
<circle cx="624.68" cy="450.75" r="1.45" fill="#1a1a1a" fill-opacity="0.85"/>
<circle cx="625.37" cy="450.75" r="1.45" fill="#1a1a1a" fill-opacity="0.85"/>
<circle cx="622.17" cy="450.75" r="1.45" fill="#1a1a1a" fill-opacity="0.85"/>
<circle cx="624.27" cy="450.75" r="1.45" fill="#1a1a1a" fill-opacity="0.85"/>
<circle cx="618.45" cy="451.53" r="1.45" fill="#1a1a1a" fill-opacity="0.85"/>
<circle cx="618.42" cy="451.53" r="1.45" fill="#1a1a1a" fill-opacity="0.85"/>
<circle cx="620.17" cy="451.53" r="1.45" fill="#1a1a1a" fill-opacity="0.85"/>
<circle cx="625.86" cy="452.30" r="1.45" fill="#1a1a1a" fill-opacity="0.85"/>
<circle cx="622.83" cy="452.30" r="1.45" fill="#1a1a1a" fill-opacity="0.85"/>
<circle cx="621.47" cy="452.30" r="1.45" fill="#1a1a1a" fill-opacity="0.85"/>
<circle cx="624.73" cy="452.30" r="1.45" fill="#1a1a1a" fill-opacity="0.85"/>
<circle cx="623.14" cy="447.65" r="1.45" fill="#1a1a1a" fill-opacity="0.85"/>
<circle cx="621.30" cy="448.43" r="1.45" fill="#1a1a1a" fill-opacity="0.85"/>
<circle cx="627.23" cy="449.98" r="1.45" fill="#1a1a1a" fill-opacity="0.85"/>
<circle cx="626.09" cy="450.75" r="1.45" fill="#1a1a1a" fill-opacity="0.85"/>
<line x1="647.30" y1="443.39" x2="647.30" y2="440.29" stroke="#333" stroke-width="0.45"/>
<line x1="647.30" y1="449.43" x2="647.30" y2="452.30" stroke="#333" stroke-width="0.45"/>
<rect x="638.45" y="443.39" width="17.70" height="6.05" fill="#fff" stroke="#333" stroke-width="0.5"/>
<line x1="638.45" y1="445.32" x2="656.15" y2="445.32" stroke="#333" stroke-width="0.7"/>
<circle cx="645.66" cy="440.29" r="1.45" fill="#1a1a1a" fill-opacity="0.85"/>
<circle cx="650.07" cy="445.32" r="1.45" fill="#1a1a1a" fill-opacity="0.85"/>
<circle cx="645.06" cy="452.30" r="1.45" fill="#1a1a1a" fill-opacity="0.85"/>
<line x1="670.60" y1="438.50" x2="670.60" y2="432.15" stroke="#333" stroke-width="0.45"/>
<line x1="670.60" y1="445.71" x2="670.60" y2="450.75" stroke="#333" stroke-width="0.45"/>
<rect x="661.75" y="438.50" width="17.70" height="7.21" fill="#fff" stroke="#333" stroke-width="0.5"/>
<line x1="661.75" y1="442.23" x2="679.45" y2="442.23" stroke="#333" stroke-width="0.7"/>
<circle cx="670.23" cy="413.55" r="1.45" fill="#1a1a1a" fill-opacity="0.85"/>
<circle cx="669.33" cy="426.73" r="1.45" fill="#1a1a1a" fill-opacity="0.85"/>
<circle cx="666.99" cy="433.70" r="1.45" fill="#1a1a1a" fill-opacity="0.85"/>
<circle cx="674.27" cy="436.80" r="1.45" fill="#1a1a1a" fill-opacity="0.85"/>
<circle cx="665.66" cy="439.12" r="1.45" fill="#1a1a1a" fill-opacity="0.85"/>
<circle cx="670.63" cy="439.90" r="1.45" fill="#1a1a1a" fill-opacity="0.85"/>
<circle cx="674.58" cy="440.68" r="1.45" fill="#1a1a1a" fill-opacity="0.85"/>
<circle cx="666.41" cy="442.23" r="1.45" fill="#1a1a1a" fill-opacity="0.85"/>
<circle cx="671.14" cy="443.00" r="1.45" fill="#1a1a1a" fill-opacity="0.85"/>
<circle cx="671.77" cy="443.78" r="1.45" fill="#1a1a1a" fill-opacity="0.85"/>
<circle cx="666.01" cy="445.32" r="1.45" fill="#1a1a1a" fill-opacity="0.85"/>
<circle cx="669.39" cy="446.10" r="1.45" fill="#1a1a1a" fill-opacity="0.85"/>
<circle cx="672.63" cy="449.20" r="1.45" fill="#1a1a1a" fill-opacity="0.85"/>
<circle cx="670.12" cy="449.98" r="1.45" fill="#1a1a1a" fill-opacity="0.85"/>
<circle cx="672.85" cy="450.75" r="1.45" fill="#1a1a1a" fill-opacity="0.85"/>
<circle cx="667.17" cy="450.36" r="1.45" fill="#1a1a1a" fill-opacity="0.85"/>
<text x="0.0" y="521.0" font-size="13" font-weight="bold" stroke="#000" stroke-width="0.45">g</text>
<text x="94.5" y="522.6" font-size="7.9" text-anchor="middle">Expression in malignant cells</text>
<text x="70.3" y="534.2" font-size="7.5" text-anchor="middle">snRNA-seq</text>
<line x1="49.30" y1="538.50" x2="91.30" y2="538.50" stroke="#222" stroke-width="0.6"/>
<text x="119.0" y="534.2" font-size="7.5" text-anchor="middle">scRNA-seq</text>
<line x1="97.90" y1="538.50" x2="140.10" y2="538.50" stroke="#222" stroke-width="0.6"/>
<rect x="43.10" y="540.70" width="102.90" height="122.40" fill="#fff" stroke="#555" stroke-width="0.6"/>
<line x1="41.00" y1="549.90" x2="43.10" y2="549.90" stroke="#444" stroke-width="0.5"/>
<text x="39.2" y="552.2" font-size="6.4" text-anchor="end" fill="#111">TRPS1</text>
<circle cx="50.60" cy="549.90" r="5.47" fill="#e0004c"/>
<circle cx="63.10" cy="549.90" r="5.47" fill="#ff0000"/>
<circle cx="75.50" cy="549.90" r="5.47" fill="#f00028"/>
<circle cx="88.20" cy="549.90" r="5.47" fill="#ff0000"/>
<circle cx="100.70" cy="549.90" r="4.82" fill="#a010c0"/>
<circle cx="113.20" cy="549.90" r="4.82" fill="#b010a8"/>
<circle cx="125.90" cy="549.90" r="4.82" fill="#9010d0"/>
<circle cx="138.40" cy="549.90" r="4.16" fill="#6818f0"/>
<line x1="41.00" y1="564.80" x2="43.10" y2="564.80" stroke="#444" stroke-width="0.5"/>
<text x="39.2" y="567.1" font-size="6.4" text-anchor="end" fill="#111">KRT19</text>
<circle cx="50.60" cy="564.80" r="5.47" fill="#dc0858"/>
<circle cx="63.10" cy="564.80" r="5.04" fill="#b010a8"/>
<circle cx="75.50" cy="564.80" r="5.04" fill="#b80ca0"/>
<circle cx="88.20" cy="564.80" r="4.82" fill="#a010c0"/>
<circle cx="100.70" cy="564.80" r="5.47" fill="#e00050"/>
<circle cx="113.20" cy="564.80" r="5.47" fill="#e4004c"/>
<circle cx="125.90" cy="564.80" r="5.47" fill="#e80040"/>
<circle cx="138.40" cy="564.80" r="5.47" fill="#d00870"/>
<line x1="41.00" y1="579.90" x2="43.10" y2="579.90" stroke="#444" stroke-width="0.5"/>
<text x="39.2" y="582.2" font-size="6.4" text-anchor="end" fill="#111">KRT18</text>
<circle cx="50.60" cy="579.90" r="4.16" fill="#8810d8"/>
<circle cx="63.10" cy="579.90" r="3.28" fill="#5818f8"/>
<circle cx="75.50" cy="579.90" r="4.60" fill="#9c10c8"/>
<circle cx="88.20" cy="579.90" r="2.85" fill="#5010ff"/>
<circle cx="100.70" cy="579.90" r="5.04" fill="#c80880"/>
<circle cx="113.20" cy="579.90" r="5.47" fill="#d80468"/>
<circle cx="125.90" cy="579.90" r="5.47" fill="#f00030"/>
<circle cx="138.40" cy="579.90" r="5.04" fill="#b010a8"/>
<line x1="41.00" y1="594.80" x2="43.10" y2="594.80" stroke="#444" stroke-width="0.5"/>
<text x="39.2" y="597.1" font-size="6.4" text-anchor="end" fill="#111">KRT8</text>
<circle cx="50.60" cy="594.80" r="4.16" fill="#8410dc"/>
<circle cx="63.10" cy="594.80" r="4.16" fill="#6c14ec"/>
<circle cx="75.50" cy="594.80" r="5.04" fill="#a810b4"/>
<circle cx="88.20" cy="594.80" r="3.72" fill="#7010ec"/>
<circle cx="100.70" cy="594.80" r="5.04" fill="#c00c90"/>
<circle cx="113.20" cy="594.80" r="5.47" fill="#d00870"/>
<circle cx="125.90" cy="594.80" r="5.47" fill="#ec0038"/>
<circle cx="138.40" cy="594.80" r="5.47" fill="#c00c90"/>
<line x1="41.00" y1="609.70" x2="43.10" y2="609.70" stroke="#444" stroke-width="0.5"/>
<text x="39.2" y="612.0" font-size="6.4" text-anchor="end" fill="#111">EPCAM</text>
<circle cx="50.60" cy="609.70" r="3.72" fill="#7410e8"/>
<circle cx="63.10" cy="609.70" r="4.16" fill="#6c14ec"/>
<circle cx="75.50" cy="609.70" r="5.04" fill="#a810b4"/>
<circle cx="88.20" cy="609.70" r="4.60" fill="#9810c8"/>
<circle cx="100.70" cy="609.70" r="5.04" fill="#b010a8"/>
<circle cx="113.20" cy="609.70" r="5.47" fill="#c40c88"/>
<circle cx="125.90" cy="609.70" r="5.47" fill="#c80880"/>
<circle cx="138.40" cy="609.70" r="5.04" fill="#a810b4"/>
<line x1="41.00" y1="624.80" x2="43.10" y2="624.80" stroke="#444" stroke-width="0.5"/>
<text x="39.2" y="627.1" font-size="6.4" text-anchor="end" fill="#111">PGR</text>
<circle cx="50.60" cy="624.80" r="1.31" fill="#1010ff"/>
<circle cx="63.10" cy="624.80" r="2.63" fill="#4018f8"/>
<circle cx="75.50" cy="624.80" r="1.31" fill="#1010ff"/>
<circle cx="88.20" cy="624.80" r="1.31" fill="#1010ff"/>
<circle cx="100.70" cy="624.80" r="4.16" fill="#7014ec"/>
<circle cx="113.20" cy="624.80" r="3.07" fill="#4818f8"/>
<circle cx="125.90" cy="624.80" r="1.09" fill="#1010ff"/>
<circle cx="138.40" cy="624.80" r="1.31" fill="#1010ff"/>
<line x1="41.00" y1="639.70" x2="43.10" y2="639.70" stroke="#444" stroke-width="0.5"/>
<text x="39.2" y="642.0" font-size="6.4" text-anchor="end" fill="#111">ERBB2</text>
<circle cx="50.60" cy="639.70" r="5.47" fill="#e00050"/>
<circle cx="63.10" cy="639.70" r="4.16" fill="#7c10e0"/>
<circle cx="75.50" cy="639.70" r="5.04" fill="#b010a8"/>
<circle cx="88.20" cy="639.70" r="3.94" fill="#8810d8"/>
<circle cx="100.70" cy="639.70" r="4.16" fill="#8410dc"/>
<circle cx="113.20" cy="639.70" r="3.50" fill="#5c18f4"/>
<circle cx="125.90" cy="639.70" r="5.47" fill="#dc0858"/>
<circle cx="138.40" cy="639.70" r="3.07" fill="#3818fc"/>
<line x1="41.00" y1="654.60" x2="43.10" y2="654.60" stroke="#444" stroke-width="0.5"/>
<text x="39.2" y="656.9" font-size="6.4" text-anchor="end" fill="#111">ESR1</text>
<circle cx="50.60" cy="654.60" r="4.60" fill="#b010a8"/>
<circle cx="63.10" cy="654.60" r="5.47" fill="#e00050"/>
<circle cx="75.50" cy="654.60" r="2.41" fill="#2010ff"/>
<circle cx="88.20" cy="654.60" r="2.85" fill="#5818f8"/>
<circle cx="100.70" cy="654.60" r="4.60" fill="#8c10d4"/>
<circle cx="113.20" cy="654.60" r="4.82" fill="#a010c0"/>
<circle cx="125.90" cy="654.60" r="1.75" fill="#1010ff"/>
<circle cx="138.40" cy="654.60" r="1.53" fill="#1010ff"/>
<line x1="50.60" y1="663.10" x2="50.60" y2="665.30" stroke="#444" stroke-width="0.5"/>
<text x="53.2" y="668.2" font-size="6.6" text-anchor="end" transform="rotate(-60 53.2 668.2)" fill="#111">HR<tspan dy="-2" font-size="4">+</tspan><tspan dy="2">/HER2</tspan><tspan dy="-2" font-size="4">+</tspan></text>
<line x1="63.10" y1="663.10" x2="63.10" y2="665.30" stroke="#444" stroke-width="0.5"/>
<text x="65.7" y="668.2" font-size="6.6" text-anchor="end" transform="rotate(-60 65.7 668.2)" fill="#111">HR<tspan dy="-2" font-size="4">+</tspan><tspan dy="2">/HER2</tspan><tspan dy="-2" font-size="4">−</tspan></text>
<line x1="75.50" y1="663.10" x2="75.50" y2="665.30" stroke="#444" stroke-width="0.5"/>
<text x="78.1" y="668.2" font-size="6.6" text-anchor="end" transform="rotate(-60 78.1 668.2)" fill="#111">HR<tspan dy="-2" font-size="4">−</tspan><tspan dy="2">/HER2</tspan><tspan dy="-2" font-size="4">+</tspan></text>
<line x1="88.20" y1="663.10" x2="88.20" y2="665.30" stroke="#444" stroke-width="0.5"/>
<text x="90.8" y="668.2" font-size="6.6" text-anchor="end" transform="rotate(-60 90.8 668.2)" fill="#111">HR<tspan dy="-2" font-size="4">−</tspan><tspan dy="2">/HER2</tspan><tspan dy="-2" font-size="4">−</tspan></text>
<line x1="100.70" y1="663.10" x2="100.70" y2="665.30" stroke="#444" stroke-width="0.5"/>
<text x="103.3" y="668.2" font-size="6.6" text-anchor="end" transform="rotate(-60 103.3 668.2)" fill="#111">HR<tspan dy="-2" font-size="4">+</tspan><tspan dy="2">/HER2</tspan><tspan dy="-2" font-size="4">+</tspan></text>
<line x1="113.20" y1="663.10" x2="113.20" y2="665.30" stroke="#444" stroke-width="0.5"/>
<text x="115.8" y="668.2" font-size="6.6" text-anchor="end" transform="rotate(-60 115.8 668.2)" fill="#111">HR<tspan dy="-2" font-size="4">+</tspan><tspan dy="2">/HER2</tspan><tspan dy="-2" font-size="4">−</tspan></text>
<line x1="125.90" y1="663.10" x2="125.90" y2="665.30" stroke="#444" stroke-width="0.5"/>
<text x="128.5" y="668.2" font-size="6.6" text-anchor="end" transform="rotate(-60 128.5 668.2)" fill="#111">HR<tspan dy="-2" font-size="4">−</tspan><tspan dy="2">/HER2</tspan><tspan dy="-2" font-size="4">+</tspan></text>
<line x1="138.40" y1="663.10" x2="138.40" y2="665.30" stroke="#444" stroke-width="0.5"/>
<text x="141.0" y="668.2" font-size="6.6" text-anchor="end" transform="rotate(-60 141 668.2)" fill="#111">HR<tspan dy="-2" font-size="4">−</tspan><tspan dy="2">/HER2</tspan><tspan dy="-2" font-size="4">−</tspan></text>
<text x="7.2" y="580.0" font-size="7.5" text-anchor="middle" transform="rotate(-90 7.2 580)">Markers</text>
<line x1="11.40" y1="547.70" x2="11.40" y2="612.70" stroke="#222" stroke-width="0.6"/>
<text x="7.2" y="641.2" font-size="7.5" text-anchor="middle" transform="rotate(-90 7.2 641.2)">Receptors</text>
<line x1="11.40" y1="623.20" x2="11.40" y2="659.40" stroke="#222" stroke-width="0.6"/>
<text x="148.8" y="550.3" font-size="7.2">Mean normalized</text>
<text x="148.8" y="558.7" font-size="7.2">expression</text>
<rect x="151.00" y="564.60" width="47.80" height="13.00" fill="url(#gexp)"/>
<line x1="163.00" y1="564.60" x2="163.00" y2="567.00" stroke="#fff" stroke-width="0.5"/>
<line x1="163.00" y1="575.20" x2="163.00" y2="577.60" stroke="#fff" stroke-width="0.5"/>
<text x="163.0" y="585.0" font-size="5.6" text-anchor="middle" fill="#222">1</text>
<line x1="174.30" y1="564.60" x2="174.30" y2="567.00" stroke="#fff" stroke-width="0.5"/>
<line x1="174.30" y1="575.20" x2="174.30" y2="577.60" stroke="#fff" stroke-width="0.5"/>
<text x="174.3" y="585.0" font-size="5.6" text-anchor="middle" fill="#222">2</text>
<line x1="185.40" y1="564.60" x2="185.40" y2="567.00" stroke="#fff" stroke-width="0.5"/>
<line x1="185.40" y1="575.20" x2="185.40" y2="577.60" stroke="#fff" stroke-width="0.5"/>
<text x="185.4" y="585.0" font-size="5.6" text-anchor="middle" fill="#222">3</text>
<line x1="197.00" y1="564.60" x2="197.00" y2="567.00" stroke="#fff" stroke-width="0.5"/>
<line x1="197.00" y1="575.20" x2="197.00" y2="577.60" stroke="#fff" stroke-width="0.5"/>
<text x="197.0" y="585.0" font-size="5.6" text-anchor="middle" fill="#222">4</text>
<text x="150.5" y="610.0" font-size="7.3">Fraction of</text>
<text x="150.5" y="618.8" font-size="7.3">expressing cells</text>
<circle cx="156.50" cy="627.30" r="3.50" fill="#000"/>
<text x="164.4" y="629.3" font-size="5.6" fill="#222">0.25</text>
<circle cx="156.50" cy="639.80" r="4.20" fill="#000"/>
<text x="164.4" y="641.8" font-size="5.6" fill="#222">0.50</text>
<circle cx="156.50" cy="652.50" r="5.10" fill="#000"/>
<text x="164.4" y="654.5" font-size="5.6" fill="#222">0.75</text>
<text x="222.0" y="496.5" font-size="13" font-weight="bold" stroke="#000" stroke-width="0.45">h</text>
<text x="238.7" y="494.2" font-size="7.4">Pseudobulk expression across malignant cells</text>
<text x="239.7" y="504.2" font-size="5.6">Method</text>
<rect x="240.00" y="507.60" width="6.50" height="6.60" fill="#c3c3c3"/>
<rect x="240.00" y="514.10" width="6.50" height="6.60" fill="#000"/>
<text x="250.2" y="512.4" font-size="5.6">snRNA-seq</text>
<text x="250.2" y="518.9" font-size="5.6">scRNA-seq</text>
<text x="280.8" y="504.2" font-size="5.6">Biopsy site</text>
<rect x="280.80" y="507.60" width="6.50" height="6.60" fill="#7f0f7f"/>
<text x="290.1" y="512.4" font-size="5.6">Axilla</text>
<rect x="280.80" y="514.10" width="6.50" height="6.60" fill="#d010a0"/>
<text x="290.1" y="518.9" font-size="5.6">Bone</text>
<rect x="280.80" y="520.60" width="6.50" height="6.60" fill="#f06cc4"/>
<text x="290.1" y="525.4" font-size="5.6">Brain</text>
<rect x="309.30" y="507.60" width="6.50" height="6.60" fill="#b31212"/>
<text x="318.8" y="512.4" font-size="5.6">Breast</text>
<rect x="309.30" y="514.10" width="6.50" height="6.60" fill="#f9523e"/>
<text x="318.8" y="518.9" font-size="5.6">Chest wall</text>
<rect x="309.30" y="520.60" width="6.50" height="6.60" fill="#faa195"/>
<text x="318.8" y="525.4" font-size="5.6">Liver</text>
<rect x="349.30" y="507.60" width="6.50" height="6.60" fill="#c0701c"/>
<text x="359.9" y="512.4" font-size="5.6">Lung</text>
<rect x="349.30" y="514.10" width="6.50" height="6.60" fill="#fbb362"/>
<text x="359.9" y="518.9" font-size="5.6">Neck</text>
<rect x="349.30" y="520.60" width="6.50" height="6.60" fill="#fbd9a8"/>
<text x="359.9" y="525.4" font-size="5.6">Skin</text>
<text x="239.7" y="534.2" font-size="5.6">PAM50</text>
<rect x="240.00" y="537.90" width="6.50" height="6.60" fill="#c8f868"/>
<text x="250.2" y="542.8" font-size="5.6">Basal</text>
<rect x="240.00" y="544.40" width="6.50" height="6.60" fill="#006400"/>
<text x="250.2" y="549.2" font-size="5.6">Her2</text>
<rect x="240.00" y="550.90" width="6.50" height="6.60" fill="#00008b"/>
<text x="250.2" y="555.7" font-size="5.6">LumA</text>
<rect x="240.00" y="557.40" width="6.50" height="6.60" fill="#add8e6"/>
<text x="250.2" y="562.1" font-size="5.6">LumB</text>
<text x="280.8" y="534.2" font-size="5.6">Receptors</text>
<rect x="280.80" y="537.90" width="6.50" height="6.60" fill="#1f4e5f"/>
<text x="290.1" y="542.8" font-size="5.6">HR<tspan dy="-1.7" font-size="3.4">+</tspan><tspan dy="1.7">/HER2</tspan><tspan dy="-1.7" font-size="3.4">−</tspan></text>
<rect x="280.80" y="544.40" width="6.50" height="6.60" fill="#00897b"/>
<text x="290.1" y="549.2" font-size="5.6">HR<tspan dy="-1.7" font-size="3.4">+</tspan><tspan dy="1.7">/HER2</tspan><tspan dy="-1.7" font-size="3.4">+</tspan></text>
<rect x="280.80" y="550.90" width="6.50" height="6.60" fill="#5fbf6f"/>
<text x="290.1" y="555.7" font-size="5.6">HR<tspan dy="-1.7" font-size="3.4">−</tspan><tspan dy="1.7">/HER2</tspan><tspan dy="-1.7" font-size="3.4">+</tspan></text>
<rect x="280.80" y="557.40" width="6.50" height="6.60" fill="#e9e951"/>
<text x="290.1" y="562.1" font-size="5.6">HR<tspan dy="-1.7" font-size="3.4">−</tspan><tspan dy="1.7">/HER2</tspan><tspan dy="-1.7" font-size="3.4">−</tspan></text>
<text x="257.1" y="572.4" font-size="5.6">Pearson correlation</text>
<rect x="257.10" y="574.80" width="50.30" height="7.00" fill="url(#gcor)"/>
<text x="258.3" y="584.6" font-size="4.8" text-anchor="end" transform="rotate(-45 258.3 584.6)" fill="#222">−0.2</text>
<text x="266.7" y="584.6" font-size="4.8" text-anchor="end" transform="rotate(-45 266.683 584.6)" fill="#222">0</text>
<text x="275.1" y="584.6" font-size="4.8" text-anchor="end" transform="rotate(-45 275.067 584.6)" fill="#222">0.2</text>
<text x="283.4" y="584.6" font-size="4.8" text-anchor="end" transform="rotate(-45 283.45 584.6)" fill="#222">0.4</text>
<text x="291.8" y="584.6" font-size="4.8" text-anchor="end" transform="rotate(-45 291.833 584.6)" fill="#222">0.6</text>
<text x="300.2" y="584.6" font-size="4.8" text-anchor="end" transform="rotate(-45 300.217 584.6)" fill="#222">0.8</text>
<text x="308.6" y="584.6" font-size="4.8" text-anchor="end" transform="rotate(-45 308.6 584.6)" fill="#222">1</text>
<g transform="translate(288.20 695.20) rotate(-45)" shape-rendering="crispEdges">
<path d="M-0.12 -0.12h4.82v4.82h-4.82zM4.46 4.46h4.82v4.82h-4.82zM9.04 9.04h4.82v4.82h-4.82zM13.63 13.63h4.82v4.82h-4.82zM18.21 18.21h4.82v4.82h-4.82zM22.79 22.79h4.82v4.82h-4.82zM27.37 27.37h4.82v4.82h-4.82zM31.95 31.95h4.82v4.82h-4.82zM36.54 36.54h4.82v4.82h-4.82zM41.12 41.12h4.82v4.82h-4.82zM45.70 45.70h4.82v4.82h-4.82zM50.28 50.28h4.82v4.82h-4.82zM54.86 54.86h4.82v4.82h-4.82zM59.45 59.45h4.82v4.82h-4.82zM64.03 64.03h4.82v4.82h-4.82zM68.61 68.61h4.82v4.82h-4.82zM73.19 73.19h4.82v4.82h-4.82zM77.77 77.77h4.82v4.82h-4.82zM82.36 82.36h4.82v4.82h-4.82zM86.94 86.94h4.82v4.82h-4.82zM91.52 91.52h4.82v4.82h-4.82zM96.10 96.10h4.82v4.82h-4.82zM100.69 100.69h4.82v4.82h-4.82zM105.27 105.27h4.82v4.82h-4.82zM109.85 109.85h4.82v4.82h-4.82zM114.43 114.43h4.82v4.82h-4.82zM119.01 119.01h4.82v4.82h-4.82zM123.60 123.60h4.82v4.82h-4.82zM128.18 128.18h4.82v4.82h-4.82zM132.76 132.76h4.82v4.82h-4.82zM137.34 137.34h4.82v4.82h-4.82zM141.92 141.92h4.82v4.82h-4.82zM146.51 146.51h4.82v4.82h-4.82zM151.09 151.09h4.82v4.82h-4.82zM155.67 155.67h4.82v4.82h-4.82zM160.25 160.25h4.82v4.82h-4.82zM164.83 164.83h4.82v4.82h-4.82zM169.42 169.42h4.82v4.82h-4.82zM174.00 174.00h4.82v4.82h-4.82zM178.58 178.58h4.82v4.82h-4.82zM183.16 183.16h4.82v4.82h-4.82zM187.74 187.74h4.82v4.82h-4.82zM192.33 192.33h4.82v4.82h-4.82zM196.91 196.91h4.82v4.82h-4.82zM201.49 201.49h4.82v4.82h-4.82zM206.07 206.07h4.82v4.82h-4.82zM210.65 210.65h4.82v4.82h-4.82zM215.24 215.24h4.82v4.82h-4.82zM219.82 219.82h4.82v4.82h-4.82zM224.40 224.40h4.82v4.82h-4.82zM228.98 228.98h4.82v4.82h-4.82zM233.56 233.56h4.82v4.82h-4.82zM238.15 238.15h4.82v4.82h-4.82zM242.73 242.73h4.82v4.82h-4.82z" fill="#d73027"/>
<path d="M4.46 -0.12h4.82v4.82h-4.82zM31.95 27.37h4.82v4.82h-4.82zM164.83 160.25h4.82v4.82h-4.82z" fill="#ed6845"/>
<path d="M9.04 -0.12h4.82v4.82h-4.82zM13.63 -0.12h4.82v4.82h-4.82zM22.79 -0.12h4.82v4.82h-4.82zM82.36 -0.12h4.82v4.82h-4.82zM13.63 4.46h4.82v4.82h-4.82zM13.63 9.04h4.82v4.82h-4.82zM22.79 9.04h4.82v4.82h-4.82zM50.28 9.04h4.82v4.82h-4.82zM233.56 9.04h4.82v4.82h-4.82zM18.21 13.63h4.82v4.82h-4.82zM50.28 18.21h4.82v4.82h-4.82zM59.45 18.21h4.82v4.82h-4.82zM233.56 18.21h4.82v4.82h-4.82zM73.19 22.79h4.82v4.82h-4.82zM238.15 22.79h4.82v4.82h-4.82zM242.73 22.79h4.82v4.82h-4.82zM77.77 27.37h4.82v4.82h-4.82zM224.40 27.37h4.82v4.82h-4.82zM238.15 27.37h4.82v4.82h-4.82zM36.54 31.95h4.82v4.82h-4.82zM77.77 31.95h4.82v4.82h-4.82zM41.12 36.54h4.82v4.82h-4.82zM45.70 36.54h4.82v4.82h-4.82zM64.03 36.54h4.82v4.82h-4.82zM50.28 45.70h4.82v4.82h-4.82zM59.45 54.86h4.82v4.82h-4.82zM73.19 54.86h4.82v4.82h-4.82zM68.61 64.03h4.82v4.82h-4.82zM77.77 68.61h4.82v4.82h-4.82zM100.69 73.19h4.82v4.82h-4.82zM128.18 73.19h4.82v4.82h-4.82zM105.27 82.36h4.82v4.82h-4.82zM132.76 82.36h4.82v4.82h-4.82zM146.51 86.94h4.82v4.82h-4.82zM114.43 91.52h4.82v4.82h-4.82zM164.83 91.52h4.82v4.82h-4.82zM119.01 96.10h4.82v4.82h-4.82zM132.76 105.27h4.82v4.82h-4.82zM119.01 109.85h4.82v4.82h-4.82zM128.18 109.85h4.82v4.82h-4.82zM146.51 109.85h4.82v4.82h-4.82zM151.09 109.85h4.82v4.82h-4.82zM119.01 114.43h4.82v4.82h-4.82zM141.92 128.18h4.82v4.82h-4.82zM155.67 128.18h4.82v4.82h-4.82zM160.25 132.76h4.82v4.82h-4.82zM164.83 137.34h4.82v4.82h-4.82zM155.67 141.92h4.82v4.82h-4.82zM155.67 151.09h4.82v4.82h-4.82zM160.25 155.67h4.82v4.82h-4.82zM224.40 219.82h4.82v4.82h-4.82zM238.15 219.82h4.82v4.82h-4.82zM242.73 224.40h4.82v4.82h-4.82z" fill="#feeca3"/>
<path d="M18.21 -0.12h4.82v4.82h-4.82zM31.95 -0.12h4.82v4.82h-4.82zM36.54 -0.12h4.82v4.82h-4.82zM45.70 -0.12h4.82v4.82h-4.82zM50.28 -0.12h4.82v4.82h-4.82zM64.03 -0.12h4.82v4.82h-4.82zM73.19 -0.12h4.82v4.82h-4.82zM77.77 -0.12h4.82v4.82h-4.82zM91.52 -0.12h4.82v4.82h-4.82zM22.79 4.46h4.82v4.82h-4.82zM36.54 4.46h4.82v4.82h-4.82zM18.21 9.04h4.82v4.82h-4.82zM36.54 9.04h4.82v4.82h-4.82zM45.70 9.04h4.82v4.82h-4.82zM224.40 9.04h4.82v4.82h-4.82zM238.15 9.04h4.82v4.82h-4.82zM31.95 13.63h4.82v4.82h-4.82zM54.86 13.63h4.82v4.82h-4.82zM68.61 13.63h4.82v4.82h-4.82zM238.15 13.63h4.82v4.82h-4.82zM31.95 18.21h4.82v4.82h-4.82zM73.19 18.21h4.82v4.82h-4.82zM77.77 18.21h4.82v4.82h-4.82zM82.36 18.21h4.82v4.82h-4.82zM105.27 18.21h4.82v4.82h-4.82zM224.40 18.21h4.82v4.82h-4.82zM228.98 18.21h4.82v4.82h-4.82zM31.95 22.79h4.82v4.82h-4.82zM45.70 22.79h4.82v4.82h-4.82zM54.86 22.79h4.82v4.82h-4.82zM91.52 22.79h4.82v4.82h-4.82zM100.69 22.79h4.82v4.82h-4.82zM224.40 22.79h4.82v4.82h-4.82zM228.98 22.79h4.82v4.82h-4.82zM41.12 27.37h4.82v4.82h-4.82zM68.61 27.37h4.82v4.82h-4.82zM73.19 27.37h4.82v4.82h-4.82zM86.94 27.37h4.82v4.82h-4.82zM91.52 27.37h4.82v4.82h-4.82zM96.10 27.37h4.82v4.82h-4.82zM45.70 31.95h4.82v4.82h-4.82zM50.28 31.95h4.82v4.82h-4.82zM54.86 36.54h4.82v4.82h-4.82zM59.45 36.54h4.82v4.82h-4.82zM68.61 36.54h4.82v4.82h-4.82zM100.69 36.54h4.82v4.82h-4.82zM54.86 41.12h4.82v4.82h-4.82zM68.61 41.12h4.82v4.82h-4.82zM146.51 41.12h4.82v4.82h-4.82zM64.03 45.70h4.82v4.82h-4.82zM68.61 45.70h4.82v4.82h-4.82zM73.19 45.70h4.82v4.82h-4.82zM77.77 45.70h4.82v4.82h-4.82zM59.45 50.28h4.82v4.82h-4.82zM82.36 50.28h4.82v4.82h-4.82zM100.69 50.28h4.82v4.82h-4.82zM64.03 54.86h4.82v4.82h-4.82zM96.10 54.86h4.82v4.82h-4.82zM119.01 54.86h4.82v4.82h-4.82zM123.60 54.86h4.82v4.82h-4.82zM77.77 59.45h4.82v4.82h-4.82zM91.52 59.45h4.82v4.82h-4.82zM73.19 64.03h4.82v4.82h-4.82zM82.36 64.03h4.82v4.82h-4.82zM91.52 64.03h4.82v4.82h-4.82zM96.10 64.03h4.82v4.82h-4.82zM151.09 64.03h4.82v4.82h-4.82zM82.36 68.61h4.82v4.82h-4.82zM100.69 68.61h4.82v4.82h-4.82zM119.01 68.61h4.82v4.82h-4.82zM128.18 68.61h4.82v4.82h-4.82zM146.51 68.61h4.82v4.82h-4.82zM91.52 73.19h4.82v4.82h-4.82zM109.85 73.19h4.82v4.82h-4.82zM151.09 73.19h4.82v4.82h-4.82zM109.85 77.77h4.82v4.82h-4.82zM119.01 77.77h4.82v4.82h-4.82zM128.18 77.77h4.82v4.82h-4.82zM160.25 77.77h4.82v4.82h-4.82zM119.01 82.36h4.82v4.82h-4.82zM128.18 82.36h4.82v4.82h-4.82zM141.92 82.36h4.82v4.82h-4.82zM146.51 82.36h4.82v4.82h-4.82zM96.10 86.94h4.82v4.82h-4.82zM105.27 86.94h4.82v4.82h-4.82zM128.18 86.94h4.82v4.82h-4.82zM141.92 96.10h4.82v4.82h-4.82zM146.51 96.10h4.82v4.82h-4.82zM151.09 96.10h4.82v4.82h-4.82zM160.25 96.10h4.82v4.82h-4.82zM164.83 96.10h4.82v4.82h-4.82zM128.18 100.69h4.82v4.82h-4.82zM132.76 100.69h4.82v4.82h-4.82zM109.85 105.27h4.82v4.82h-4.82zM119.01 105.27h4.82v4.82h-4.82zM123.60 105.27h4.82v4.82h-4.82zM146.51 105.27h4.82v4.82h-4.82zM123.60 109.85h4.82v4.82h-4.82zM155.67 109.85h4.82v4.82h-4.82zM164.83 109.85h4.82v4.82h-4.82zM132.76 114.43h4.82v4.82h-4.82zM155.67 114.43h4.82v4.82h-4.82zM160.25 114.43h4.82v4.82h-4.82zM123.60 119.01h4.82v4.82h-4.82zM132.76 119.01h4.82v4.82h-4.82zM132.76 123.60h4.82v4.82h-4.82zM137.34 123.60h4.82v4.82h-4.82zM141.92 123.60h4.82v4.82h-4.82zM155.67 137.34h4.82v4.82h-4.82zM164.83 146.51h4.82v4.82h-4.82zM164.83 151.09h4.82v4.82h-4.82zM183.16 169.42h4.82v4.82h-4.82zM201.49 169.42h4.82v4.82h-4.82zM210.65 169.42h4.82v4.82h-4.82zM215.24 169.42h4.82v4.82h-4.82zM233.56 174.00h4.82v4.82h-4.82zM219.82 178.58h4.82v4.82h-4.82zM233.56 178.58h4.82v4.82h-4.82zM219.82 183.16h4.82v4.82h-4.82zM233.56 183.16h4.82v4.82h-4.82zM219.82 187.74h4.82v4.82h-4.82zM233.56 206.07h4.82v4.82h-4.82zM219.82 210.65h4.82v4.82h-4.82zM233.56 210.65h4.82v4.82h-4.82zM242.73 219.82h4.82v4.82h-4.82zM238.15 233.56h4.82v4.82h-4.82zM242.73 238.15h4.82v4.82h-4.82z" fill="#fff9b6"/>
<path d="M27.37 -0.12h4.82v4.82h-4.82zM27.37 18.21h4.82v4.82h-4.82zM27.37 22.79h4.82v4.82h-4.82zM77.77 64.03h4.82v4.82h-4.82zM82.36 73.19h4.82v4.82h-4.82zM132.76 128.18h4.82v4.82h-4.82zM187.74 174.00h4.82v4.82h-4.82zM196.91 174.00h4.82v4.82h-4.82zM196.91 178.58h4.82v4.82h-4.82zM196.91 183.16h4.82v4.82h-4.82zM210.65 187.74h4.82v4.82h-4.82zM206.07 192.33h4.82v4.82h-4.82zM210.65 196.91h4.82v4.82h-4.82zM215.24 201.49h4.82v4.82h-4.82z" fill="#fdbf7a"/>
<path d="M41.12 -0.12h4.82v4.82h-4.82zM27.37 9.04h4.82v4.82h-4.82zM31.95 9.04h4.82v4.82h-4.82zM27.37 13.63h4.82v4.82h-4.82zM242.73 13.63h4.82v4.82h-4.82zM36.54 18.21h4.82v4.82h-4.82zM50.28 27.37h4.82v4.82h-4.82zM54.86 27.37h4.82v4.82h-4.82zM100.69 27.37h4.82v4.82h-4.82zM41.12 31.95h4.82v4.82h-4.82zM77.77 41.12h4.82v4.82h-4.82zM82.36 77.77h4.82v4.82h-4.82zM100.69 77.77h4.82v4.82h-4.82zM132.76 77.77h4.82v4.82h-4.82zM146.51 77.77h4.82v4.82h-4.82zM86.94 82.36h4.82v4.82h-4.82zM91.52 86.94h4.82v4.82h-4.82zM119.01 91.52h4.82v4.82h-4.82zM146.51 91.52h4.82v4.82h-4.82zM132.76 109.85h4.82v4.82h-4.82zM137.34 109.85h4.82v4.82h-4.82zM128.18 123.60h4.82v4.82h-4.82zM151.09 128.18h4.82v4.82h-4.82zM155.67 132.76h4.82v4.82h-4.82zM151.09 137.34h4.82v4.82h-4.82zM151.09 141.92h4.82v4.82h-4.82zM151.09 146.51h4.82v4.82h-4.82zM215.24 174.00h4.82v4.82h-4.82zM206.07 178.58h4.82v4.82h-4.82zM210.65 178.58h4.82v4.82h-4.82zM215.24 178.58h4.82v4.82h-4.82zM215.24 183.16h4.82v4.82h-4.82zM233.56 219.82h4.82v4.82h-4.82zM238.15 224.40h4.82v4.82h-4.82z" fill="#fee699"/>
<path d="M54.86 -0.12h4.82v4.82h-4.82zM109.85 -0.12h4.82v4.82h-4.82zM128.18 -0.12h4.82v4.82h-4.82zM224.40 -0.12h4.82v4.82h-4.82zM238.15 -0.12h4.82v4.82h-4.82zM18.21 4.46h4.82v4.82h-4.82zM45.70 4.46h4.82v4.82h-4.82zM68.61 4.46h4.82v4.82h-4.82zM146.51 4.46h4.82v4.82h-4.82zM228.98 4.46h4.82v4.82h-4.82zM54.86 9.04h4.82v4.82h-4.82zM64.03 9.04h4.82v4.82h-4.82zM146.51 9.04h4.82v4.82h-4.82zM242.73 9.04h4.82v4.82h-4.82zM59.45 13.63h4.82v4.82h-4.82zM77.77 13.63h4.82v4.82h-4.82zM119.01 13.63h4.82v4.82h-4.82zM233.56 13.63h4.82v4.82h-4.82zM41.12 18.21h4.82v4.82h-4.82zM100.69 18.21h4.82v4.82h-4.82zM141.92 18.21h4.82v4.82h-4.82zM146.51 18.21h4.82v4.82h-4.82zM59.45 22.79h4.82v4.82h-4.82zM64.03 22.79h4.82v4.82h-4.82zM68.61 22.79h4.82v4.82h-4.82zM105.27 22.79h4.82v4.82h-4.82zM114.43 22.79h4.82v4.82h-4.82zM137.34 22.79h4.82v4.82h-4.82zM59.45 27.37h4.82v4.82h-4.82zM128.18 27.37h4.82v4.82h-4.82zM151.09 27.37h4.82v4.82h-4.82zM59.45 31.95h4.82v4.82h-4.82zM68.61 31.95h4.82v4.82h-4.82zM91.52 31.95h4.82v4.82h-4.82zM119.01 31.95h4.82v4.82h-4.82zM119.01 36.54h4.82v4.82h-4.82zM146.51 36.54h4.82v4.82h-4.82zM50.28 41.12h4.82v4.82h-4.82zM64.03 41.12h4.82v4.82h-4.82zM119.01 41.12h4.82v4.82h-4.82zM96.10 50.28h4.82v4.82h-4.82zM119.01 50.28h4.82v4.82h-4.82zM82.36 54.86h4.82v4.82h-4.82zM91.52 54.86h4.82v4.82h-4.82zM100.69 54.86h4.82v4.82h-4.82zM109.85 54.86h4.82v4.82h-4.82zM128.18 54.86h4.82v4.82h-4.82zM141.92 54.86h4.82v4.82h-4.82zM146.51 54.86h4.82v4.82h-4.82zM155.67 54.86h4.82v4.82h-4.82zM82.36 59.45h4.82v4.82h-4.82zM109.85 59.45h4.82v4.82h-4.82zM123.60 64.03h4.82v4.82h-4.82zM141.92 64.03h4.82v4.82h-4.82zM164.83 64.03h4.82v4.82h-4.82zM91.52 68.61h4.82v4.82h-4.82zM132.76 68.61h4.82v4.82h-4.82zM141.92 73.19h4.82v4.82h-4.82zM105.27 77.77h4.82v4.82h-4.82zM137.34 77.77h4.82v4.82h-4.82zM141.92 77.77h4.82v4.82h-4.82zM164.83 77.77h4.82v4.82h-4.82zM137.34 82.36h4.82v4.82h-4.82zM164.83 82.36h4.82v4.82h-4.82zM119.01 86.94h4.82v4.82h-4.82zM123.60 86.94h4.82v4.82h-4.82zM141.92 86.94h4.82v4.82h-4.82zM164.83 86.94h4.82v4.82h-4.82zM109.85 91.52h4.82v4.82h-4.82zM137.34 100.69h4.82v4.82h-4.82zM128.18 105.27h4.82v4.82h-4.82zM137.34 105.27h4.82v4.82h-4.82zM141.92 109.85h4.82v4.82h-4.82zM160.25 109.85h4.82v4.82h-4.82zM123.60 114.43h4.82v4.82h-4.82zM141.92 114.43h4.82v4.82h-4.82zM128.18 119.01h4.82v4.82h-4.82zM141.92 119.01h4.82v4.82h-4.82zM146.51 123.60h4.82v4.82h-4.82zM228.98 160.25h4.82v4.82h-4.82zM242.73 160.25h4.82v4.82h-4.82zM228.98 164.83h4.82v4.82h-4.82zM242.73 164.83h4.82v4.82h-4.82zM206.07 169.42h4.82v4.82h-4.82zM224.40 169.42h4.82v4.82h-4.82zM219.82 192.33h4.82v4.82h-4.82zM219.82 201.49h4.82v4.82h-4.82zM238.15 206.07h4.82v4.82h-4.82zM242.73 206.07h4.82v4.82h-4.82zM242.73 210.65h4.82v4.82h-4.82zM238.15 215.24h4.82v4.82h-4.82zM228.98 224.40h4.82v4.82h-4.82zM233.56 224.40h4.82v4.82h-4.82z" fill="#ffffbf"/>
<path d="M59.45 -0.12h4.82v4.82h-4.82zM68.61 -0.12h4.82v4.82h-4.82zM105.27 -0.12h4.82v4.82h-4.82zM123.60 -0.12h4.82v4.82h-4.82zM228.98 -0.12h4.82v4.82h-4.82zM50.28 4.46h4.82v4.82h-4.82zM64.03 4.46h4.82v4.82h-4.82zM100.69 4.46h4.82v4.82h-4.82zM128.18 4.46h4.82v4.82h-4.82zM224.40 4.46h4.82v4.82h-4.82zM96.10 9.04h4.82v4.82h-4.82zM105.27 9.04h4.82v4.82h-4.82zM128.18 9.04h4.82v4.82h-4.82zM41.12 13.63h4.82v4.82h-4.82zM82.36 13.63h4.82v4.82h-4.82zM96.10 13.63h4.82v4.82h-4.82zM155.67 13.63h4.82v4.82h-4.82zM68.61 18.21h4.82v4.82h-4.82zM86.94 18.21h4.82v4.82h-4.82zM114.43 18.21h4.82v4.82h-4.82zM164.83 18.21h4.82v4.82h-4.82zM86.94 22.79h4.82v4.82h-4.82zM96.10 22.79h4.82v4.82h-4.82zM119.01 22.79h4.82v4.82h-4.82zM132.76 22.79h4.82v4.82h-4.82zM141.92 22.79h4.82v4.82h-4.82zM82.36 27.37h4.82v4.82h-4.82zM54.86 31.95h4.82v4.82h-4.82zM105.27 31.95h4.82v4.82h-4.82zM146.51 31.95h4.82v4.82h-4.82zM91.52 36.54h4.82v4.82h-4.82zM105.27 36.54h4.82v4.82h-4.82zM114.43 36.54h4.82v4.82h-4.82zM132.76 36.54h4.82v4.82h-4.82zM164.83 36.54h4.82v4.82h-4.82zM59.45 41.12h4.82v4.82h-4.82zM137.34 41.12h4.82v4.82h-4.82zM54.86 45.70h4.82v4.82h-4.82zM91.52 45.70h4.82v4.82h-4.82zM105.27 45.70h4.82v4.82h-4.82zM137.34 45.70h4.82v4.82h-4.82zM146.51 45.70h4.82v4.82h-4.82zM151.09 45.70h4.82v4.82h-4.82zM86.94 50.28h4.82v4.82h-4.82zM114.43 50.28h4.82v4.82h-4.82zM123.60 50.28h4.82v4.82h-4.82zM137.34 50.28h4.82v4.82h-4.82zM146.51 50.28h4.82v4.82h-4.82zM151.09 50.28h4.82v4.82h-4.82zM160.25 50.28h4.82v4.82h-4.82zM164.83 50.28h4.82v4.82h-4.82zM86.94 54.86h4.82v4.82h-4.82zM105.27 54.86h4.82v4.82h-4.82zM86.94 59.45h4.82v4.82h-4.82zM123.60 59.45h4.82v4.82h-4.82zM132.76 59.45h4.82v4.82h-4.82zM137.34 59.45h4.82v4.82h-4.82zM160.25 59.45h4.82v4.82h-4.82zM137.34 64.03h4.82v4.82h-4.82zM105.27 68.61h4.82v4.82h-4.82zM109.85 68.61h4.82v4.82h-4.82zM123.60 68.61h4.82v4.82h-4.82zM86.94 73.19h4.82v4.82h-4.82zM164.83 73.19h4.82v4.82h-4.82zM123.60 82.36h4.82v4.82h-4.82zM155.67 82.36h4.82v4.82h-4.82zM114.43 86.94h4.82v4.82h-4.82zM132.76 86.94h4.82v4.82h-4.82zM242.73 91.52h4.82v4.82h-4.82zM155.67 96.10h4.82v4.82h-4.82zM164.83 100.69h4.82v4.82h-4.82zM155.67 105.27h4.82v4.82h-4.82zM160.25 105.27h4.82v4.82h-4.82zM164.83 105.27h4.82v4.82h-4.82zM160.25 123.60h4.82v4.82h-4.82zM228.98 132.76h4.82v4.82h-4.82zM242.73 137.34h4.82v4.82h-4.82zM160.25 141.92h4.82v4.82h-4.82zM224.40 160.25h4.82v4.82h-4.82zM233.56 160.25h4.82v4.82h-4.82zM238.15 160.25h4.82v4.82h-4.82zM178.58 164.83h4.82v4.82h-4.82zM219.82 164.83h4.82v4.82h-4.82zM238.15 164.83h4.82v4.82h-4.82zM219.82 169.42h4.82v4.82h-4.82zM228.98 169.42h4.82v4.82h-4.82zM228.98 174.00h4.82v4.82h-4.82zM238.15 174.00h4.82v4.82h-4.82zM228.98 178.58h4.82v4.82h-4.82zM228.98 187.74h4.82v4.82h-4.82zM224.40 192.33h4.82v4.82h-4.82zM242.73 192.33h4.82v4.82h-4.82zM224.40 196.91h4.82v4.82h-4.82zM242.73 196.91h4.82v4.82h-4.82zM219.82 206.07h4.82v4.82h-4.82zM228.98 210.65h4.82v4.82h-4.82zM219.82 215.24h4.82v4.82h-4.82zM224.40 215.24h4.82v4.82h-4.82zM228.98 215.24h4.82v4.82h-4.82zM242.73 215.24h4.82v4.82h-4.82zM233.56 228.98h4.82v4.82h-4.82zM238.15 228.98h4.82v4.82h-4.82z" fill="#f3fad6"/>
<path d="M86.94 -0.12h4.82v4.82h-4.82zM100.69 -0.12h4.82v4.82h-4.82zM119.01 -0.12h4.82v4.82h-4.82zM132.76 -0.12h4.82v4.82h-4.82zM160.25 -0.12h4.82v4.82h-4.82zM233.56 -0.12h4.82v4.82h-4.82zM242.73 -0.12h4.82v4.82h-4.82zM54.86 4.46h4.82v4.82h-4.82zM59.45 4.46h4.82v4.82h-4.82zM73.19 4.46h4.82v4.82h-4.82zM77.77 4.46h4.82v4.82h-4.82zM82.36 4.46h4.82v4.82h-4.82zM238.15 4.46h4.82v4.82h-4.82zM41.12 9.04h4.82v4.82h-4.82zM82.36 9.04h4.82v4.82h-4.82zM100.69 9.04h4.82v4.82h-4.82zM36.54 13.63h4.82v4.82h-4.82zM64.03 13.63h4.82v4.82h-4.82zM73.19 13.63h4.82v4.82h-4.82zM100.69 13.63h4.82v4.82h-4.82zM54.86 18.21h4.82v4.82h-4.82zM119.01 18.21h4.82v4.82h-4.82zM128.18 18.21h4.82v4.82h-4.82zM132.76 18.21h4.82v4.82h-4.82zM82.36 22.79h4.82v4.82h-4.82zM109.85 22.79h4.82v4.82h-4.82zM123.60 22.79h4.82v4.82h-4.82zM146.51 22.79h4.82v4.82h-4.82zM105.27 27.37h4.82v4.82h-4.82zM109.85 27.37h4.82v4.82h-4.82zM114.43 27.37h4.82v4.82h-4.82zM64.03 31.95h4.82v4.82h-4.82zM100.69 31.95h4.82v4.82h-4.82zM114.43 31.95h4.82v4.82h-4.82zM132.76 31.95h4.82v4.82h-4.82zM50.28 36.54h4.82v4.82h-4.82zM82.36 36.54h4.82v4.82h-4.82zM109.85 36.54h4.82v4.82h-4.82zM123.60 36.54h4.82v4.82h-4.82zM151.09 36.54h4.82v4.82h-4.82zM82.36 45.70h4.82v4.82h-4.82zM100.69 45.70h4.82v4.82h-4.82zM128.18 45.70h4.82v4.82h-4.82zM132.76 45.70h4.82v4.82h-4.82zM105.27 50.28h4.82v4.82h-4.82zM128.18 50.28h4.82v4.82h-4.82zM68.61 54.86h4.82v4.82h-4.82zM114.43 54.86h4.82v4.82h-4.82zM132.76 54.86h4.82v4.82h-4.82zM137.34 54.86h4.82v4.82h-4.82zM68.61 59.45h4.82v4.82h-4.82zM73.19 59.45h4.82v4.82h-4.82zM86.94 64.03h4.82v4.82h-4.82zM100.69 64.03h4.82v4.82h-4.82zM105.27 64.03h4.82v4.82h-4.82zM114.43 64.03h4.82v4.82h-4.82zM128.18 64.03h4.82v4.82h-4.82zM132.76 64.03h4.82v4.82h-4.82zM146.51 64.03h4.82v4.82h-4.82zM86.94 68.61h4.82v4.82h-4.82zM96.10 73.19h4.82v4.82h-4.82zM114.43 73.19h4.82v4.82h-4.82zM119.01 73.19h4.82v4.82h-4.82zM137.34 73.19h4.82v4.82h-4.82zM114.43 77.77h4.82v4.82h-4.82zM151.09 77.77h4.82v4.82h-4.82zM160.25 82.36h4.82v4.82h-4.82zM137.34 86.94h4.82v4.82h-4.82zM160.25 86.94h4.82v4.82h-4.82zM137.34 96.10h4.82v4.82h-4.82zM109.85 100.69h4.82v4.82h-4.82zM114.43 100.69h4.82v4.82h-4.82zM123.60 100.69h4.82v4.82h-4.82zM141.92 100.69h4.82v4.82h-4.82zM146.51 100.69h4.82v4.82h-4.82zM151.09 100.69h4.82v4.82h-4.82zM160.25 100.69h4.82v4.82h-4.82zM114.43 105.27h4.82v4.82h-4.82zM137.34 114.43h4.82v4.82h-4.82zM151.09 114.43h4.82v4.82h-4.82zM164.83 114.43h4.82v4.82h-4.82zM137.34 119.01h4.82v4.82h-4.82zM151.09 119.01h4.82v4.82h-4.82zM151.09 123.60h4.82v4.82h-4.82zM155.67 123.60h4.82v4.82h-4.82zM164.83 123.60h4.82v4.82h-4.82zM160.25 128.18h4.82v4.82h-4.82zM164.83 128.18h4.82v4.82h-4.82zM242.73 132.76h4.82v4.82h-4.82zM160.25 137.34h4.82v4.82h-4.82zM160.25 146.51h4.82v4.82h-4.82zM233.56 164.83h4.82v4.82h-4.82zM178.58 169.42h4.82v4.82h-4.82zM187.74 169.42h4.82v4.82h-4.82zM192.33 169.42h4.82v4.82h-4.82zM219.82 174.00h4.82v4.82h-4.82zM224.40 174.00h4.82v4.82h-4.82zM224.40 178.58h4.82v4.82h-4.82zM242.73 178.58h4.82v4.82h-4.82zM224.40 183.16h4.82v4.82h-4.82zM233.56 187.74h4.82v4.82h-4.82zM233.56 192.33h4.82v4.82h-4.82zM238.15 192.33h4.82v4.82h-4.82zM219.82 196.91h4.82v4.82h-4.82zM228.98 196.91h4.82v4.82h-4.82zM233.56 196.91h4.82v4.82h-4.82zM238.15 196.91h4.82v4.82h-4.82zM224.40 201.49h4.82v4.82h-4.82zM233.56 201.49h4.82v4.82h-4.82zM238.15 201.49h4.82v4.82h-4.82zM224.40 206.07h4.82v4.82h-4.82zM228.98 206.07h4.82v4.82h-4.82zM238.15 210.65h4.82v4.82h-4.82zM233.56 215.24h4.82v4.82h-4.82z" fill="#f9fdca"/>
<path d="M96.10 -0.12h4.82v4.82h-4.82zM141.92 -0.12h4.82v4.82h-4.82zM146.51 -0.12h4.82v4.82h-4.82zM86.94 4.46h4.82v4.82h-4.82zM119.01 4.46h4.82v4.82h-4.82zM123.60 4.46h4.82v4.82h-4.82zM132.76 4.46h4.82v4.82h-4.82zM137.34 4.46h4.82v4.82h-4.82zM59.45 9.04h4.82v4.82h-4.82zM86.94 9.04h4.82v4.82h-4.82zM109.85 9.04h4.82v4.82h-4.82zM119.01 9.04h4.82v4.82h-4.82zM137.34 9.04h4.82v4.82h-4.82zM141.92 9.04h4.82v4.82h-4.82zM151.09 9.04h4.82v4.82h-4.82zM109.85 13.63h4.82v4.82h-4.82zM123.60 13.63h4.82v4.82h-4.82zM128.18 13.63h4.82v4.82h-4.82zM137.34 13.63h4.82v4.82h-4.82zM151.09 13.63h4.82v4.82h-4.82zM160.25 13.63h4.82v4.82h-4.82zM164.83 13.63h4.82v4.82h-4.82zM137.34 18.21h4.82v4.82h-4.82zM151.09 22.79h4.82v4.82h-4.82zM123.60 27.37h4.82v4.82h-4.82zM155.67 27.37h4.82v4.82h-4.82zM169.42 27.37h4.82v4.82h-4.82zM73.19 31.95h4.82v4.82h-4.82zM86.94 31.95h4.82v4.82h-4.82zM96.10 31.95h4.82v4.82h-4.82zM86.94 36.54h4.82v4.82h-4.82zM96.10 36.54h4.82v4.82h-4.82zM155.67 36.54h4.82v4.82h-4.82zM238.15 36.54h4.82v4.82h-4.82zM86.94 41.12h4.82v4.82h-4.82zM91.52 41.12h4.82v4.82h-4.82zM132.76 41.12h4.82v4.82h-4.82zM141.92 41.12h4.82v4.82h-4.82zM160.25 41.12h4.82v4.82h-4.82zM109.85 45.70h4.82v4.82h-4.82zM164.83 45.70h4.82v4.82h-4.82zM141.92 50.28h4.82v4.82h-4.82zM242.73 54.86h4.82v4.82h-4.82zM128.18 59.45h4.82v4.82h-4.82zM151.09 59.45h4.82v4.82h-4.82zM164.83 59.45h4.82v4.82h-4.82zM242.73 64.03h4.82v4.82h-4.82zM114.43 68.61h4.82v4.82h-4.82zM137.34 68.61h4.82v4.82h-4.82zM141.92 68.61h4.82v4.82h-4.82zM155.67 68.61h4.82v4.82h-4.82zM123.60 73.19h4.82v4.82h-4.82zM155.67 73.19h4.82v4.82h-4.82zM242.73 73.19h4.82v4.82h-4.82zM219.82 91.52h4.82v4.82h-4.82zM224.40 91.52h4.82v4.82h-4.82zM233.56 91.52h4.82v4.82h-4.82zM242.73 96.10h4.82v4.82h-4.82zM151.09 105.27h4.82v4.82h-4.82zM242.73 109.85h4.82v4.82h-4.82zM242.73 128.18h4.82v4.82h-4.82zM233.56 132.76h4.82v4.82h-4.82zM238.15 146.51h4.82v4.82h-4.82zM242.73 146.51h4.82v4.82h-4.82zM219.82 151.09h4.82v4.82h-4.82zM233.56 151.09h4.82v4.82h-4.82zM178.58 160.25h4.82v4.82h-4.82zM196.91 160.25h4.82v4.82h-4.82zM196.91 164.83h4.82v4.82h-4.82zM210.65 164.83h4.82v4.82h-4.82zM242.73 174.00h4.82v4.82h-4.82zM242.73 183.16h4.82v4.82h-4.82zM238.15 187.74h4.82v4.82h-4.82zM228.98 201.49h4.82v4.82h-4.82zM228.98 219.82h4.82v4.82h-4.82z" fill="#e6f5ed"/>
<path d="M114.43 -0.12h4.82v4.82h-4.82zM155.67 -0.12h4.82v4.82h-4.82zM164.83 -0.12h4.82v4.82h-4.82zM169.42 -0.12h4.82v4.82h-4.82zM215.24 -0.12h4.82v4.82h-4.82zM219.82 -0.12h4.82v4.82h-4.82zM91.52 4.46h4.82v4.82h-4.82zM105.27 4.46h4.82v4.82h-4.82zM141.92 4.46h4.82v4.82h-4.82zM155.67 4.46h4.82v4.82h-4.82zM169.42 4.46h4.82v4.82h-4.82zM114.43 9.04h4.82v4.82h-4.82zM123.60 9.04h4.82v4.82h-4.82zM210.65 9.04h4.82v4.82h-4.82zM215.24 9.04h4.82v4.82h-4.82zM91.52 13.63h4.82v4.82h-4.82zM219.82 13.63h4.82v4.82h-4.82zM155.67 18.21h4.82v4.82h-4.82zM160.25 18.21h4.82v4.82h-4.82zM169.42 18.21h4.82v4.82h-4.82zM219.82 18.21h4.82v4.82h-4.82zM160.25 22.79h4.82v4.82h-4.82zM164.83 22.79h4.82v4.82h-4.82zM215.24 22.79h4.82v4.82h-4.82zM141.92 27.37h4.82v4.82h-4.82zM164.83 27.37h4.82v4.82h-4.82zM109.85 31.95h4.82v4.82h-4.82zM128.18 31.95h4.82v4.82h-4.82zM137.34 31.95h4.82v4.82h-4.82zM141.92 31.95h4.82v4.82h-4.82zM155.67 31.95h4.82v4.82h-4.82zM160.25 31.95h4.82v4.82h-4.82zM169.42 31.95h4.82v4.82h-4.82zM242.73 31.95h4.82v4.82h-4.82zM160.25 36.54h4.82v4.82h-4.82zM228.98 36.54h4.82v4.82h-4.82zM123.60 41.12h4.82v4.82h-4.82zM155.67 41.12h4.82v4.82h-4.82zM224.40 41.12h4.82v4.82h-4.82zM169.42 45.70h4.82v4.82h-4.82zM242.73 45.70h4.82v4.82h-4.82zM210.65 54.86h4.82v4.82h-4.82zM141.92 59.45h4.82v4.82h-4.82zM224.40 59.45h4.82v4.82h-4.82zM228.98 59.45h4.82v4.82h-4.82zM242.73 59.45h4.82v4.82h-4.82zM155.67 64.03h4.82v4.82h-4.82zM238.15 64.03h4.82v4.82h-4.82zM242.73 68.61h4.82v4.82h-4.82zM169.42 82.36h4.82v4.82h-4.82zM228.98 82.36h4.82v4.82h-4.82zM242.73 86.94h4.82v4.82h-4.82zM169.42 91.52h4.82v4.82h-4.82zM174.00 91.52h4.82v4.82h-4.82zM178.58 91.52h4.82v4.82h-4.82zM215.24 91.52h4.82v4.82h-4.82zM233.56 96.10h4.82v4.82h-4.82zM238.15 96.10h4.82v4.82h-4.82zM238.15 100.69h4.82v4.82h-4.82zM242.73 100.69h4.82v4.82h-4.82zM238.15 105.27h4.82v4.82h-4.82zM224.40 114.43h4.82v4.82h-4.82zM228.98 114.43h4.82v4.82h-4.82zM242.73 123.60h4.82v4.82h-4.82zM224.40 128.18h4.82v4.82h-4.82zM233.56 128.18h4.82v4.82h-4.82zM169.42 132.76h4.82v4.82h-4.82zM174.00 132.76h4.82v4.82h-4.82zM224.40 132.76h4.82v4.82h-4.82zM169.42 137.34h4.82v4.82h-4.82zM224.40 137.34h4.82v4.82h-4.82zM238.15 137.34h4.82v4.82h-4.82zM174.00 146.51h4.82v4.82h-4.82zM224.40 146.51h4.82v4.82h-4.82zM228.98 146.51h4.82v4.82h-4.82zM169.42 151.09h4.82v4.82h-4.82zM228.98 151.09h4.82v4.82h-4.82zM242.73 151.09h4.82v4.82h-4.82zM169.42 155.67h4.82v4.82h-4.82zM169.42 160.25h4.82v4.82h-4.82zM187.74 160.25h4.82v4.82h-4.82zM206.07 160.25h4.82v4.82h-4.82zM210.65 160.25h4.82v4.82h-4.82zM169.42 164.83h4.82v4.82h-4.82zM192.33 164.83h4.82v4.82h-4.82zM201.49 164.83h4.82v4.82h-4.82zM215.24 164.83h4.82v4.82h-4.82z" fill="#e0f3f8"/>
<path d="M137.34 -0.12h4.82v4.82h-4.82zM151.09 -0.12h4.82v4.82h-4.82zM96.10 4.46h4.82v4.82h-4.82zM109.85 4.46h4.82v4.82h-4.82zM114.43 4.46h4.82v4.82h-4.82zM219.82 4.46h4.82v4.82h-4.82zM233.56 4.46h4.82v4.82h-4.82zM91.52 9.04h4.82v4.82h-4.82zM155.67 9.04h4.82v4.82h-4.82zM86.94 13.63h4.82v4.82h-4.82zM105.27 13.63h4.82v4.82h-4.82zM114.43 13.63h4.82v4.82h-4.82zM132.76 13.63h4.82v4.82h-4.82zM146.51 13.63h4.82v4.82h-4.82zM96.10 18.21h4.82v4.82h-4.82zM109.85 18.21h4.82v4.82h-4.82zM123.60 18.21h4.82v4.82h-4.82zM151.09 18.21h4.82v4.82h-4.82zM128.18 22.79h4.82v4.82h-4.82zM155.67 22.79h4.82v4.82h-4.82zM132.76 27.37h4.82v4.82h-4.82zM146.51 27.37h4.82v4.82h-4.82zM160.25 27.37h4.82v4.82h-4.82zM82.36 31.95h4.82v4.82h-4.82zM151.09 31.95h4.82v4.82h-4.82zM128.18 36.54h4.82v4.82h-4.82zM137.34 36.54h4.82v4.82h-4.82zM242.73 36.54h4.82v4.82h-4.82zM73.19 41.12h4.82v4.82h-4.82zM96.10 41.12h4.82v4.82h-4.82zM100.69 41.12h4.82v4.82h-4.82zM105.27 41.12h4.82v4.82h-4.82zM114.43 41.12h4.82v4.82h-4.82zM128.18 41.12h4.82v4.82h-4.82zM151.09 41.12h4.82v4.82h-4.82zM59.45 45.70h4.82v4.82h-4.82zM86.94 45.70h4.82v4.82h-4.82zM96.10 45.70h4.82v4.82h-4.82zM114.43 45.70h4.82v4.82h-4.82zM119.01 45.70h4.82v4.82h-4.82zM123.60 45.70h4.82v4.82h-4.82zM155.67 45.70h4.82v4.82h-4.82zM109.85 50.28h4.82v4.82h-4.82zM132.76 50.28h4.82v4.82h-4.82zM242.73 50.28h4.82v4.82h-4.82zM151.09 54.86h4.82v4.82h-4.82zM160.25 54.86h4.82v4.82h-4.82zM164.83 54.86h4.82v4.82h-4.82zM228.98 54.86h4.82v4.82h-4.82zM96.10 59.45h4.82v4.82h-4.82zM100.69 59.45h4.82v4.82h-4.82zM105.27 59.45h4.82v4.82h-4.82zM114.43 59.45h4.82v4.82h-4.82zM155.67 59.45h4.82v4.82h-4.82zM109.85 64.03h4.82v4.82h-4.82zM160.25 64.03h4.82v4.82h-4.82zM96.10 68.61h4.82v4.82h-4.82zM151.09 68.61h4.82v4.82h-4.82zM160.25 68.61h4.82v4.82h-4.82zM164.83 68.61h4.82v4.82h-4.82zM160.25 73.19h4.82v4.82h-4.82zM155.67 77.77h4.82v4.82h-4.82zM114.43 82.36h4.82v4.82h-4.82zM242.73 82.36h4.82v4.82h-4.82zM109.85 86.94h4.82v4.82h-4.82zM155.67 86.94h4.82v4.82h-4.82zM228.98 91.52h4.82v4.82h-4.82zM238.15 91.52h4.82v4.82h-4.82zM155.67 100.69h4.82v4.82h-4.82zM141.92 105.27h4.82v4.82h-4.82zM242.73 114.43h4.82v4.82h-4.82zM160.25 119.01h4.82v4.82h-4.82zM164.83 119.01h4.82v4.82h-4.82zM238.15 132.76h4.82v4.82h-4.82zM183.16 160.25h4.82v4.82h-4.82zM215.24 160.25h4.82v4.82h-4.82zM219.82 160.25h4.82v4.82h-4.82zM224.40 164.83h4.82v4.82h-4.82zM238.15 169.42h4.82v4.82h-4.82zM242.73 169.42h4.82v4.82h-4.82zM238.15 178.58h4.82v4.82h-4.82zM228.98 183.16h4.82v4.82h-4.82zM238.15 183.16h4.82v4.82h-4.82zM224.40 187.74h4.82v4.82h-4.82zM242.73 187.74h4.82v4.82h-4.82zM228.98 192.33h4.82v4.82h-4.82zM242.73 201.49h4.82v4.82h-4.82zM224.40 210.65h4.82v4.82h-4.82zM242.73 228.98h4.82v4.82h-4.82z" fill="#ecf8e1"/>
<path d="M174.00 -0.12h4.82v4.82h-4.82zM183.16 -0.12h4.82v4.82h-4.82zM187.74 -0.12h4.82v4.82h-4.82zM192.33 -0.12h4.82v4.82h-4.82zM174.00 4.46h4.82v4.82h-4.82zM215.24 4.46h4.82v4.82h-4.82zM183.16 9.04h4.82v4.82h-4.82zM183.16 13.63h4.82v4.82h-4.82zM192.33 18.21h4.82v4.82h-4.82zM206.07 18.21h4.82v4.82h-4.82zM187.74 22.79h4.82v4.82h-4.82zM196.91 27.37h4.82v4.82h-4.82zM201.49 27.37h4.82v4.82h-4.82zM215.24 27.37h4.82v4.82h-4.82zM174.00 31.95h4.82v4.82h-4.82zM178.58 31.95h4.82v4.82h-4.82zM210.65 31.95h4.82v4.82h-4.82zM169.42 36.54h4.82v4.82h-4.82zM187.74 36.54h4.82v4.82h-4.82zM233.56 36.54h4.82v4.82h-4.82zM178.58 41.12h4.82v4.82h-4.82zM210.65 41.12h4.82v4.82h-4.82zM178.58 45.70h4.82v4.82h-4.82zM183.16 45.70h4.82v4.82h-4.82zM219.82 45.70h4.82v4.82h-4.82zM187.74 54.86h4.82v4.82h-4.82zM169.42 59.45h4.82v4.82h-4.82zM174.00 59.45h4.82v4.82h-4.82zM178.58 59.45h4.82v4.82h-4.82zM219.82 59.45h4.82v4.82h-4.82zM233.56 59.45h4.82v4.82h-4.82zM169.42 64.03h4.82v4.82h-4.82zM219.82 64.03h4.82v4.82h-4.82zM174.00 68.61h4.82v4.82h-4.82zM196.91 68.61h4.82v4.82h-4.82zM210.65 68.61h4.82v4.82h-4.82zM219.82 68.61h4.82v4.82h-4.82zM233.56 68.61h4.82v4.82h-4.82zM187.74 73.19h4.82v4.82h-4.82zM210.65 73.19h4.82v4.82h-4.82zM224.40 73.19h4.82v4.82h-4.82zM169.42 77.77h4.82v4.82h-4.82zM210.65 82.36h4.82v4.82h-4.82zM174.00 86.94h4.82v4.82h-4.82zM178.58 86.94h4.82v4.82h-4.82zM192.33 91.52h4.82v4.82h-4.82zM201.49 91.52h4.82v4.82h-4.82zM206.07 91.52h4.82v4.82h-4.82zM174.00 100.69h4.82v4.82h-4.82zM219.82 100.69h4.82v4.82h-4.82zM183.16 105.27h4.82v4.82h-4.82zM219.82 105.27h4.82v4.82h-4.82zM224.40 105.27h4.82v4.82h-4.82zM187.74 109.85h4.82v4.82h-4.82zM210.65 109.85h4.82v4.82h-4.82zM187.74 114.43h4.82v4.82h-4.82zM215.24 114.43h4.82v4.82h-4.82zM169.42 123.60h4.82v4.82h-4.82zM174.00 123.60h4.82v4.82h-4.82zM178.58 128.18h4.82v4.82h-4.82zM183.16 128.18h4.82v4.82h-4.82zM215.24 128.18h4.82v4.82h-4.82zM192.33 132.76h4.82v4.82h-4.82zM196.91 132.76h4.82v4.82h-4.82zM206.07 132.76h4.82v4.82h-4.82zM174.00 137.34h4.82v4.82h-4.82zM210.65 137.34h4.82v4.82h-4.82zM215.24 137.34h4.82v4.82h-4.82zM178.58 141.92h4.82v4.82h-4.82zM215.24 141.92h4.82v4.82h-4.82zM219.82 141.92h4.82v4.82h-4.82zM219.82 146.51h4.82v4.82h-4.82zM206.07 151.09h4.82v4.82h-4.82zM210.65 151.09h4.82v4.82h-4.82zM215.24 151.09h4.82v4.82h-4.82zM174.00 155.67h4.82v4.82h-4.82zM196.91 155.67h4.82v4.82h-4.82zM215.24 155.67h4.82v4.82h-4.82zM219.82 155.67h4.82v4.82h-4.82z" fill="#a1c9e1"/>
<path d="M178.58 -0.12h4.82v4.82h-4.82zM210.65 4.46h4.82v4.82h-4.82zM178.58 9.04h4.82v4.82h-4.82zM196.91 13.63h4.82v4.82h-4.82zM178.58 18.21h4.82v4.82h-4.82zM183.16 18.21h4.82v4.82h-4.82zM183.16 22.79h4.82v4.82h-4.82zM196.91 22.79h4.82v4.82h-4.82zM174.00 27.37h4.82v4.82h-4.82zM219.82 27.37h4.82v4.82h-4.82zM219.82 31.95h4.82v4.82h-4.82zM233.56 31.95h4.82v4.82h-4.82zM178.58 36.54h4.82v4.82h-4.82zM169.42 41.12h4.82v4.82h-4.82zM174.00 41.12h4.82v4.82h-4.82zM242.73 41.12h4.82v4.82h-4.82zM174.00 45.70h4.82v4.82h-4.82zM215.24 45.70h4.82v4.82h-4.82zM224.40 45.70h4.82v4.82h-4.82zM238.15 45.70h4.82v4.82h-4.82zM219.82 50.28h4.82v4.82h-4.82zM233.56 50.28h4.82v4.82h-4.82zM178.58 54.86h4.82v4.82h-4.82zM192.33 54.86h4.82v4.82h-4.82zM196.91 54.86h4.82v4.82h-4.82zM219.82 54.86h4.82v4.82h-4.82zM224.40 64.03h4.82v4.82h-4.82zM233.56 64.03h4.82v4.82h-4.82zM169.42 68.61h4.82v4.82h-4.82zM174.00 73.19h4.82v4.82h-4.82zM219.82 73.19h4.82v4.82h-4.82zM174.00 77.77h4.82v4.82h-4.82zM183.16 77.77h4.82v4.82h-4.82zM224.40 77.77h4.82v4.82h-4.82zM228.98 77.77h4.82v4.82h-4.82zM233.56 77.77h4.82v4.82h-4.82zM174.00 82.36h4.82v4.82h-4.82zM196.91 82.36h4.82v4.82h-4.82zM215.24 82.36h4.82v4.82h-4.82zM219.82 82.36h4.82v4.82h-4.82zM224.40 82.36h4.82v4.82h-4.82zM224.40 86.94h4.82v4.82h-4.82zM233.56 86.94h4.82v4.82h-4.82zM238.15 86.94h4.82v4.82h-4.82zM196.91 91.52h4.82v4.82h-4.82zM174.00 96.10h4.82v4.82h-4.82zM178.58 96.10h4.82v4.82h-4.82zM169.42 100.69h4.82v4.82h-4.82zM169.42 105.27h4.82v4.82h-4.82zM233.56 105.27h4.82v4.82h-4.82zM174.00 109.85h4.82v4.82h-4.82zM178.58 109.85h4.82v4.82h-4.82zM215.24 109.85h4.82v4.82h-4.82zM219.82 109.85h4.82v4.82h-4.82zM174.00 114.43h4.82v4.82h-4.82zM219.82 119.01h4.82v4.82h-4.82zM219.82 123.60h4.82v4.82h-4.82zM187.74 132.76h4.82v4.82h-4.82zM219.82 132.76h4.82v4.82h-4.82zM178.58 137.34h4.82v4.82h-4.82zM174.00 141.92h4.82v4.82h-4.82zM169.42 146.51h4.82v4.82h-4.82zM233.56 146.51h4.82v4.82h-4.82zM174.00 151.09h4.82v4.82h-4.82zM183.16 151.09h4.82v4.82h-4.82zM183.16 155.67h4.82v4.82h-4.82zM233.56 155.67h4.82v4.82h-4.82zM201.49 160.25h4.82v4.82h-4.82zM174.00 164.83h4.82v4.82h-4.82z" fill="#b1d4e7"/>
<path d="M196.91 -0.12h4.82v4.82h-4.82zM206.07 -0.12h4.82v4.82h-4.82zM196.91 9.04h4.82v4.82h-4.82zM178.58 13.63h4.82v4.82h-4.82zM187.74 13.63h4.82v4.82h-4.82zM187.74 18.21h4.82v4.82h-4.82zM196.91 18.21h4.82v4.82h-4.82zM201.49 18.21h4.82v4.82h-4.82zM178.58 22.79h4.82v4.82h-4.82zM201.49 22.79h4.82v4.82h-4.82zM183.16 27.37h4.82v4.82h-4.82zM187.74 27.37h4.82v4.82h-4.82zM192.33 27.37h4.82v4.82h-4.82zM206.07 27.37h4.82v4.82h-4.82zM210.65 27.37h4.82v4.82h-4.82zM206.07 31.95h4.82v4.82h-4.82zM215.24 31.95h4.82v4.82h-4.82zM183.16 36.54h4.82v4.82h-4.82zM192.33 36.54h4.82v4.82h-4.82zM196.91 36.54h4.82v4.82h-4.82zM210.65 36.54h4.82v4.82h-4.82zM183.16 41.12h4.82v4.82h-4.82zM201.49 41.12h4.82v4.82h-4.82zM215.24 41.12h4.82v4.82h-4.82zM219.82 41.12h4.82v4.82h-4.82zM187.74 45.70h4.82v4.82h-4.82zM174.00 50.28h4.82v4.82h-4.82zM178.58 50.28h4.82v4.82h-4.82zM183.16 50.28h4.82v4.82h-4.82zM196.91 50.28h4.82v4.82h-4.82zM215.24 50.28h4.82v4.82h-4.82zM183.16 54.86h4.82v4.82h-4.82zM201.49 54.86h4.82v4.82h-4.82zM215.24 54.86h4.82v4.82h-4.82zM183.16 59.45h4.82v4.82h-4.82zM183.16 64.03h4.82v4.82h-4.82zM210.65 64.03h4.82v4.82h-4.82zM178.58 68.61h4.82v4.82h-4.82zM187.74 68.61h4.82v4.82h-4.82zM215.24 73.19h4.82v4.82h-4.82zM178.58 77.77h4.82v4.82h-4.82zM219.82 77.77h4.82v4.82h-4.82zM183.16 82.36h4.82v4.82h-4.82zM196.91 96.10h4.82v4.82h-4.82zM210.65 96.10h4.82v4.82h-4.82zM215.24 96.10h4.82v4.82h-4.82zM219.82 96.10h4.82v4.82h-4.82zM178.58 100.69h4.82v4.82h-4.82zM183.16 100.69h4.82v4.82h-4.82zM215.24 100.69h4.82v4.82h-4.82zM174.00 105.27h4.82v4.82h-4.82zM187.74 105.27h4.82v4.82h-4.82zM196.91 105.27h4.82v4.82h-4.82zM210.65 105.27h4.82v4.82h-4.82zM206.07 109.85h4.82v4.82h-4.82zM178.58 114.43h4.82v4.82h-4.82zM183.16 114.43h4.82v4.82h-4.82zM174.00 119.01h4.82v4.82h-4.82zM178.58 119.01h4.82v4.82h-4.82zM215.24 119.01h4.82v4.82h-4.82zM174.00 128.18h4.82v4.82h-4.82zM192.33 128.18h4.82v4.82h-4.82zM206.07 128.18h4.82v4.82h-4.82zM210.65 128.18h4.82v4.82h-4.82zM183.16 132.76h4.82v4.82h-4.82zM210.65 132.76h4.82v4.82h-4.82zM183.16 141.92h4.82v4.82h-4.82zM187.74 141.92h4.82v4.82h-4.82zM192.33 141.92h4.82v4.82h-4.82zM178.58 146.51h4.82v4.82h-4.82zM196.91 146.51h4.82v4.82h-4.82zM201.49 146.51h4.82v4.82h-4.82zM210.65 146.51h4.82v4.82h-4.82zM187.74 151.09h4.82v4.82h-4.82zM192.33 151.09h4.82v4.82h-4.82zM196.91 151.09h4.82v4.82h-4.82zM187.74 155.67h4.82v4.82h-4.82zM206.07 155.67h4.82v4.82h-4.82z" fill="#91bfdb"/>
<path d="M201.49 -0.12h4.82v4.82h-4.82zM192.33 4.46h4.82v4.82h-4.82zM196.91 4.46h4.82v4.82h-4.82zM201.49 4.46h4.82v4.82h-4.82zM206.07 4.46h4.82v4.82h-4.82zM192.33 13.63h4.82v4.82h-4.82zM192.33 31.95h4.82v4.82h-4.82zM201.49 36.54h4.82v4.82h-4.82zM192.33 41.12h4.82v4.82h-4.82zM201.49 45.70h4.82v4.82h-4.82zM206.07 45.70h4.82v4.82h-4.82zM192.33 50.28h4.82v4.82h-4.82zM206.07 50.28h4.82v4.82h-4.82zM206.07 54.86h4.82v4.82h-4.82zM187.74 59.45h4.82v4.82h-4.82zM196.91 59.45h4.82v4.82h-4.82zM210.65 59.45h4.82v4.82h-4.82zM215.24 59.45h4.82v4.82h-4.82zM206.07 64.03h4.82v4.82h-4.82zM215.24 68.61h4.82v4.82h-4.82zM192.33 73.19h4.82v4.82h-4.82zM187.74 77.77h4.82v4.82h-4.82zM192.33 77.77h4.82v4.82h-4.82zM196.91 77.77h4.82v4.82h-4.82zM206.07 77.77h4.82v4.82h-4.82zM210.65 77.77h4.82v4.82h-4.82zM201.49 82.36h4.82v4.82h-4.82zM206.07 82.36h4.82v4.82h-4.82zM183.16 86.94h4.82v4.82h-4.82zM192.33 86.94h4.82v4.82h-4.82zM196.91 86.94h4.82v4.82h-4.82zM210.65 86.94h4.82v4.82h-4.82zM183.16 96.10h4.82v4.82h-4.82zM187.74 96.10h4.82v4.82h-4.82zM192.33 96.10h4.82v4.82h-4.82zM201.49 96.10h4.82v4.82h-4.82zM206.07 96.10h4.82v4.82h-4.82zM187.74 100.69h4.82v4.82h-4.82zM192.33 100.69h4.82v4.82h-4.82zM201.49 100.69h4.82v4.82h-4.82zM206.07 100.69h4.82v4.82h-4.82zM192.33 114.43h4.82v4.82h-4.82zM201.49 114.43h4.82v4.82h-4.82zM206.07 114.43h4.82v4.82h-4.82zM210.65 114.43h4.82v4.82h-4.82zM183.16 119.01h4.82v4.82h-4.82zM178.58 123.60h4.82v4.82h-4.82zM196.91 123.60h4.82v4.82h-4.82zM210.65 123.60h4.82v4.82h-4.82zM196.91 128.18h4.82v4.82h-4.82zM201.49 128.18h4.82v4.82h-4.82zM192.33 137.34h4.82v4.82h-4.82zM206.07 137.34h4.82v4.82h-4.82zM196.91 141.92h4.82v4.82h-4.82zM201.49 141.92h4.82v4.82h-4.82zM206.07 141.92h4.82v4.82h-4.82zM206.07 146.51h4.82v4.82h-4.82z" fill="#73a1cb"/>
<path d="M210.65 -0.12h4.82v4.82h-4.82zM160.25 4.46h4.82v4.82h-4.82zM164.83 4.46h4.82v4.82h-4.82zM132.76 9.04h4.82v4.82h-4.82zM160.25 9.04h4.82v4.82h-4.82zM164.83 9.04h4.82v4.82h-4.82zM174.00 9.04h4.82v4.82h-4.82zM141.92 13.63h4.82v4.82h-4.82zM174.00 18.21h4.82v4.82h-4.82zM210.65 18.21h4.82v4.82h-4.82zM215.24 18.21h4.82v4.82h-4.82zM169.42 22.79h4.82v4.82h-4.82zM219.82 22.79h4.82v4.82h-4.82zM137.34 27.37h4.82v4.82h-4.82zM178.58 27.37h4.82v4.82h-4.82zM123.60 31.95h4.82v4.82h-4.82zM164.83 31.95h4.82v4.82h-4.82zM228.98 31.95h4.82v4.82h-4.82zM141.92 36.54h4.82v4.82h-4.82zM219.82 36.54h4.82v4.82h-4.82zM224.40 36.54h4.82v4.82h-4.82zM164.83 41.12h4.82v4.82h-4.82zM238.15 41.12h4.82v4.82h-4.82zM141.92 45.70h4.82v4.82h-4.82zM155.67 50.28h4.82v4.82h-4.82zM238.15 50.28h4.82v4.82h-4.82zM169.42 54.86h4.82v4.82h-4.82zM174.00 54.86h4.82v4.82h-4.82zM233.56 54.86h4.82v4.82h-4.82zM238.15 54.86h4.82v4.82h-4.82zM228.98 64.03h4.82v4.82h-4.82zM224.40 68.61h4.82v4.82h-4.82zM228.98 68.61h4.82v4.82h-4.82zM238.15 68.61h4.82v4.82h-4.82zM228.98 73.19h4.82v4.82h-4.82zM242.73 77.77h4.82v4.82h-4.82zM178.58 82.36h4.82v4.82h-4.82zM169.42 86.94h4.82v4.82h-4.82zM183.16 91.52h4.82v4.82h-4.82zM169.42 96.10h4.82v4.82h-4.82zM224.40 96.10h4.82v4.82h-4.82zM228.98 96.10h4.82v4.82h-4.82zM233.56 100.69h4.82v4.82h-4.82zM228.98 109.85h4.82v4.82h-4.82zM238.15 109.85h4.82v4.82h-4.82zM238.15 114.43h4.82v4.82h-4.82zM228.98 119.01h4.82v4.82h-4.82zM242.73 119.01h4.82v4.82h-4.82zM238.15 123.60h4.82v4.82h-4.82zM169.42 128.18h4.82v4.82h-4.82zM219.82 128.18h4.82v4.82h-4.82zM228.98 128.18h4.82v4.82h-4.82zM238.15 128.18h4.82v4.82h-4.82zM215.24 132.76h4.82v4.82h-4.82zM228.98 137.34h4.82v4.82h-4.82zM169.42 141.92h4.82v4.82h-4.82zM228.98 141.92h4.82v4.82h-4.82zM233.56 141.92h4.82v4.82h-4.82zM238.15 141.92h4.82v4.82h-4.82zM242.73 141.92h4.82v4.82h-4.82zM224.40 151.09h4.82v4.82h-4.82zM238.15 151.09h4.82v4.82h-4.82zM228.98 155.67h4.82v4.82h-4.82zM238.15 155.67h4.82v4.82h-4.82zM174.00 160.25h4.82v4.82h-4.82zM192.33 160.25h4.82v4.82h-4.82zM183.16 164.83h4.82v4.82h-4.82zM206.07 164.83h4.82v4.82h-4.82zM233.56 169.42h4.82v4.82h-4.82z" fill="#d0e9f2"/>
<path d="M9.04 4.46h4.82v4.82h-4.82zM100.69 82.36h4.82v4.82h-4.82zM96.10 91.52h4.82v4.82h-4.82zM105.27 91.52h4.82v4.82h-4.82zM132.76 91.52h4.82v4.82h-4.82zM119.01 100.69h4.82v4.82h-4.82zM146.51 128.18h4.82v4.82h-4.82zM146.51 132.76h4.82v4.82h-4.82zM206.07 183.16h4.82v4.82h-4.82zM215.24 192.33h4.82v4.82h-4.82z" fill="#fecf85"/>
<path d="M27.37 4.46h4.82v4.82h-4.82zM45.70 18.21h4.82v4.82h-4.82zM242.73 18.21h4.82v4.82h-4.82zM45.70 27.37h4.82v4.82h-4.82zM77.77 73.19h4.82v4.82h-4.82zM91.52 77.77h4.82v4.82h-4.82zM100.69 86.94h4.82v4.82h-4.82zM123.60 91.52h4.82v4.82h-4.82zM128.18 91.52h4.82v4.82h-4.82zM137.34 91.52h4.82v4.82h-4.82zM100.69 96.10h4.82v4.82h-4.82zM105.27 96.10h4.82v4.82h-4.82zM114.43 109.85h4.82v4.82h-4.82zM137.34 128.18h4.82v4.82h-4.82zM151.09 132.76h4.82v4.82h-4.82zM164.83 132.76h4.82v4.82h-4.82zM146.51 137.34h4.82v4.82h-4.82zM201.49 174.00h4.82v4.82h-4.82zM206.07 174.00h4.82v4.82h-4.82zM210.65 174.00h4.82v4.82h-4.82zM201.49 178.58h4.82v4.82h-4.82zM215.24 187.74h4.82v4.82h-4.82zM242.73 233.56h4.82v4.82h-4.82z" fill="#fee090"/>
<path d="M31.95 4.46h4.82v4.82h-4.82zM41.12 4.46h4.82v4.82h-4.82zM242.73 4.46h4.82v4.82h-4.82zM68.61 9.04h4.82v4.82h-4.82zM73.19 9.04h4.82v4.82h-4.82zM77.77 9.04h4.82v4.82h-4.82zM228.98 9.04h4.82v4.82h-4.82zM22.79 13.63h4.82v4.82h-4.82zM45.70 13.63h4.82v4.82h-4.82zM50.28 13.63h4.82v4.82h-4.82zM224.40 13.63h4.82v4.82h-4.82zM228.98 13.63h4.82v4.82h-4.82zM64.03 18.21h4.82v4.82h-4.82zM91.52 18.21h4.82v4.82h-4.82zM238.15 18.21h4.82v4.82h-4.82zM36.54 22.79h4.82v4.82h-4.82zM41.12 22.79h4.82v4.82h-4.82zM50.28 22.79h4.82v4.82h-4.82zM77.77 22.79h4.82v4.82h-4.82zM233.56 22.79h4.82v4.82h-4.82zM36.54 27.37h4.82v4.82h-4.82zM64.03 27.37h4.82v4.82h-4.82zM119.01 27.37h4.82v4.82h-4.82zM228.98 27.37h4.82v4.82h-4.82zM233.56 27.37h4.82v4.82h-4.82zM242.73 27.37h4.82v4.82h-4.82zM73.19 36.54h4.82v4.82h-4.82zM77.77 36.54h4.82v4.82h-4.82zM45.70 41.12h4.82v4.82h-4.82zM82.36 41.12h4.82v4.82h-4.82zM54.86 50.28h4.82v4.82h-4.82zM64.03 50.28h4.82v4.82h-4.82zM68.61 50.28h4.82v4.82h-4.82zM73.19 50.28h4.82v4.82h-4.82zM77.77 50.28h4.82v4.82h-4.82zM91.52 50.28h4.82v4.82h-4.82zM77.77 54.86h4.82v4.82h-4.82zM64.03 59.45h4.82v4.82h-4.82zM119.01 59.45h4.82v4.82h-4.82zM146.51 59.45h4.82v4.82h-4.82zM119.01 64.03h4.82v4.82h-4.82zM73.19 68.61h4.82v4.82h-4.82zM105.27 73.19h4.82v4.82h-4.82zM132.76 73.19h4.82v4.82h-4.82zM146.51 73.19h4.82v4.82h-4.82zM86.94 77.77h4.82v4.82h-4.82zM96.10 77.77h4.82v4.82h-4.82zM123.60 77.77h4.82v4.82h-4.82zM91.52 82.36h4.82v4.82h-4.82zM96.10 82.36h4.82v4.82h-4.82zM109.85 82.36h4.82v4.82h-4.82zM151.09 82.36h4.82v4.82h-4.82zM151.09 86.94h4.82v4.82h-4.82zM141.92 91.52h4.82v4.82h-4.82zM151.09 91.52h4.82v4.82h-4.82zM155.67 91.52h4.82v4.82h-4.82zM160.25 91.52h4.82v4.82h-4.82zM109.85 96.10h4.82v4.82h-4.82zM114.43 96.10h4.82v4.82h-4.82zM123.60 96.10h4.82v4.82h-4.82zM128.18 96.10h4.82v4.82h-4.82zM132.76 96.10h4.82v4.82h-4.82zM105.27 100.69h4.82v4.82h-4.82zM128.18 114.43h4.82v4.82h-4.82zM146.51 114.43h4.82v4.82h-4.82zM146.51 119.01h4.82v4.82h-4.82zM155.67 119.01h4.82v4.82h-4.82zM141.92 132.76h4.82v4.82h-4.82zM141.92 137.34h4.82v4.82h-4.82zM164.83 141.92h4.82v4.82h-4.82zM155.67 146.51h4.82v4.82h-4.82zM160.25 151.09h4.82v4.82h-4.82zM164.83 155.67h4.82v4.82h-4.82zM174.00 169.42h4.82v4.82h-4.82zM196.91 169.42h4.82v4.82h-4.82z" fill="#fff3ac"/>
<path d="M151.09 4.46h4.82v4.82h-4.82zM178.58 4.46h4.82v4.82h-4.82zM169.42 9.04h4.82v4.82h-4.82zM187.74 9.04h4.82v4.82h-4.82zM219.82 9.04h4.82v4.82h-4.82zM169.42 13.63h4.82v4.82h-4.82zM174.00 13.63h4.82v4.82h-4.82zM210.65 13.63h4.82v4.82h-4.82zM215.24 13.63h4.82v4.82h-4.82zM174.00 22.79h4.82v4.82h-4.82zM210.65 22.79h4.82v4.82h-4.82zM224.40 31.95h4.82v4.82h-4.82zM238.15 31.95h4.82v4.82h-4.82zM174.00 36.54h4.82v4.82h-4.82zM109.85 41.12h4.82v4.82h-4.82zM228.98 41.12h4.82v4.82h-4.82zM233.56 41.12h4.82v4.82h-4.82zM160.25 45.70h4.82v4.82h-4.82zM228.98 45.70h4.82v4.82h-4.82zM233.56 45.70h4.82v4.82h-4.82zM169.42 50.28h4.82v4.82h-4.82zM224.40 50.28h4.82v4.82h-4.82zM228.98 50.28h4.82v4.82h-4.82zM224.40 54.86h4.82v4.82h-4.82zM238.15 59.45h4.82v4.82h-4.82zM174.00 64.03h4.82v4.82h-4.82zM169.42 73.19h4.82v4.82h-4.82zM233.56 73.19h4.82v4.82h-4.82zM238.15 73.19h4.82v4.82h-4.82zM238.15 77.77h4.82v4.82h-4.82zM233.56 82.36h4.82v4.82h-4.82zM238.15 82.36h4.82v4.82h-4.82zM228.98 86.94h4.82v4.82h-4.82zM187.74 91.52h4.82v4.82h-4.82zM210.65 91.52h4.82v4.82h-4.82zM224.40 100.69h4.82v4.82h-4.82zM228.98 100.69h4.82v4.82h-4.82zM228.98 105.27h4.82v4.82h-4.82zM242.73 105.27h4.82v4.82h-4.82zM169.42 109.85h4.82v4.82h-4.82zM224.40 109.85h4.82v4.82h-4.82zM233.56 109.85h4.82v4.82h-4.82zM169.42 114.43h4.82v4.82h-4.82zM233.56 114.43h4.82v4.82h-4.82zM169.42 119.01h4.82v4.82h-4.82zM224.40 119.01h4.82v4.82h-4.82zM233.56 119.01h4.82v4.82h-4.82zM238.15 119.01h4.82v4.82h-4.82zM224.40 123.60h4.82v4.82h-4.82zM228.98 123.60h4.82v4.82h-4.82zM233.56 123.60h4.82v4.82h-4.82zM178.58 132.76h4.82v4.82h-4.82zM219.82 137.34h4.82v4.82h-4.82zM233.56 137.34h4.82v4.82h-4.82zM224.40 141.92h4.82v4.82h-4.82zM178.58 155.67h4.82v4.82h-4.82zM224.40 155.67h4.82v4.82h-4.82zM242.73 155.67h4.82v4.82h-4.82zM187.74 164.83h4.82v4.82h-4.82z" fill="#c0deec"/>
<path d="M183.16 4.46h4.82v4.82h-4.82zM187.74 4.46h4.82v4.82h-4.82zM192.33 9.04h4.82v4.82h-4.82zM201.49 9.04h4.82v4.82h-4.82zM206.07 9.04h4.82v4.82h-4.82zM201.49 13.63h4.82v4.82h-4.82zM192.33 22.79h4.82v4.82h-4.82zM206.07 22.79h4.82v4.82h-4.82zM183.16 31.95h4.82v4.82h-4.82zM187.74 31.95h4.82v4.82h-4.82zM196.91 31.95h4.82v4.82h-4.82zM206.07 36.54h4.82v4.82h-4.82zM215.24 36.54h4.82v4.82h-4.82zM187.74 41.12h4.82v4.82h-4.82zM196.91 41.12h4.82v4.82h-4.82zM192.33 45.70h4.82v4.82h-4.82zM196.91 45.70h4.82v4.82h-4.82zM210.65 45.70h4.82v4.82h-4.82zM210.65 50.28h4.82v4.82h-4.82zM178.58 64.03h4.82v4.82h-4.82zM187.74 64.03h4.82v4.82h-4.82zM192.33 64.03h4.82v4.82h-4.82zM215.24 64.03h4.82v4.82h-4.82zM178.58 73.19h4.82v4.82h-4.82zM183.16 73.19h4.82v4.82h-4.82zM196.91 73.19h4.82v4.82h-4.82zM206.07 73.19h4.82v4.82h-4.82zM215.24 77.77h4.82v4.82h-4.82zM187.74 82.36h4.82v4.82h-4.82zM215.24 86.94h4.82v4.82h-4.82zM219.82 86.94h4.82v4.82h-4.82zM210.65 100.69h4.82v4.82h-4.82zM178.58 105.27h4.82v4.82h-4.82zM183.16 109.85h4.82v4.82h-4.82zM192.33 109.85h4.82v4.82h-4.82zM196.91 109.85h4.82v4.82h-4.82zM201.49 109.85h4.82v4.82h-4.82zM196.91 114.43h4.82v4.82h-4.82zM219.82 114.43h4.82v4.82h-4.82zM210.65 119.01h4.82v4.82h-4.82zM187.74 123.60h4.82v4.82h-4.82zM215.24 123.60h4.82v4.82h-4.82zM187.74 128.18h4.82v4.82h-4.82zM201.49 132.76h4.82v4.82h-4.82zM183.16 137.34h4.82v4.82h-4.82zM187.74 137.34h4.82v4.82h-4.82zM196.91 137.34h4.82v4.82h-4.82zM210.65 141.92h4.82v4.82h-4.82zM183.16 146.51h4.82v4.82h-4.82zM187.74 146.51h4.82v4.82h-4.82zM215.24 146.51h4.82v4.82h-4.82zM178.58 151.09h4.82v4.82h-4.82zM201.49 151.09h4.82v4.82h-4.82zM192.33 155.67h4.82v4.82h-4.82zM201.49 155.67h4.82v4.82h-4.82zM210.65 155.67h4.82v4.82h-4.82z" fill="#82b0d3"/>
<path d="M206.07 13.63h4.82v4.82h-4.82zM201.49 31.95h4.82v4.82h-4.82zM206.07 41.12h4.82v4.82h-4.82zM201.49 50.28h4.82v4.82h-4.82zM183.16 68.61h4.82v4.82h-4.82zM192.33 68.61h4.82v4.82h-4.82zM201.49 68.61h4.82v4.82h-4.82zM206.07 68.61h4.82v4.82h-4.82zM201.49 73.19h4.82v4.82h-4.82zM201.49 77.77h4.82v4.82h-4.82zM201.49 86.94h4.82v4.82h-4.82zM206.07 86.94h4.82v4.82h-4.82zM196.91 100.69h4.82v4.82h-4.82zM206.07 105.27h4.82v4.82h-4.82zM215.24 105.27h4.82v4.82h-4.82zM187.74 119.01h4.82v4.82h-4.82zM192.33 119.01h4.82v4.82h-4.82zM196.91 119.01h4.82v4.82h-4.82zM201.49 119.01h4.82v4.82h-4.82zM206.07 119.01h4.82v4.82h-4.82zM201.49 137.34h4.82v4.82h-4.82zM192.33 146.51h4.82v4.82h-4.82z" fill="#6393c4"/>
<path d="M22.79 18.21h4.82v4.82h-4.82zM100.69 91.52h4.82v4.82h-4.82zM137.34 132.76h4.82v4.82h-4.82zM146.51 141.92h4.82v4.82h-4.82zM183.16 174.00h4.82v4.82h-4.82zM192.33 174.00h4.82v4.82h-4.82zM183.16 178.58h4.82v4.82h-4.82zM187.74 178.58h4.82v4.82h-4.82zM192.33 178.58h4.82v4.82h-4.82zM201.49 183.16h4.82v4.82h-4.82zM210.65 183.16h4.82v4.82h-4.82zM201.49 187.74h4.82v4.82h-4.82zM206.07 187.74h4.82v4.82h-4.82zM196.91 192.33h4.82v4.82h-4.82zM201.49 192.33h4.82v4.82h-4.82zM210.65 192.33h4.82v4.82h-4.82zM215.24 210.65h4.82v4.82h-4.82z" fill="#fdae6f"/>
<path d="M187.74 50.28h4.82v4.82h-4.82zM192.33 59.45h4.82v4.82h-4.82zM201.49 59.45h4.82v4.82h-4.82zM196.91 64.03h4.82v4.82h-4.82zM201.49 64.03h4.82v4.82h-4.82zM192.33 82.36h4.82v4.82h-4.82zM187.74 86.94h4.82v4.82h-4.82zM192.33 105.27h4.82v4.82h-4.82zM183.16 123.60h4.82v4.82h-4.82zM192.33 123.60h4.82v4.82h-4.82zM206.07 123.60h4.82v4.82h-4.82z" fill="#5484bc"/>
<path d="M206.07 59.45h4.82v4.82h-4.82zM201.49 105.27h4.82v4.82h-4.82zM201.49 123.60h4.82v4.82h-4.82z" fill="#4575b4"/>
<path d="M178.58 174.00h4.82v4.82h-4.82zM187.74 183.16h4.82v4.82h-4.82zM192.33 183.16h4.82v4.82h-4.82zM196.91 187.74h4.82v4.82h-4.82zM206.07 196.91h4.82v4.82h-4.82zM215.24 196.91h4.82v4.82h-4.82zM210.65 201.49h4.82v4.82h-4.82zM210.65 206.07h4.82v4.82h-4.82zM215.24 206.07h4.82v4.82h-4.82z" fill="#fc9e64"/>
<path d="M192.33 187.74h4.82v4.82h-4.82zM206.07 201.49h4.82v4.82h-4.82z" fill="#fc8d59"/>
<path d="M201.49 196.91h4.82v4.82h-4.82z" fill="#e6553b"/>
<rect x="-0.05" y="-6.00" width="4.68" height="4.10" fill="#00008b"/>
<rect x="4.53" y="-6.00" width="4.68" height="4.10" fill="#add8e6"/>
<rect x="9.11" y="-6.00" width="13.85" height="4.10" fill="#006400"/>
<rect x="22.86" y="-6.00" width="4.68" height="4.10" fill="#add8e6"/>
<rect x="27.44" y="-6.00" width="4.68" height="4.10" fill="#006400"/>
<rect x="32.02" y="-6.00" width="9.26" height="4.10" fill="#add8e6"/>
<rect x="41.19" y="-6.00" width="9.26" height="4.10" fill="#006400"/>
<rect x="50.35" y="-6.00" width="9.26" height="4.10" fill="#add8e6"/>
<rect x="59.52" y="-6.00" width="13.85" height="4.10" fill="#00008b"/>
<rect x="73.26" y="-6.00" width="4.68" height="4.10" fill="#add8e6"/>
<rect x="77.84" y="-6.00" width="4.68" height="4.10" fill="#006400"/>
<rect x="82.43" y="-6.00" width="4.68" height="4.10" fill="#00008b"/>
<rect x="87.01" y="-6.00" width="13.85" height="4.10" fill="#add8e6"/>
<rect x="100.76" y="-6.00" width="4.68" height="4.10" fill="#00008b"/>
<rect x="105.34" y="-6.00" width="13.85" height="4.10" fill="#add8e6"/>
<rect x="119.08" y="-6.00" width="9.26" height="4.10" fill="#00008b"/>
<rect x="128.25" y="-6.00" width="9.26" height="4.10" fill="#add8e6"/>
<rect x="137.41" y="-6.00" width="4.68" height="4.10" fill="#00008b"/>
<rect x="141.99" y="-6.00" width="13.85" height="4.10" fill="#add8e6"/>
<rect x="155.74" y="-6.00" width="9.26" height="4.10" fill="#00008b"/>
<rect x="164.90" y="-6.00" width="4.68" height="4.10" fill="#add8e6"/>
<rect x="169.49" y="-6.00" width="55.08" height="4.10" fill="#c8f868"/>
<rect x="224.47" y="-6.00" width="23.01" height="4.10" fill="#006400"/>
<rect x="-0.05" y="-11.70" width="4.68" height="4.10" fill="#5fbf6f"/>
<rect x="4.53" y="-11.70" width="4.68" height="4.10" fill="#e9e951"/>
<rect x="9.11" y="-11.70" width="27.59" height="4.10" fill="#1f4e5f"/>
<rect x="36.61" y="-11.70" width="4.68" height="4.10" fill="#00897b"/>
<rect x="41.19" y="-11.70" width="123.82" height="4.10" fill="#1f4e5f"/>
<rect x="164.90" y="-11.70" width="4.68" height="4.10" fill="#00897b"/>
<rect x="169.49" y="-11.70" width="23.01" height="4.10" fill="#e9e951"/>
<rect x="192.40" y="-11.70" width="4.68" height="4.10" fill="#1f4e5f"/>
<rect x="196.98" y="-11.70" width="27.59" height="4.10" fill="#e9e951"/>
<rect x="224.47" y="-11.70" width="4.68" height="4.10" fill="#1f4e5f"/>
<rect x="229.05" y="-11.70" width="13.85" height="4.10" fill="#e9e951"/>
<rect x="242.80" y="-11.70" width="4.68" height="4.10" fill="#5fbf6f"/>
<rect x="-0.05" y="-17.40" width="13.85" height="4.10" fill="#faa195"/>
<rect x="13.70" y="-17.40" width="4.68" height="4.10" fill="#fbd9a8"/>
<rect x="18.28" y="-17.40" width="4.68" height="4.10" fill="#7f0f7f"/>
<rect x="22.86" y="-17.40" width="4.68" height="4.10" fill="#fbb362"/>
<rect x="27.44" y="-17.40" width="18.43" height="4.10" fill="#faa195"/>
<rect x="45.77" y="-17.40" width="4.68" height="4.10" fill="#f06cc4"/>
<rect x="50.35" y="-17.40" width="4.68" height="4.10" fill="#faa195"/>
<rect x="54.93" y="-17.40" width="9.26" height="4.10" fill="#b31212"/>
<rect x="64.10" y="-17.40" width="4.68" height="4.10" fill="#d010a0"/>
<rect x="68.68" y="-17.40" width="4.68" height="4.10" fill="#b31212"/>
<rect x="73.26" y="-17.40" width="4.68" height="4.10" fill="#fbb362"/>
<rect x="77.84" y="-17.40" width="23.01" height="4.10" fill="#faa195"/>
<rect x="100.76" y="-17.40" width="4.68" height="4.10" fill="#7f0f7f"/>
<rect x="105.34" y="-17.40" width="50.50" height="4.10" fill="#faa195"/>
<rect x="155.74" y="-17.40" width="9.26" height="4.10" fill="#b31212"/>
<rect x="164.90" y="-17.40" width="13.85" height="4.10" fill="#faa195"/>
<rect x="178.65" y="-17.40" width="9.26" height="4.10" fill="#f9523e"/>
<rect x="187.81" y="-17.40" width="4.68" height="4.10" fill="#faa195"/>
<rect x="192.40" y="-17.40" width="9.26" height="4.10" fill="#7f0f7f"/>
<rect x="201.56" y="-17.40" width="4.68" height="4.10" fill="#b31212"/>
<rect x="206.14" y="-17.40" width="4.68" height="4.10" fill="#7f0f7f"/>
<rect x="210.72" y="-17.40" width="9.26" height="4.10" fill="#faa195"/>
<rect x="219.89" y="-17.40" width="9.26" height="4.10" fill="#7f0f7f"/>
<rect x="229.05" y="-17.40" width="4.68" height="4.10" fill="#faa195"/>
<rect x="233.63" y="-17.40" width="4.68" height="4.10" fill="#7f0f7f"/>
<rect x="238.22" y="-17.40" width="4.68" height="4.10" fill="#f9523e"/>
<rect x="242.80" y="-17.40" width="4.68" height="4.10" fill="#faa195"/>
<rect x="-0.05" y="-23.10" width="23.01" height="4.10" fill="#c3c3c3"/>
<rect x="22.86" y="-23.10" width="4.68" height="4.10" fill="#000"/>
<rect x="27.44" y="-23.10" width="9.26" height="4.10" fill="#c3c3c3"/>
<rect x="36.61" y="-23.10" width="9.26" height="4.10" fill="#000"/>
<rect x="45.77" y="-23.10" width="4.68" height="4.10" fill="#c3c3c3"/>
<rect x="50.35" y="-23.10" width="4.68" height="4.10" fill="#000"/>
<rect x="54.93" y="-23.10" width="13.85" height="4.10" fill="#c3c3c3"/>
<rect x="68.68" y="-23.10" width="9.26" height="4.10" fill="#000"/>
<rect x="77.84" y="-23.10" width="4.68" height="4.10" fill="#c3c3c3"/>
<rect x="82.43" y="-23.10" width="4.68" height="4.10" fill="#000"/>
<rect x="87.01" y="-23.10" width="9.26" height="4.10" fill="#c3c3c3"/>
<rect x="96.17" y="-23.10" width="13.85" height="4.10" fill="#000"/>
<rect x="109.92" y="-23.10" width="18.43" height="4.10" fill="#c3c3c3"/>
<rect x="128.25" y="-23.10" width="9.26" height="4.10" fill="#000"/>
<rect x="137.41" y="-23.10" width="4.68" height="4.10" fill="#c3c3c3"/>
<rect x="141.99" y="-23.10" width="9.26" height="4.10" fill="#000"/>
<rect x="151.16" y="-23.10" width="18.43" height="4.10" fill="#c3c3c3"/>
<rect x="169.49" y="-23.10" width="4.68" height="4.10" fill="#000"/>
<rect x="174.07" y="-23.10" width="27.59" height="4.10" fill="#c3c3c3"/>
<rect x="201.56" y="-23.10" width="13.85" height="4.10" fill="#000"/>
<rect x="215.31" y="-23.10" width="18.43" height="4.10" fill="#c3c3c3"/>
<rect x="233.63" y="-23.10" width="4.68" height="4.10" fill="#000"/>
<rect x="238.22" y="-23.10" width="4.68" height="4.10" fill="#c3c3c3"/>
<rect x="242.80" y="-23.10" width="4.68" height="4.10" fill="#000"/>
<rect x="-0.05" y="-28.80" width="4.68" height="5.60" fill="#55d312"/>
<rect x="4.53" y="-28.80" width="23.01" height="5.60" fill="#000"/>
<rect x="27.44" y="-28.80" width="9.26" height="5.60" fill="#e00000"/>
<rect x="36.61" y="-28.80" width="123.82" height="5.60" fill="#000"/>
<rect x="160.32" y="-28.80" width="9.26" height="5.60" fill="#3f8fff"/>
<rect x="169.49" y="-28.80" width="27.59" height="5.60" fill="#000"/>
<rect x="196.98" y="-28.80" width="9.26" height="5.60" fill="#ffc400"/>
<rect x="206.14" y="-28.80" width="41.34" height="5.60" fill="#000"/>
</g>
<g transform="translate(288.20 695.20) rotate(-45)" fill="none" stroke="#000" stroke-width="0.65">
<path d="M11.5 -29.2V-31.4H16.0V-29.2M6.9 -29.2V-31.4H13.7V-31.4M2.3 -29.2V-31.9H10.3V-31.4M20.6 -29.2V-32.6H25.2V-29.2M6.3 -31.9V-34.1H22.9V-32.6M14.6 -34.1V-35.8H29.8V-29.2M43.5 -29.2V-32.2H48.1V-29.2M38.9 -29.2V-33.1H45.8V-32.2M34.4 -29.2V-34.6H42.4V-33.1M52.7 -29.2V-33.7H57.3V-29.2M38.4 -34.6V-35.9H55.0V-33.7M22.2 -35.8V-37.7H46.7V-35.9M71.0 -29.2V-31.4H75.6V-29.2M66.4 -29.2V-32.6H73.3V-31.4M61.9 -29.2V-33.2H69.9V-32.6M80.2 -29.2V-32.4H84.8V-29.2M65.9 -33.2V-34.6H82.5V-32.4M89.4 -29.2V-32.5H93.9V-29.2M107.7 -29.2V-31.4H112.3V-29.2M103.1 -29.2V-31.4H110.0V-31.4M98.5 -29.2V-31.6H106.5V-31.4M91.6 -32.5V-33.2H102.5V-31.6M74.2 -34.6V-36.2H97.1V-33.2M121.4 -29.2V-31.4H126.0V-29.2M116.8 -29.2V-31.4H123.7V-31.4M130.6 -29.2V-31.5H135.2V-29.2M120.3 -31.4V-32.7H132.9V-31.5M126.6 -32.7V-34.9H139.8V-29.2M144.3 -29.2V-32.4H148.9V-29.2M146.6 -32.4V-33.6H153.5V-29.2M158.1 -29.2V-32.9H162.7V-29.2M160.4 -32.9V-34.2H167.2V-29.2M150.1 -33.6V-37.0H163.8V-34.2M133.2 -34.9V-38.5H156.9V-37.0M85.6 -36.2V-40.7H145.1V-38.5M34.4 -37.7V-43.2H115.3V-40.7M171.8 -29.2V-34.1H176.4V-29.2M181.0 -29.2V-33.1H185.6V-29.2M174.1 -34.1V-35.6H183.3V-33.1M194.7 -29.2V-34.3H199.3V-29.2M190.2 -29.2V-35.3H197.0V-34.3M203.9 -29.2V-33.7H208.5V-29.2M193.6 -35.3V-37.2H206.2V-33.7M178.7 -35.6V-39.2H199.9V-37.2M213.1 -29.2V-33.2H217.6V-29.2M222.2 -29.2V-33.6H226.8V-29.2M215.4 -33.2V-35.2H224.5V-33.6M236.0 -29.2V-31.9H240.6V-29.2M238.3 -31.9V-33.6H245.1V-29.2M231.4 -29.2V-35.6H241.7V-33.6M219.9 -35.2V-38.2H236.5V-35.6M189.3 -39.2V-45.6H228.2V-38.2M74.9 -43.2V-54.9H208.8V-45.6"/>
</g>
<text x="464.0" y="517.8" font-size="4.7" transform="rotate(-45 463.967 517.847)" fill="#111">PAM50</text>
<text x="459.9" y="513.8" font-size="4.7" transform="rotate(-45 459.936 513.816)" fill="#111">Receptors</text>
<text x="455.9" y="509.8" font-size="4.7" transform="rotate(-45 455.906 509.786)" fill="#111">Site</text>
<text x="451.9" y="505.8" font-size="4.7" transform="rotate(-45 451.875 505.755)" fill="#111">Method</text>
<text x="447.8" y="501.7" font-size="4.7" transform="rotate(-45 447.845 501.725)" fill="#111">Patient</text>
<text x="288.8" y="700.4" font-size="4.3" transform="rotate(45 288.8 700.4)" fill="#7fd86f">223-6735</text>
<text x="467.0" y="520.7" font-size="4.3" transform="rotate(-45 466.98 520.66)" fill="#7fd86f">223-6735</text>
<text x="295.3" y="700.4" font-size="4.3" transform="rotate(45 295.28 700.4)" fill="#7fd86f">223-7537</text>
<text x="470.2" y="523.9" font-size="4.3" transform="rotate(-45 470.22 523.9)" fill="#7fd86f">223-7537</text>
<text x="301.8" y="700.4" font-size="4.3" font-weight="bold" transform="rotate(45 301.76 700.4)">947-7508</text>
<text x="473.5" y="527.1" font-size="4.3" font-weight="bold" transform="rotate(-45 473.46 527.14)">947-7508</text>
<text x="308.2" y="700.4" font-size="4.3" transform="rotate(45 308.24 700.4)" fill="#444">651-7016</text>
<text x="476.7" y="530.4" font-size="4.3" transform="rotate(-45 476.7 530.38)" fill="#444">651-7016</text>
<text x="314.7" y="700.4" font-size="4.3" transform="rotate(45 314.72 700.4)" fill="#444">676-7149</text>
<text x="479.9" y="533.6" font-size="4.3" transform="rotate(-45 479.94 533.62)" fill="#444">676-7149</text>
<text x="321.2" y="700.4" font-size="4.3" transform="rotate(45 321.2 700.4)" fill="#444">735-3841</text>
<text x="483.2" y="536.9" font-size="4.3" transform="rotate(-45 483.18 536.86)" fill="#444">735-3841</text>
<text x="327.7" y="700.4" font-size="4.3" transform="rotate(45 327.68 700.4)" fill="#f06a6a">282-610</text>
<text x="486.4" y="540.1" font-size="4.3" transform="rotate(-45 486.42 540.1)" fill="#f06a6a">282-610</text>
<text x="334.2" y="700.4" font-size="4.3" transform="rotate(45 334.16 700.4)" fill="#f06a6a">282-602</text>
<text x="489.7" y="543.3" font-size="4.3" transform="rotate(-45 489.66 543.34)" fill="#f06a6a">282-602</text>
<text x="340.6" y="700.4" font-size="4.3" transform="rotate(45 340.64 700.4)" fill="#444">614-6819</text>
<text x="492.9" y="546.6" font-size="4.3" transform="rotate(-45 492.9 546.58)" fill="#444">614-6819</text>
<text x="347.1" y="700.4" font-size="4.3" transform="rotate(45 347.12 700.4)" fill="#444">582-2581</text>
<text x="496.1" y="549.8" font-size="4.3" transform="rotate(-45 496.14 549.82)" fill="#444">582-2581</text>
<text x="353.6" y="700.4" font-size="4.3" transform="rotate(45 353.6 700.4)" fill="#444">414-1681</text>
<text x="499.4" y="553.1" font-size="4.3" transform="rotate(-45 499.38 553.06)" fill="#444">414-1681</text>
<text x="360.1" y="700.4" font-size="4.3" transform="rotate(45 360.08 700.4)" fill="#444">519-6162</text>
<text x="502.6" y="556.3" font-size="4.3" transform="rotate(-45 502.62 556.3)" fill="#444">519-6162</text>
<text x="366.6" y="700.4" font-size="4.3" transform="rotate(45 366.56 700.4)" fill="#444">695-7359</text>
<text x="505.9" y="559.5" font-size="4.3" transform="rotate(-45 505.86 559.54)" fill="#444">695-7359</text>
<text x="373.0" y="700.4" font-size="4.3" transform="rotate(45 373.04 700.4)" fill="#444">596-6599</text>
<text x="509.1" y="562.8" font-size="4.3" transform="rotate(-45 509.1 562.78)" fill="#444">596-6599</text>
<text x="379.5" y="700.4" font-size="4.3" transform="rotate(45 379.52 700.4)" fill="#444">321-1021</text>
<text x="512.3" y="566.0" font-size="4.3" transform="rotate(-45 512.34 566.02)" fill="#444">321-1021</text>
<text x="386.0" y="700.4" font-size="4.3" transform="rotate(45 386 700.4)" fill="#444">627-3242</text>
<text x="515.6" y="569.3" font-size="4.3" transform="rotate(-45 515.58 569.26)" fill="#444">627-3242</text>
<text x="392.5" y="700.4" font-size="4.3" transform="rotate(45 392.48 700.4)" fill="#444">983-7659</text>
<text x="518.8" y="572.5" font-size="4.3" transform="rotate(-45 518.82 572.5)" fill="#444">983-7659</text>
<text x="399.0" y="700.4" font-size="4.3" transform="rotate(45 398.96 700.4)" fill="#444">231-6158</text>
<text x="522.1" y="575.7" font-size="4.3" transform="rotate(-45 522.06 575.74)" fill="#444">231-6158</text>
<text x="405.4" y="700.4" font-size="4.3" transform="rotate(45 405.44 700.4)" fill="#444">853-4381</text>
<text x="525.3" y="579.0" font-size="4.3" transform="rotate(-45 525.3 578.98)" fill="#444">853-4381</text>
<text x="411.9" y="700.4" font-size="4.3" transform="rotate(45 411.92 700.4)" fill="#444">211-6151</text>
<text x="528.5" y="582.2" font-size="4.3" transform="rotate(-45 528.54 582.22)" fill="#444">211-6151</text>
<text x="418.4" y="700.4" font-size="4.3" transform="rotate(45 418.4 700.4)" fill="#444">851-4351</text>
<text x="531.8" y="585.5" font-size="4.3" transform="rotate(-45 531.78 585.46)" fill="#444">851-4351</text>
<text x="424.9" y="700.4" font-size="4.3" transform="rotate(45 424.88 700.4)" fill="#444">636-6998</text>
<text x="535.0" y="588.7" font-size="4.3" transform="rotate(-45 535.02 588.7)" fill="#444">636-6998</text>
<text x="431.4" y="700.4" font-size="4.3" transform="rotate(45 431.36 700.4)" fill="#444">423-1741</text>
<text x="538.3" y="591.9" font-size="4.3" transform="rotate(-45 538.26 591.94)" fill="#444">423-1741</text>
<text x="437.8" y="700.4" font-size="4.3" transform="rotate(45 437.84 700.4)" fill="#444">606-6769</text>
<text x="541.5" y="595.2" font-size="4.3" transform="rotate(-45 541.5 595.18)" fill="#444">606-6769</text>
<text x="444.3" y="700.4" font-size="4.3" transform="rotate(45 444.32 700.4)" fill="#444">589-2860</text>
<text x="544.7" y="598.4" font-size="4.3" transform="rotate(-45 544.74 598.42)" fill="#444">589-2860</text>
<text x="450.8" y="700.4" font-size="4.3" transform="rotate(45 450.8 700.4)" fill="#444">662-3602</text>
<text x="548.0" y="601.7" font-size="4.3" transform="rotate(-45 547.98 601.66)" fill="#444">662-3602</text>
<text x="457.3" y="700.4" font-size="4.3" transform="rotate(45 457.28 700.4)" fill="#444">982-7629</text>
<text x="551.2" y="604.9" font-size="4.3" transform="rotate(-45 551.22 604.9)" fill="#444">982-7629</text>
<text x="463.8" y="700.4" font-size="4.3" transform="rotate(45 463.76 700.4)" fill="#444">813-8239</text>
<text x="554.5" y="608.1" font-size="4.3" transform="rotate(-45 554.46 608.14)" fill="#444">813-8239</text>
<text x="470.2" y="700.4" font-size="4.3" transform="rotate(45 470.24 700.4)" fill="#444">806-6800</text>
<text x="557.7" y="611.4" font-size="4.3" transform="rotate(-45 557.7 611.38)" fill="#444">806-6800</text>
<text x="476.7" y="700.4" font-size="4.3" transform="rotate(45 476.72 700.4)" fill="#444">983-4741</text>
<text x="560.9" y="614.6" font-size="4.3" transform="rotate(-45 560.94 614.62)" fill="#444">983-4741</text>
<text x="483.2" y="700.4" font-size="4.3" transform="rotate(45 483.2 700.4)" fill="#444">521-6163</text>
<text x="564.2" y="617.9" font-size="4.3" transform="rotate(-45 564.18 617.86)" fill="#444">521-6163</text>
<text x="489.7" y="700.4" font-size="4.3" transform="rotate(45 489.68 700.4)" fill="#444">611-3062</text>
<text x="567.4" y="621.1" font-size="4.3" transform="rotate(-45 567.42 621.1)" fill="#444">611-3062</text>
<text x="496.2" y="700.4" font-size="4.3" transform="rotate(45 496.16 700.4)" fill="#444">689-7269</text>
<text x="570.7" y="624.3" font-size="4.3" transform="rotate(-45 570.66 624.34)" fill="#444">689-7269</text>
<text x="502.6" y="700.4" font-size="4.3" transform="rotate(45 502.64 700.4)" fill="#444">783-4081</text>
<text x="573.9" y="627.6" font-size="4.3" transform="rotate(-45 573.9 627.58)" fill="#444">783-4081</text>
<text x="509.1" y="700.4" font-size="4.3" transform="rotate(45 509.12 700.4)" fill="#444">285-751</text>
<text x="577.1" y="630.8" font-size="4.3" transform="rotate(-45 577.14 630.82)" fill="#444">285-751</text>
<text x="515.6" y="700.4" font-size="4.3" transform="rotate(45 515.6 700.4)" fill="#5a9bff">662-7059</text>
<text x="580.4" y="634.1" font-size="4.3" transform="rotate(-45 580.38 634.06)" fill="#5a9bff">662-7059</text>
<text x="522.1" y="700.4" font-size="4.3" transform="rotate(45 522.08 700.4)" fill="#5a9bff">662-7060</text>
<text x="583.6" y="637.3" font-size="4.3" transform="rotate(-45 583.62 637.3)" fill="#5a9bff">662-7060</text>
<text x="528.6" y="700.4" font-size="4.3" transform="rotate(45 528.56 700.4)" fill="#444">649-3422</text>
<text x="586.9" y="640.5" font-size="4.3" transform="rotate(-45 586.86 640.54)" fill="#444">649-3422</text>
<text x="535.0" y="700.4" font-size="4.3" transform="rotate(45 535.04 700.4)" fill="#444">759-6359</text>
<text x="590.1" y="643.8" font-size="4.3" transform="rotate(-45 590.1 643.78)" fill="#444">759-6359</text>
<text x="541.5" y="700.4" font-size="4.3" transform="rotate(45 541.52 700.4)" fill="#444">908-4412</text>
<text x="593.3" y="647.0" font-size="4.3" transform="rotate(-45 593.34 647.02)" fill="#444">908-4412</text>
<text x="548.0" y="700.4" font-size="4.3" transform="rotate(45 548 700.4)" fill="#444">745-3961</text>
<text x="596.6" y="650.3" font-size="4.3" transform="rotate(-45 596.58 650.26)" fill="#444">745-3961</text>
<text x="554.5" y="700.4" font-size="4.3" transform="rotate(45 554.48 700.4)" fill="#444">689-7270</text>
<text x="599.8" y="653.5" font-size="4.3" transform="rotate(-45 599.82 653.5)" fill="#444">689-7270</text>
<text x="561.0" y="700.4" font-size="4.3" transform="rotate(45 560.96 700.4)" fill="#444">225-6156</text>
<text x="603.1" y="656.7" font-size="4.3" transform="rotate(-45 603.06 656.74)" fill="#444">225-6156</text>
<text x="567.4" y="700.4" font-size="4.3" transform="rotate(45 567.44 700.4)" fill="#f7c93a">687-7229</text>
<text x="606.3" y="660.0" font-size="4.3" transform="rotate(-45 606.3 659.98)" fill="#f7c93a">687-7229</text>
<text x="573.9" y="700.4" font-size="4.3" transform="rotate(45 573.92 700.4)" fill="#f7c93a">687-7250</text>
<text x="609.5" y="663.2" font-size="4.3" transform="rotate(-45 609.54 663.22)" fill="#f7c93a">687-7250</text>
<text x="580.4" y="700.4" font-size="4.3" transform="rotate(45 580.4 700.4)" fill="#444">232-6159</text>
<text x="612.8" y="666.5" font-size="4.3" transform="rotate(-45 612.78 666.46)" fill="#444">232-6159</text>
<text x="586.9" y="700.4" font-size="4.3" transform="rotate(45 586.88 700.4)" fill="#444">673-7118</text>
<text x="616.0" y="669.7" font-size="4.3" transform="rotate(-45 616.02 669.7)" fill="#444">673-7118</text>
<text x="593.4" y="700.4" font-size="4.3" transform="rotate(45 593.36 700.4)" fill="#444">213-6152</text>
<text x="619.3" y="672.9" font-size="4.3" transform="rotate(-45 619.26 672.94)" fill="#444">213-6152</text>
<text x="599.8" y="700.4" font-size="4.3" transform="rotate(45 599.84 700.4)" fill="#444">364-1321</text>
<text x="622.5" y="676.2" font-size="4.3" transform="rotate(-45 622.5 676.18)" fill="#444">364-1321</text>
<text x="606.3" y="700.4" font-size="4.3" transform="rotate(45 606.32 700.4)" fill="#444">944-7479</text>
<text x="625.7" y="679.4" font-size="4.3" transform="rotate(-45 625.74 679.42)" fill="#444">944-7479</text>
<text x="612.8" y="700.4" font-size="4.3" transform="rotate(45 612.8 700.4)" fill="#444">917-4531</text>
<text x="629.0" y="682.7" font-size="4.3" transform="rotate(-45 628.98 682.66)" fill="#444">917-4531</text>
<text x="619.3" y="700.4" font-size="4.3" transform="rotate(45 619.28 700.4)" fill="#444">988-7749</text>
<text x="632.2" y="685.9" font-size="4.3" transform="rotate(-45 632.22 685.9)" fill="#444">988-7749</text>
<text x="625.8" y="700.4" font-size="4.3" transform="rotate(45 625.76 700.4)" fill="#444">425-1771</text>
<text x="635.5" y="689.1" font-size="4.3" transform="rotate(-45 635.46 689.14)" fill="#444">425-1771</text>
<text x="632.2" y="700.4" font-size="4.3" transform="rotate(45 632.24 700.4)" fill="#444">589-2851</text>
<text x="638.7" y="692.4" font-size="4.3" transform="rotate(-45 638.7 692.38)" fill="#444">589-2851</text>
<line x1="484.90" y1="501.00" x2="657.40" y2="672.70" stroke="#222" stroke-width="0.8"/>
<path d="M507.6 522.9H566" fill="none" stroke="#4a6890" stroke-width="0.9" marker-end="url(#arr)"/>
<rect x="607.40" y="491.70" width="74.50" height="104.50" fill="#fff" stroke="#555" stroke-width="0.6"/>
<line x1="605.20" y1="497.75" x2="607.40" y2="497.75" stroke="#444" stroke-width="0.5"/>
<text x="603.6" y="500.1" font-size="6.5" text-anchor="end" fill="#222">0.75</text>
<line x1="605.20" y1="522.40" x2="607.40" y2="522.40" stroke="#444" stroke-width="0.5"/>
<text x="603.6" y="524.7" font-size="6.5" text-anchor="end" fill="#222">0.50</text>
<line x1="605.20" y1="547.05" x2="607.40" y2="547.05" stroke="#444" stroke-width="0.5"/>
<text x="603.6" y="549.4" font-size="6.5" text-anchor="end" fill="#222">0.25</text>
<line x1="605.20" y1="571.70" x2="607.40" y2="571.70" stroke="#444" stroke-width="0.5"/>
<text x="603.6" y="574.0" font-size="6.5" text-anchor="end" fill="#222">0</text>
<text x="581.5" y="543.7" font-size="8" text-anchor="middle" transform="rotate(-90 581.5 543.7)">Pearson correlation</text>
<circle cx="621.28" cy="520.61" r="1.20" fill="#c8f868" fill-opacity="0.8"/>
<circle cx="618.17" cy="508.76" r="1.20" fill="#c8f868" fill-opacity="0.8"/>
<circle cx="616.26" cy="521.38" r="1.20" fill="#c8f868" fill-opacity="0.8"/>
<circle cx="618.48" cy="512.04" r="1.20" fill="#c8f868" fill-opacity="0.8"/>
<circle cx="615.64" cy="520.55" r="1.20" fill="#c8f868" fill-opacity="0.8"/>
<circle cx="617.06" cy="521.11" r="1.20" fill="#c8f868" fill-opacity="0.8"/>
<circle cx="619.72" cy="500.21" r="1.20" fill="#c8f868" fill-opacity="0.8"/>
<circle cx="615.28" cy="504.29" r="1.20" fill="#c8f868" fill-opacity="0.8"/>
<circle cx="619.45" cy="513.69" r="1.20" fill="#c8f868" fill-opacity="0.8"/>
<circle cx="615.10" cy="514.79" r="1.20" fill="#c8f868" fill-opacity="0.8"/>
<circle cx="618.59" cy="514.43" r="1.20" fill="#c8f868" fill-opacity="0.8"/>
<circle cx="616.65" cy="507.08" r="1.20" fill="#c8f868" fill-opacity="0.8"/>
<circle cx="615.20" cy="509.80" r="1.20" fill="#c8f868" fill-opacity="0.8"/>
<circle cx="620.73" cy="519.32" r="1.20" fill="#c8f868" fill-opacity="0.8"/>
<circle cx="618.53" cy="509.76" r="1.20" fill="#c8f868" fill-opacity="0.8"/>
<circle cx="619.50" cy="517.09" r="1.20" fill="#c8f868" fill-opacity="0.8"/>
<circle cx="618.11" cy="518.27" r="1.20" fill="#c8f868" fill-opacity="0.8"/>
<circle cx="621.77" cy="516.08" r="1.20" fill="#c8f868" fill-opacity="0.8"/>
<circle cx="617.14" cy="505.33" r="1.20" fill="#c8f868" fill-opacity="0.8"/>
<circle cx="616.56" cy="521.34" r="1.20" fill="#c8f868" fill-opacity="0.8"/>
<circle cx="620.21" cy="512.24" r="1.20" fill="#c8f868" fill-opacity="0.8"/>
<circle cx="617.72" cy="508.82" r="1.20" fill="#c8f868" fill-opacity="0.8"/>
<circle cx="621.51" cy="507.39" r="1.20" fill="#c8f868" fill-opacity="0.8"/>
<circle cx="620.76" cy="517.56" r="1.20" fill="#c8f868" fill-opacity="0.8"/>
<circle cx="621.19" cy="506.48" r="1.20" fill="#c8f868" fill-opacity="0.8"/>
<circle cx="618.20" cy="511.54" r="1.20" fill="#c8f868" fill-opacity="0.8"/>
<circle cx="615.50" cy="504.17" r="1.20" fill="#c8f868" fill-opacity="0.8"/>
<circle cx="619.28" cy="512.47" r="1.20" fill="#c8f868" fill-opacity="0.8"/>
<circle cx="615.59" cy="510.51" r="1.20" fill="#c8f868" fill-opacity="0.8"/>
<circle cx="617.26" cy="517.32" r="1.20" fill="#c8f868" fill-opacity="0.8"/>
<circle cx="615.80" cy="499.41" r="1.20" fill="#c8f868" fill-opacity="0.8"/>
<circle cx="616.68" cy="514.34" r="1.20" fill="#c8f868" fill-opacity="0.8"/>
<circle cx="620.42" cy="509.46" r="1.20" fill="#c8f868" fill-opacity="0.8"/>
<circle cx="616.21" cy="510.01" r="1.20" fill="#c8f868" fill-opacity="0.8"/>
<circle cx="616.30" cy="519.06" r="1.20" fill="#c8f868" fill-opacity="0.8"/>
<circle cx="619.98" cy="514.49" r="1.20" fill="#c8f868" fill-opacity="0.8"/>
<circle cx="615.79" cy="504.33" r="1.20" fill="#c8f868" fill-opacity="0.8"/>
<circle cx="617.86" cy="503.77" r="1.20" fill="#c8f868" fill-opacity="0.8"/>
<circle cx="621.60" cy="510.20" r="1.20" fill="#c8f868" fill-opacity="0.8"/>
<circle cx="620.46" cy="505.85" r="1.20" fill="#c8f868" fill-opacity="0.8"/>
<circle cx="616.43" cy="516.68" r="1.20" fill="#c8f868" fill-opacity="0.8"/>
<circle cx="617.68" cy="497.06" r="1.20" fill="#c8f868" fill-opacity="0.8"/>
<circle cx="615.68" cy="505.09" r="1.20" fill="#c8f868" fill-opacity="0.8"/>
<circle cx="621.73" cy="519.95" r="1.20" fill="#c8f868" fill-opacity="0.8"/>
<circle cx="620.25" cy="510.25" r="1.20" fill="#c8f868" fill-opacity="0.8"/>
<circle cx="617.24" cy="505.99" r="1.20" fill="#c8f868" fill-opacity="0.8"/>
<circle cx="615.61" cy="512.38" r="1.20" fill="#c8f868" fill-opacity="0.8"/>
<circle cx="618.96" cy="508.79" r="1.20" fill="#c8f868" fill-opacity="0.8"/>
<circle cx="617.53" cy="511.11" r="1.20" fill="#c8f868" fill-opacity="0.8"/>
<circle cx="618.08" cy="501.54" r="1.20" fill="#c8f868" fill-opacity="0.8"/>
<circle cx="618.91" cy="503.33" r="1.20" fill="#c8f868" fill-opacity="0.8"/>
<circle cx="620.89" cy="513.71" r="1.20" fill="#c8f868" fill-opacity="0.8"/>
<circle cx="621.18" cy="509.80" r="1.20" fill="#c8f868" fill-opacity="0.8"/>
<circle cx="620.56" cy="507.65" r="1.20" fill="#c8f868" fill-opacity="0.8"/>
<line x1="618.40" y1="506.62" x2="618.40" y2="495.78" stroke="#333" stroke-width="0.45"/>
<line x1="618.40" y1="517.47" x2="618.40" y2="535.22" stroke="#333" stroke-width="0.45"/>
<rect x="611.40" y="506.62" width="14.00" height="10.85" fill="#fff" stroke="#444" stroke-width="0.5" fill-opacity="0.35"/>
<line x1="611.40" y1="510.57" x2="625.40" y2="510.57" stroke="#222" stroke-width="0.8"/>
<text x="618.4" y="591.6" font-size="3.9" text-anchor="middle" fill="#333">n = 54</text>
<text x="618.4" y="607.0" font-size="6.3" text-anchor="middle" fill="#111">Basal</text>
<line x1="618.40" y1="596.20" x2="618.40" y2="598.20" stroke="#444" stroke-width="0.5"/>
<circle cx="637.93" cy="541.11" r="1.20" fill="#0b6b0b" fill-opacity="0.8"/>
<circle cx="639.29" cy="532.82" r="1.20" fill="#0b6b0b" fill-opacity="0.8"/>
<circle cx="638.90" cy="530.80" r="1.20" fill="#0b6b0b" fill-opacity="0.8"/>
<circle cx="637.00" cy="511.50" r="1.20" fill="#0b6b0b" fill-opacity="0.8"/>
<circle cx="633.16" cy="546.42" r="1.20" fill="#0b6b0b" fill-opacity="0.8"/>
<circle cx="639.45" cy="538.29" r="1.20" fill="#0b6b0b" fill-opacity="0.8"/>
<circle cx="634.65" cy="539.68" r="1.20" fill="#0b6b0b" fill-opacity="0.8"/>
<circle cx="638.50" cy="521.17" r="1.20" fill="#0b6b0b" fill-opacity="0.8"/>
<circle cx="634.09" cy="549.91" r="1.20" fill="#0b6b0b" fill-opacity="0.8"/>
<circle cx="637.80" cy="547.22" r="1.20" fill="#0b6b0b" fill-opacity="0.8"/>
<circle cx="636.70" cy="532.75" r="1.20" fill="#0b6b0b" fill-opacity="0.8"/>
<circle cx="638.70" cy="537.27" r="1.20" fill="#0b6b0b" fill-opacity="0.8"/>
<circle cx="639.14" cy="548.96" r="1.20" fill="#0b6b0b" fill-opacity="0.8"/>
<circle cx="634.29" cy="547.97" r="1.20" fill="#0b6b0b" fill-opacity="0.8"/>
<circle cx="635.93" cy="531.04" r="1.20" fill="#0b6b0b" fill-opacity="0.8"/>
<circle cx="633.31" cy="540.08" r="1.20" fill="#0b6b0b" fill-opacity="0.8"/>
<circle cx="636.79" cy="535.64" r="1.20" fill="#0b6b0b" fill-opacity="0.8"/>
<circle cx="633.79" cy="530.13" r="1.20" fill="#0b6b0b" fill-opacity="0.8"/>
<circle cx="639.57" cy="558.61" r="1.20" fill="#0b6b0b" fill-opacity="0.8"/>
<circle cx="637.37" cy="520.58" r="1.20" fill="#0b6b0b" fill-opacity="0.8"/>
<circle cx="633.85" cy="547.27" r="1.20" fill="#0b6b0b" fill-opacity="0.8"/>
<circle cx="633.14" cy="556.98" r="1.20" fill="#0b6b0b" fill-opacity="0.8"/>
<circle cx="637.67" cy="513.17" r="1.20" fill="#0b6b0b" fill-opacity="0.8"/>
<circle cx="639.45" cy="537.98" r="1.20" fill="#0b6b0b" fill-opacity="0.8"/>
<circle cx="636.18" cy="523.07" r="1.20" fill="#0b6b0b" fill-opacity="0.8"/>
<circle cx="637.87" cy="538.71" r="1.20" fill="#0b6b0b" fill-opacity="0.8"/>
<circle cx="633.41" cy="561.75" r="1.20" fill="#0b6b0b" fill-opacity="0.8"/>
<circle cx="639.02" cy="561.21" r="1.20" fill="#0b6b0b" fill-opacity="0.8"/>
<circle cx="637.91" cy="547.12" r="1.20" fill="#0b6b0b" fill-opacity="0.8"/>
<circle cx="639.12" cy="547.66" r="1.20" fill="#0b6b0b" fill-opacity="0.8"/>
<circle cx="635.29" cy="562.94" r="1.20" fill="#0b6b0b" fill-opacity="0.8"/>
<circle cx="638.82" cy="552.06" r="1.20" fill="#0b6b0b" fill-opacity="0.8"/>
<circle cx="635.74" cy="566.43" r="1.20" fill="#0b6b0b" fill-opacity="0.8"/>
<circle cx="636.80" cy="534.69" r="1.20" fill="#0b6b0b" fill-opacity="0.8"/>
<circle cx="637.15" cy="565.89" r="1.20" fill="#0b6b0b" fill-opacity="0.8"/>
<circle cx="637.04" cy="553.66" r="1.20" fill="#0b6b0b" fill-opacity="0.8"/>
<circle cx="633.45" cy="529.72" r="1.20" fill="#0b6b0b" fill-opacity="0.8"/>
<circle cx="638.88" cy="567.11" r="1.20" fill="#0b6b0b" fill-opacity="0.8"/>
<circle cx="637.85" cy="572.30" r="1.20" fill="#0b6b0b" fill-opacity="0.8"/>
<circle cx="636.85" cy="557.10" r="1.20" fill="#0b6b0b" fill-opacity="0.8"/>
<circle cx="635.90" cy="527.66" r="1.20" fill="#0b6b0b" fill-opacity="0.8"/>
<circle cx="638.00" cy="538.31" r="1.20" fill="#0b6b0b" fill-opacity="0.8"/>
<circle cx="633.10" cy="545.69" r="1.20" fill="#0b6b0b" fill-opacity="0.8"/>
<circle cx="634.47" cy="552.94" r="1.20" fill="#0b6b0b" fill-opacity="0.8"/>
<circle cx="637.65" cy="549.86" r="1.20" fill="#0b6b0b" fill-opacity="0.8"/>
<circle cx="639.16" cy="558.83" r="1.20" fill="#0b6b0b" fill-opacity="0.8"/>
<circle cx="634.64" cy="540.83" r="1.20" fill="#0b6b0b" fill-opacity="0.8"/>
<circle cx="637.51" cy="530.31" r="1.20" fill="#0b6b0b" fill-opacity="0.8"/>
<circle cx="634.28" cy="540.36" r="1.20" fill="#0b6b0b" fill-opacity="0.8"/>
<circle cx="637.39" cy="527.65" r="1.20" fill="#0b6b0b" fill-opacity="0.8"/>
<circle cx="635.91" cy="516.76" r="1.20" fill="#0b6b0b" fill-opacity="0.8"/>
<circle cx="637.43" cy="532.27" r="1.20" fill="#0b6b0b" fill-opacity="0.8"/>
<circle cx="634.25" cy="548.31" r="1.20" fill="#0b6b0b" fill-opacity="0.8"/>
<circle cx="639.12" cy="562.19" r="1.20" fill="#0b6b0b" fill-opacity="0.8"/>
<circle cx="638.89" cy="531.37" r="1.20" fill="#0b6b0b" fill-opacity="0.8"/>
<circle cx="635.05" cy="553.81" r="1.20" fill="#0b6b0b" fill-opacity="0.8"/>
<circle cx="633.83" cy="529.87" r="1.20" fill="#0b6b0b" fill-opacity="0.8"/>
<circle cx="638.67" cy="565.55" r="1.20" fill="#0b6b0b" fill-opacity="0.8"/>
<circle cx="637.74" cy="540.59" r="1.20" fill="#0b6b0b" fill-opacity="0.8"/>
<circle cx="634.05" cy="531.32" r="1.20" fill="#0b6b0b" fill-opacity="0.8"/>
<circle cx="635.96" cy="544.32" r="1.20" fill="#0b6b0b" fill-opacity="0.8"/>
<circle cx="635.72" cy="542.53" r="1.20" fill="#0b6b0b" fill-opacity="0.8"/>
<circle cx="637.15" cy="532.35" r="1.20" fill="#0b6b0b" fill-opacity="0.8"/>
<circle cx="638.61" cy="552.28" r="1.20" fill="#0b6b0b" fill-opacity="0.8"/>
<circle cx="639.58" cy="540.70" r="1.20" fill="#0b6b0b" fill-opacity="0.8"/>
<circle cx="633.11" cy="545.96" r="1.20" fill="#0b6b0b" fill-opacity="0.8"/>
<circle cx="638.84" cy="539.65" r="1.20" fill="#0b6b0b" fill-opacity="0.8"/>
<circle cx="636.78" cy="521.68" r="1.20" fill="#0b6b0b" fill-opacity="0.8"/>
<line x1="636.30" y1="532.26" x2="636.30" y2="509.58" stroke="#333" stroke-width="0.45"/>
<line x1="636.30" y1="549.52" x2="636.30" y2="573.67" stroke="#333" stroke-width="0.45"/>
<rect x="629.30" y="532.26" width="14.00" height="17.26" fill="#fff" stroke="#444" stroke-width="0.5" fill-opacity="0.35"/>
<line x1="629.30" y1="541.13" x2="643.30" y2="541.13" stroke="#222" stroke-width="0.8"/>
<text x="636.3" y="591.6" font-size="3.9" text-anchor="middle" fill="#333">n = 68</text>
<text x="636.3" y="607.0" font-size="6.3" text-anchor="middle" fill="#111">Her2</text>
<line x1="636.30" y1="596.20" x2="636.30" y2="598.20" stroke="#444" stroke-width="0.5"/>
<circle cx="653.40" cy="527.07" r="1.20" fill="#0a0a96" fill-opacity="0.8"/>
<circle cx="652.22" cy="531.61" r="1.20" fill="#0a0a96" fill-opacity="0.8"/>
<circle cx="654.39" cy="534.69" r="1.20" fill="#0a0a96" fill-opacity="0.8"/>
<circle cx="652.91" cy="528.53" r="1.20" fill="#0a0a96" fill-opacity="0.8"/>
<circle cx="655.58" cy="529.74" r="1.20" fill="#0a0a96" fill-opacity="0.8"/>
<circle cx="654.34" cy="529.18" r="1.20" fill="#0a0a96" fill-opacity="0.8"/>
<circle cx="656.79" cy="545.07" r="1.20" fill="#0a0a96" fill-opacity="0.8"/>
<circle cx="657.82" cy="545.89" r="1.20" fill="#0a0a96" fill-opacity="0.8"/>
<circle cx="654.53" cy="535.68" r="1.20" fill="#0a0a96" fill-opacity="0.8"/>
<circle cx="652.52" cy="540.09" r="1.20" fill="#0a0a96" fill-opacity="0.8"/>
<circle cx="656.16" cy="517.80" r="1.20" fill="#0a0a96" fill-opacity="0.8"/>
<circle cx="652.52" cy="531.28" r="1.20" fill="#0a0a96" fill-opacity="0.8"/>
<circle cx="656.04" cy="533.91" r="1.20" fill="#0a0a96" fill-opacity="0.8"/>
<circle cx="654.84" cy="520.57" r="1.20" fill="#0a0a96" fill-opacity="0.8"/>
<circle cx="653.98" cy="548.46" r="1.20" fill="#0a0a96" fill-opacity="0.8"/>
<circle cx="656.69" cy="546.45" r="1.20" fill="#0a0a96" fill-opacity="0.8"/>
<circle cx="657.64" cy="527.71" r="1.20" fill="#0a0a96" fill-opacity="0.8"/>
<circle cx="656.21" cy="535.30" r="1.20" fill="#0a0a96" fill-opacity="0.8"/>
<circle cx="655.55" cy="522.61" r="1.20" fill="#0a0a96" fill-opacity="0.8"/>
<circle cx="657.49" cy="521.99" r="1.20" fill="#0a0a96" fill-opacity="0.8"/>
<circle cx="657.28" cy="544.15" r="1.20" fill="#0a0a96" fill-opacity="0.8"/>
<circle cx="656.72" cy="520.64" r="1.20" fill="#0a0a96" fill-opacity="0.8"/>
<circle cx="655.73" cy="518.82" r="1.20" fill="#0a0a96" fill-opacity="0.8"/>
<circle cx="652.69" cy="537.17" r="1.20" fill="#0a0a96" fill-opacity="0.8"/>
<circle cx="655.66" cy="536.41" r="1.20" fill="#0a0a96" fill-opacity="0.8"/>
<circle cx="656.18" cy="555.57" r="1.20" fill="#0a0a96" fill-opacity="0.8"/>
<circle cx="657.97" cy="525.97" r="1.20" fill="#0a0a96" fill-opacity="0.8"/>
<circle cx="656.68" cy="516.51" r="1.20" fill="#0a0a96" fill-opacity="0.8"/>
<circle cx="653.48" cy="534.52" r="1.20" fill="#0a0a96" fill-opacity="0.8"/>
<circle cx="653.67" cy="510.96" r="1.20" fill="#0a0a96" fill-opacity="0.8"/>
<circle cx="651.86" cy="545.78" r="1.20" fill="#0a0a96" fill-opacity="0.8"/>
<circle cx="656.52" cy="547.36" r="1.20" fill="#0a0a96" fill-opacity="0.8"/>
<circle cx="654.61" cy="526.38" r="1.20" fill="#0a0a96" fill-opacity="0.8"/>
<circle cx="651.74" cy="528.12" r="1.20" fill="#0a0a96" fill-opacity="0.8"/>
<circle cx="653.58" cy="529.83" r="1.20" fill="#0a0a96" fill-opacity="0.8"/>
<circle cx="656.66" cy="539.77" r="1.20" fill="#0a0a96" fill-opacity="0.8"/>
<circle cx="654.81" cy="527.64" r="1.20" fill="#0a0a96" fill-opacity="0.8"/>
<circle cx="656.22" cy="526.64" r="1.20" fill="#0a0a96" fill-opacity="0.8"/>
<circle cx="657.73" cy="521.76" r="1.20" fill="#0a0a96" fill-opacity="0.8"/>
<circle cx="654.65" cy="548.81" r="1.20" fill="#0a0a96" fill-opacity="0.8"/>
<circle cx="652.81" cy="527.10" r="1.20" fill="#0a0a96" fill-opacity="0.8"/>
<circle cx="654.88" cy="533.97" r="1.20" fill="#0a0a96" fill-opacity="0.8"/>
<circle cx="655.64" cy="537.43" r="1.20" fill="#0a0a96" fill-opacity="0.8"/>
<circle cx="654.85" cy="512.21" r="1.20" fill="#0a0a96" fill-opacity="0.8"/>
<circle cx="653.42" cy="523.15" r="1.20" fill="#0a0a96" fill-opacity="0.8"/>
<circle cx="653.89" cy="545.92" r="1.20" fill="#0a0a96" fill-opacity="0.8"/>
<circle cx="652.72" cy="516.74" r="1.20" fill="#0a0a96" fill-opacity="0.8"/>
<circle cx="657.09" cy="555.01" r="1.20" fill="#0a0a96" fill-opacity="0.8"/>
<circle cx="655.20" cy="516.94" r="1.20" fill="#0a0a96" fill-opacity="0.8"/>
<circle cx="652.67" cy="535.34" r="1.20" fill="#0a0a96" fill-opacity="0.8"/>
<circle cx="655.42" cy="547.04" r="1.20" fill="#0a0a96" fill-opacity="0.8"/>
<circle cx="651.49" cy="535.65" r="1.20" fill="#0a0a96" fill-opacity="0.8"/>
<circle cx="654.02" cy="517.10" r="1.20" fill="#0a0a96" fill-opacity="0.8"/>
<circle cx="656.75" cy="535.21" r="1.20" fill="#0a0a96" fill-opacity="0.8"/>
<circle cx="656.00" cy="546.01" r="1.20" fill="#0a0a96" fill-opacity="0.8"/>
<circle cx="651.75" cy="537.99" r="1.20" fill="#0a0a96" fill-opacity="0.8"/>
<circle cx="657.81" cy="545.12" r="1.20" fill="#0a0a96" fill-opacity="0.8"/>
<circle cx="657.58" cy="535.45" r="1.20" fill="#0a0a96" fill-opacity="0.8"/>
<circle cx="652.16" cy="534.01" r="1.20" fill="#0a0a96" fill-opacity="0.8"/>
<circle cx="654.25" cy="517.85" r="1.20" fill="#0a0a96" fill-opacity="0.8"/>
<circle cx="654.54" cy="521.21" r="1.20" fill="#0a0a96" fill-opacity="0.8"/>
<circle cx="653.46" cy="557.49" r="1.20" fill="#0a0a96" fill-opacity="0.8"/>
<circle cx="657.59" cy="525.87" r="1.20" fill="#0a0a96" fill-opacity="0.8"/>
<circle cx="652.18" cy="515.67" r="1.20" fill="#0a0a96" fill-opacity="0.8"/>
<circle cx="652.62" cy="531.76" r="1.20" fill="#0a0a96" fill-opacity="0.8"/>
<line x1="654.70" y1="521.41" x2="654.70" y2="510.57" stroke="#333" stroke-width="0.45"/>
<line x1="654.70" y1="542.12" x2="654.70" y2="569.73" stroke="#333" stroke-width="0.45"/>
<rect x="647.70" y="521.41" width="14.00" height="20.71" fill="#fff" stroke="#444" stroke-width="0.5" fill-opacity="0.35"/>
<line x1="647.70" y1="532.75" x2="661.70" y2="532.75" stroke="#222" stroke-width="0.8"/>
<text x="654.7" y="591.6" font-size="3.9" text-anchor="middle" fill="#333">n = 65</text>
<text x="654.7" y="607.0" font-size="6.3" text-anchor="middle" fill="#111">LumA</text>
<line x1="654.70" y1="596.20" x2="654.70" y2="598.20" stroke="#444" stroke-width="0.5"/>
<circle cx="670.55" cy="543.48" r="1.20" fill="#a9d5e6" fill-opacity="0.8"/>
<circle cx="671.42" cy="545.51" r="1.20" fill="#a9d5e6" fill-opacity="0.8"/>
<circle cx="673.21" cy="552.98" r="1.20" fill="#a9d5e6" fill-opacity="0.8"/>
<circle cx="669.83" cy="519.94" r="1.20" fill="#a9d5e6" fill-opacity="0.8"/>
<circle cx="672.47" cy="524.50" r="1.20" fill="#a9d5e6" fill-opacity="0.8"/>
<circle cx="672.61" cy="540.18" r="1.20" fill="#a9d5e6" fill-opacity="0.8"/>
<circle cx="671.97" cy="529.68" r="1.20" fill="#a9d5e6" fill-opacity="0.8"/>
<circle cx="672.60" cy="551.72" r="1.20" fill="#a9d5e6" fill-opacity="0.8"/>
<circle cx="670.09" cy="528.68" r="1.20" fill="#a9d5e6" fill-opacity="0.8"/>
<circle cx="673.34" cy="533.83" r="1.20" fill="#a9d5e6" fill-opacity="0.8"/>
<circle cx="672.60" cy="518.78" r="1.20" fill="#a9d5e6" fill-opacity="0.8"/>
<circle cx="674.83" cy="527.25" r="1.20" fill="#a9d5e6" fill-opacity="0.8"/>
<circle cx="670.58" cy="557.60" r="1.20" fill="#a9d5e6" fill-opacity="0.8"/>
<circle cx="675.14" cy="541.82" r="1.20" fill="#a9d5e6" fill-opacity="0.8"/>
<circle cx="671.15" cy="568.87" r="1.20" fill="#a9d5e6" fill-opacity="0.8"/>
<circle cx="670.48" cy="554.33" r="1.20" fill="#a9d5e6" fill-opacity="0.8"/>
<circle cx="675.79" cy="507.38" r="1.20" fill="#a9d5e6" fill-opacity="0.8"/>
<circle cx="670.63" cy="533.71" r="1.20" fill="#a9d5e6" fill-opacity="0.8"/>
<circle cx="673.94" cy="545.64" r="1.20" fill="#a9d5e6" fill-opacity="0.8"/>
<circle cx="674.66" cy="540.57" r="1.20" fill="#a9d5e6" fill-opacity="0.8"/>
<circle cx="671.87" cy="533.03" r="1.20" fill="#a9d5e6" fill-opacity="0.8"/>
<circle cx="671.74" cy="538.12" r="1.20" fill="#a9d5e6" fill-opacity="0.8"/>
<circle cx="673.66" cy="548.08" r="1.20" fill="#a9d5e6" fill-opacity="0.8"/>
<circle cx="673.64" cy="529.65" r="1.20" fill="#a9d5e6" fill-opacity="0.8"/>
<circle cx="675.20" cy="538.97" r="1.20" fill="#a9d5e6" fill-opacity="0.8"/>
<circle cx="672.44" cy="532.49" r="1.20" fill="#a9d5e6" fill-opacity="0.8"/>
<circle cx="674.16" cy="541.69" r="1.20" fill="#a9d5e6" fill-opacity="0.8"/>
<circle cx="670.29" cy="564.15" r="1.20" fill="#a9d5e6" fill-opacity="0.8"/>
<circle cx="669.48" cy="540.57" r="1.20" fill="#a9d5e6" fill-opacity="0.8"/>
<circle cx="672.75" cy="536.72" r="1.20" fill="#a9d5e6" fill-opacity="0.8"/>
<circle cx="672.50" cy="537.45" r="1.20" fill="#a9d5e6" fill-opacity="0.8"/>
<circle cx="670.25" cy="548.21" r="1.20" fill="#a9d5e6" fill-opacity="0.8"/>
<circle cx="670.39" cy="543.87" r="1.20" fill="#a9d5e6" fill-opacity="0.8"/>
<circle cx="675.30" cy="514.35" r="1.20" fill="#a9d5e6" fill-opacity="0.8"/>
<circle cx="669.65" cy="580.67" r="1.20" fill="#a9d5e6" fill-opacity="0.8"/>
<circle cx="672.14" cy="504.24" r="1.20" fill="#a9d5e6" fill-opacity="0.8"/>
<circle cx="674.20" cy="525.42" r="1.20" fill="#a9d5e6" fill-opacity="0.8"/>
<circle cx="672.50" cy="548.36" r="1.20" fill="#a9d5e6" fill-opacity="0.8"/>
<circle cx="671.92" cy="524.47" r="1.20" fill="#a9d5e6" fill-opacity="0.8"/>
<circle cx="673.77" cy="542.22" r="1.20" fill="#a9d5e6" fill-opacity="0.8"/>
<circle cx="674.74" cy="541.67" r="1.20" fill="#a9d5e6" fill-opacity="0.8"/>
<circle cx="674.03" cy="532.88" r="1.20" fill="#a9d5e6" fill-opacity="0.8"/>
<circle cx="671.76" cy="524.39" r="1.20" fill="#a9d5e6" fill-opacity="0.8"/>
<circle cx="672.49" cy="536.94" r="1.20" fill="#a9d5e6" fill-opacity="0.8"/>
<circle cx="669.10" cy="531.23" r="1.20" fill="#a9d5e6" fill-opacity="0.8"/>
<circle cx="673.79" cy="517.92" r="1.20" fill="#a9d5e6" fill-opacity="0.8"/>
<circle cx="674.85" cy="557.80" r="1.20" fill="#a9d5e6" fill-opacity="0.8"/>
<circle cx="673.08" cy="551.19" r="1.20" fill="#a9d5e6" fill-opacity="0.8"/>
<circle cx="672.43" cy="551.82" r="1.20" fill="#a9d5e6" fill-opacity="0.8"/>
<circle cx="670.76" cy="511.80" r="1.20" fill="#a9d5e6" fill-opacity="0.8"/>
<circle cx="675.20" cy="543.25" r="1.20" fill="#a9d5e6" fill-opacity="0.8"/>
<circle cx="674.54" cy="541.10" r="1.20" fill="#a9d5e6" fill-opacity="0.8"/>
<circle cx="671.76" cy="567.50" r="1.20" fill="#a9d5e6" fill-opacity="0.8"/>
<circle cx="673.72" cy="514.29" r="1.20" fill="#a9d5e6" fill-opacity="0.8"/>
<circle cx="674.22" cy="559.80" r="1.20" fill="#a9d5e6" fill-opacity="0.8"/>
<circle cx="673.91" cy="538.61" r="1.20" fill="#a9d5e6" fill-opacity="0.8"/>
<circle cx="669.48" cy="556.17" r="1.20" fill="#a9d5e6" fill-opacity="0.8"/>
<circle cx="669.07" cy="549.82" r="1.20" fill="#a9d5e6" fill-opacity="0.8"/>
<circle cx="671.42" cy="525.27" r="1.20" fill="#a9d5e6" fill-opacity="0.8"/>
<circle cx="670.58" cy="554.35" r="1.20" fill="#a9d5e6" fill-opacity="0.8"/>
<circle cx="675.42" cy="557.04" r="1.20" fill="#a9d5e6" fill-opacity="0.8"/>
<circle cx="673.49" cy="547.35" r="1.20" fill="#a9d5e6" fill-opacity="0.8"/>
<circle cx="672.87" cy="552.53" r="1.20" fill="#a9d5e6" fill-opacity="0.8"/>
<circle cx="675.80" cy="555.49" r="1.20" fill="#a9d5e6" fill-opacity="0.8"/>
<circle cx="673.37" cy="543.38" r="1.20" fill="#a9d5e6" fill-opacity="0.8"/>
<circle cx="675.66" cy="548.21" r="1.20" fill="#a9d5e6" fill-opacity="0.8"/>
<circle cx="669.16" cy="565.62" r="1.20" fill="#a9d5e6" fill-opacity="0.8"/>
<circle cx="670.75" cy="559.50" r="1.20" fill="#a9d5e6" fill-opacity="0.8"/>
<circle cx="671.73" cy="557.29" r="1.20" fill="#a9d5e6" fill-opacity="0.8"/>
<circle cx="671.55" cy="530.26" r="1.20" fill="#a9d5e6" fill-opacity="0.8"/>
<circle cx="669.67" cy="536.90" r="1.20" fill="#a9d5e6" fill-opacity="0.8"/>
<circle cx="672.74" cy="540.34" r="1.20" fill="#a9d5e6" fill-opacity="0.8"/>
<circle cx="672.45" cy="505.87" r="1.20" fill="#a9d5e6" fill-opacity="0.8"/>
<circle cx="675.77" cy="520.14" r="1.20" fill="#a9d5e6" fill-opacity="0.8"/>
<circle cx="673.34" cy="544.34" r="1.20" fill="#a9d5e6" fill-opacity="0.8"/>
<circle cx="673.06" cy="537.85" r="1.20" fill="#a9d5e6" fill-opacity="0.8"/>
<circle cx="674.16" cy="545.99" r="1.20" fill="#a9d5e6" fill-opacity="0.8"/>
<circle cx="670.09" cy="505.20" r="1.20" fill="#a9d5e6" fill-opacity="0.8"/>
<circle cx="672.21" cy="529.97" r="1.20" fill="#a9d5e6" fill-opacity="0.8"/>
<circle cx="673.16" cy="531.17" r="1.20" fill="#a9d5e6" fill-opacity="0.8"/>
<circle cx="669.40" cy="524.03" r="1.20" fill="#a9d5e6" fill-opacity="0.8"/>
<circle cx="672.58" cy="524.63" r="1.20" fill="#a9d5e6" fill-opacity="0.8"/>
<circle cx="673.07" cy="545.71" r="1.20" fill="#a9d5e6" fill-opacity="0.8"/>
<circle cx="673.45" cy="548.74" r="1.20" fill="#a9d5e6" fill-opacity="0.8"/>
<circle cx="672.81" cy="530.47" r="1.20" fill="#a9d5e6" fill-opacity="0.8"/>
<circle cx="671.01" cy="545.39" r="1.20" fill="#a9d5e6" fill-opacity="0.8"/>
<circle cx="669.10" cy="515.65" r="1.20" fill="#a9d5e6" fill-opacity="0.8"/>
<circle cx="670.06" cy="540.00" r="1.20" fill="#a9d5e6" fill-opacity="0.8"/>
<circle cx="674.13" cy="535.49" r="1.20" fill="#a9d5e6" fill-opacity="0.8"/>
<circle cx="674.09" cy="566.09" r="1.20" fill="#a9d5e6" fill-opacity="0.8"/>
<circle cx="669.34" cy="518.68" r="1.20" fill="#a9d5e6" fill-opacity="0.8"/>
<circle cx="669.50" cy="542.82" r="1.20" fill="#a9d5e6" fill-opacity="0.8"/>
<circle cx="672.25" cy="526.29" r="1.20" fill="#a9d5e6" fill-opacity="0.8"/>
<circle cx="675.62" cy="549.50" r="1.20" fill="#a9d5e6" fill-opacity="0.8"/>
<circle cx="675.37" cy="539.39" r="1.20" fill="#a9d5e6" fill-opacity="0.8"/>
<circle cx="673.91" cy="520.96" r="1.20" fill="#a9d5e6" fill-opacity="0.8"/>
<circle cx="674.55" cy="583.09" r="1.20" fill="#a9d5e6" fill-opacity="0.8"/>
<circle cx="673.10" cy="531.49" r="1.20" fill="#a9d5e6" fill-opacity="0.8"/>
<circle cx="672.10" cy="523.60" r="1.20" fill="#a9d5e6" fill-opacity="0.8"/>
<circle cx="670.38" cy="525.54" r="1.20" fill="#a9d5e6" fill-opacity="0.8"/>
<circle cx="669.85" cy="521.84" r="1.20" fill="#a9d5e6" fill-opacity="0.8"/>
<circle cx="672.01" cy="533.94" r="1.20" fill="#a9d5e6" fill-opacity="0.8"/>
<circle cx="670.78" cy="548.73" r="1.20" fill="#a9d5e6" fill-opacity="0.8"/>
<circle cx="672.96" cy="555.28" r="1.20" fill="#a9d5e6" fill-opacity="0.8"/>
<circle cx="672.61" cy="564.09" r="1.20" fill="#a9d5e6" fill-opacity="0.8"/>
<circle cx="675.78" cy="526.89" r="1.20" fill="#a9d5e6" fill-opacity="0.8"/>
<circle cx="670.62" cy="515.59" r="1.20" fill="#a9d5e6" fill-opacity="0.8"/>
<circle cx="669.77" cy="547.68" r="1.20" fill="#a9d5e6" fill-opacity="0.8"/>
<circle cx="673.25" cy="518.56" r="1.20" fill="#a9d5e6" fill-opacity="0.8"/>
<circle cx="671.44" cy="557.40" r="1.20" fill="#a9d5e6" fill-opacity="0.8"/>
<circle cx="672.84" cy="543.38" r="1.20" fill="#a9d5e6" fill-opacity="0.8"/>
<circle cx="673.02" cy="516.39" r="1.20" fill="#a9d5e6" fill-opacity="0.8"/>
<circle cx="670.29" cy="557.84" r="1.20" fill="#a9d5e6" fill-opacity="0.8"/>
<circle cx="670.69" cy="559.74" r="1.20" fill="#a9d5e6" fill-opacity="0.8"/>
<circle cx="674.98" cy="505.34" r="1.20" fill="#a9d5e6" fill-opacity="0.8"/>
<circle cx="669.27" cy="544.61" r="1.20" fill="#a9d5e6" fill-opacity="0.8"/>
<circle cx="671.89" cy="528.51" r="1.20" fill="#a9d5e6" fill-opacity="0.8"/>
<circle cx="673.24" cy="535.47" r="1.20" fill="#a9d5e6" fill-opacity="0.8"/>
<circle cx="669.49" cy="524.39" r="1.20" fill="#a9d5e6" fill-opacity="0.8"/>
<circle cx="669.59" cy="528.32" r="1.20" fill="#a9d5e6" fill-opacity="0.8"/>
<circle cx="673.29" cy="549.06" r="1.20" fill="#a9d5e6" fill-opacity="0.8"/>
<circle cx="671.54" cy="558.00" r="1.20" fill="#a9d5e6" fill-opacity="0.8"/>
<circle cx="671.34" cy="550.90" r="1.20" fill="#a9d5e6" fill-opacity="0.8"/>
<circle cx="674.06" cy="538.69" r="1.20" fill="#a9d5e6" fill-opacity="0.8"/>
<circle cx="669.81" cy="536.87" r="1.20" fill="#a9d5e6" fill-opacity="0.8"/>
<circle cx="674.50" cy="545.41" r="1.20" fill="#a9d5e6" fill-opacity="0.8"/>
<circle cx="670.45" cy="559.39" r="1.20" fill="#a9d5e6" fill-opacity="0.8"/>
<circle cx="671.89" cy="559.09" r="1.20" fill="#a9d5e6" fill-opacity="0.8"/>
<circle cx="671.51" cy="541.61" r="1.20" fill="#a9d5e6" fill-opacity="0.8"/>
<circle cx="673.44" cy="511.44" r="1.20" fill="#a9d5e6" fill-opacity="0.8"/>
<circle cx="672.73" cy="526.18" r="1.20" fill="#a9d5e6" fill-opacity="0.8"/>
<circle cx="674.07" cy="541.10" r="1.20" fill="#a9d5e6" fill-opacity="0.8"/>
<circle cx="671.51" cy="525.50" r="1.20" fill="#a9d5e6" fill-opacity="0.8"/>
<circle cx="669.66" cy="548.10" r="1.20" fill="#a9d5e6" fill-opacity="0.8"/>
<circle cx="669.56" cy="535.63" r="1.20" fill="#a9d5e6" fill-opacity="0.8"/>
<circle cx="672.84" cy="544.65" r="1.20" fill="#a9d5e6" fill-opacity="0.8"/>
<circle cx="671.03" cy="564.03" r="1.20" fill="#a9d5e6" fill-opacity="0.8"/>
<circle cx="674.27" cy="537.87" r="1.20" fill="#a9d5e6" fill-opacity="0.8"/>
<circle cx="673.50" cy="530.45" r="1.20" fill="#a9d5e6" fill-opacity="0.8"/>
<circle cx="669.56" cy="535.12" r="1.20" fill="#a9d5e6" fill-opacity="0.8"/>
<circle cx="673.72" cy="548.56" r="1.20" fill="#a9d5e6" fill-opacity="0.8"/>
<circle cx="670.92" cy="516.23" r="1.20" fill="#a9d5e6" fill-opacity="0.8"/>
<circle cx="673.94" cy="530.90" r="1.20" fill="#a9d5e6" fill-opacity="0.8"/>
<circle cx="671.49" cy="528.54" r="1.20" fill="#a9d5e6" fill-opacity="0.8"/>
<circle cx="672.87" cy="521.79" r="1.20" fill="#a9d5e6" fill-opacity="0.8"/>
<circle cx="675.25" cy="523.47" r="1.20" fill="#a9d5e6" fill-opacity="0.8"/>
<circle cx="671.98" cy="507.71" r="1.20" fill="#a9d5e6" fill-opacity="0.8"/>
<circle cx="674.46" cy="553.01" r="1.20" fill="#a9d5e6" fill-opacity="0.8"/>
<circle cx="671.72" cy="544.80" r="1.20" fill="#a9d5e6" fill-opacity="0.8"/>
<circle cx="675.36" cy="527.16" r="1.20" fill="#a9d5e6" fill-opacity="0.8"/>
<circle cx="671.46" cy="530.74" r="1.20" fill="#a9d5e6" fill-opacity="0.8"/>
<circle cx="671.49" cy="547.47" r="1.20" fill="#a9d5e6" fill-opacity="0.8"/>
<circle cx="671.64" cy="550.49" r="1.20" fill="#a9d5e6" fill-opacity="0.8"/>
<line x1="672.40" y1="530.29" x2="672.40" y2="502.68" stroke="#333" stroke-width="0.45"/>
<line x1="672.40" y1="552.47" x2="672.40" y2="583.53" stroke="#333" stroke-width="0.45"/>
<rect x="665.40" y="530.29" width="14.00" height="22.19" fill="#fff" stroke="#444" stroke-width="0.5" fill-opacity="0.35"/>
<line x1="665.40" y1="539.16" x2="679.40" y2="539.16" stroke="#222" stroke-width="0.8"/>
<text x="672.4" y="591.6" font-size="3.9" text-anchor="middle" fill="#333">n = 153</text>
<text x="672.4" y="607.0" font-size="6.3" text-anchor="middle" fill="#111">LumB</text>
<line x1="672.40" y1="596.20" x2="672.40" y2="598.20" stroke="#444" stroke-width="0.5"/>
<line x1="617.60" y1="493.20" x2="672.70" y2="493.20" stroke="#555" stroke-width="0.4"/>
<text x="636.8" y="498.6" font-size="4.2" text-anchor="middle" fill="#222">P = 3 × 10<tspan dy="-1.4" font-size="2.6">−18</tspan></text>
<text x="670.5" y="498.6" font-size="4.2" text-anchor="middle" fill="#222">P = 2 × 10<tspan dy="-1.4" font-size="2.6">−22</tspan></text>
<text x="653.5" y="506.6" font-size="4.2" text-anchor="middle" fill="#222">P = 6 × 10<tspan dy="-1.4" font-size="2.6">−16</tspan></text>
<text x="0.0" y="734.2" font-size="13" font-weight="bold" stroke="#000" stroke-width="0.45">i</text>
<text x="45.2" y="738.2" font-size="8.6">Sample-wise pseudobulk expression across ...</text>
<line x1="35.20" y1="889.00" x2="37.30" y2="889.00" stroke="#444" stroke-width="0.5"/>
<text x="33.8" y="891.1" font-size="5.8" text-anchor="end" fill="#222">0</text>
<line x1="35.20" y1="856.80" x2="37.30" y2="856.80" stroke="#444" stroke-width="0.5"/>
<text x="33.8" y="858.9" font-size="5.8" text-anchor="end" fill="#222">25</text>
<line x1="35.20" y1="824.60" x2="37.30" y2="824.60" stroke="#444" stroke-width="0.5"/>
<text x="33.8" y="826.7" font-size="5.8" text-anchor="end" fill="#222">50</text>
<line x1="35.20" y1="792.40" x2="37.30" y2="792.40" stroke="#444" stroke-width="0.5"/>
<text x="33.8" y="794.5" font-size="5.8" text-anchor="end" fill="#222">75</text>
<line x1="35.20" y1="760.20" x2="37.30" y2="760.20" stroke="#444" stroke-width="0.5"/>
<text x="33.8" y="762.3" font-size="5.8" text-anchor="end" fill="#222">100</text>
<text x="12.5" y="824.0" font-size="7.85" text-anchor="middle" transform="rotate(-90 12.5 824)">Expression variance explained (%)</text>
<rect x="37.30" y="753.60" width="131.40" height="141.40" fill="#fff" stroke="#555" stroke-width="0.6"/>
<text x="105.0" y="750.8" font-size="7.2" text-anchor="middle" fill="#111">...Malignant</text>
<path d="M54.3 889.0L52.8 885.1L50.8 878.7L51.0 863.2L52.3 837.5L53.8 811.7L54.8 796.3L53.6 786.0L51.2 778.2L48.8 770.5L47.7 764.1L47.3 760.2L46.3 760.2L45.9 764.1L44.8 770.5L42.4 778.2L40.0 786.0L38.8 796.3L39.8 811.7L41.3 837.5L42.6 863.2L42.8 878.7L40.8 885.1L39.3 889.0Z" fill="#f8766d" stroke="#f8766d" stroke-width="0.3" stroke-linejoin="round"/>
<line x1="46.80" y1="889.00" x2="46.80" y2="760.20" stroke="#111" stroke-width="0.45"/>
<rect x="44.20" y="801.42" width="5.20" height="64.40" fill="none" stroke="#111" stroke-width="0.65"/>
<line x1="44.20" y1="834.90" x2="49.40" y2="834.90" stroke="#111" stroke-width="0.8"/>
<text x="46.8" y="757.6" font-size="3.2" text-anchor="middle" fill="#f8766d">TMEM69</text>
<text x="46.8" y="761.0" font-size="3.2" text-anchor="middle" fill="#f8766d">ASGA</text>
<text x="46.8" y="764.2" font-size="3.2" text-anchor="middle" fill="#f8766d">CCT13</text>
<path d="M70.5 889.0L70.0 886.4L67.5 881.3L65.5 873.5L64.7 856.8L64.3 824.6L63.8 798.8L63.4 779.5L62.9 762.8L62.1 762.8L61.6 779.5L61.2 798.8L60.7 824.6L60.3 856.8L59.5 873.5L57.5 881.3L55.0 886.4L54.5 889.0Z" fill="#c49a00" stroke="#c49a00" stroke-width="0.3" stroke-linejoin="round"/>
<line x1="62.50" y1="889.00" x2="62.50" y2="762.78" stroke="#111" stroke-width="0.45"/>
<rect x="59.90" y="823.31" width="5.20" height="64.40" fill="none" stroke="#111" stroke-width="0.65"/>
<line x1="59.90" y1="865.17" x2="65.10" y2="865.17" stroke="#111" stroke-width="0.8"/>
<text x="62.5" y="764.7" font-size="3.2" text-anchor="middle" fill="#c49a00">RPL9</text>
<text x="62.5" y="768.1" font-size="3.2" text-anchor="middle" fill="#c49a00">RPL26</text>
<text x="62.5" y="771.5" font-size="3.2" text-anchor="middle" fill="#c49a00">RPS20</text>
<path d="M85.3 889.0L85.3 888.4L78.8 888.0L78.8 838.8L77.8 838.8L77.8 888.0L71.3 888.4L71.3 889.0Z" fill="#53b400" stroke="#53b400" stroke-width="0.3" stroke-linejoin="round"/>
<line x1="78.30" y1="889.00" x2="78.30" y2="838.77" stroke="#53b400" stroke-width="0.9"/>
<line x1="75.50" y1="889.00" x2="81.10" y2="889.00" stroke="#111" stroke-width="0.8"/>
<text x="78.3" y="839.8" font-size="3.2" text-anchor="middle" fill="#53b400">ACP4</text>
<text x="78.3" y="843.0" font-size="3.2" text-anchor="middle" fill="#53b400">PCDH8</text>
<text x="78.3" y="846.4" font-size="3.2" text-anchor="middle" fill="#53b400">TLX1NC</text>
<path d="M101.6 889.0L101.6 888.4L95.0 888.0L95.0 773.1L94.1 773.1L94.1 888.0L87.6 888.4L87.6 889.0Z" fill="#00c094" stroke="#00c094" stroke-width="0.3" stroke-linejoin="round"/>
<line x1="94.60" y1="889.00" x2="94.60" y2="773.08" stroke="#00c094" stroke-width="0.9"/>
<line x1="91.80" y1="889.00" x2="97.40" y2="889.00" stroke="#111" stroke-width="0.8"/>
<text x="94.6" y="773.4" font-size="3.2" text-anchor="middle" fill="#00c094">PGAP1B</text>
<text x="94.6" y="779.9" font-size="3.2" text-anchor="middle" fill="#00c094">FERMC</text>
<text x="94.6" y="783.3" font-size="3.2" text-anchor="middle" fill="#00c094">OGDCR2</text>
<path d="M117.9 889.0L117.9 888.4L111.4 888.0L111.4 863.2L110.5 863.2L110.5 888.0L103.9 888.4L103.9 889.0Z" fill="#00b6eb" stroke="#00b6eb" stroke-width="0.3" stroke-linejoin="round"/>
<line x1="110.90" y1="889.00" x2="110.90" y2="863.24" stroke="#00b6eb" stroke-width="0.9"/>
<line x1="108.10" y1="889.00" x2="113.70" y2="889.00" stroke="#111" stroke-width="0.8"/>
<text x="110.9" y="861.4" font-size="3.2" text-anchor="middle" fill="#00b6eb">DABLG</text>
<text x="110.9" y="864.5" font-size="3.2" text-anchor="middle" fill="#00b6eb">TSHR2B</text>
<text x="110.9" y="867.9" font-size="3.2" text-anchor="middle" fill="#00b6eb">ASIP2</text>
<path d="M133.9 889.0L133.9 888.4L127.4 888.0L127.4 788.5L126.5 788.5L126.5 888.0L119.9 888.4L119.9 889.0Z" fill="#a58aff" stroke="#a58aff" stroke-width="0.3" stroke-linejoin="round"/>
<line x1="126.90" y1="889.00" x2="126.90" y2="788.54" stroke="#a58aff" stroke-width="0.9"/>
<line x1="124.10" y1="889.00" x2="129.70" y2="889.00" stroke="#111" stroke-width="0.8"/>
<text x="126.9" y="789.9" font-size="3.2" text-anchor="middle" fill="#a58aff">STAM2A</text>
<text x="126.9" y="793.0" font-size="3.2" text-anchor="middle" fill="#a58aff">TMEM4X</text>
<text x="126.9" y="802.3" font-size="3.2" text-anchor="middle" fill="#a58aff">ALDH6</text>
<text x="126.9" y="805.7" font-size="3.2" text-anchor="middle" fill="#a58aff">KRDAT</text>
<text x="126.9" y="809.6" font-size="3.2" text-anchor="middle" fill="#a58aff">DFXB2</text>
<path d="M149.7 889.0L149.7 888.4L143.1 888.0L143.1 842.6L142.2 842.6L142.2 888.0L135.7 888.4L135.7 889.0Z" fill="#fb61d7" stroke="#fb61d7" stroke-width="0.3" stroke-linejoin="round"/>
<line x1="142.70" y1="889.00" x2="142.70" y2="842.63" stroke="#fb61d7" stroke-width="0.9"/>
<line x1="139.90" y1="889.00" x2="145.50" y2="889.00" stroke="#111" stroke-width="0.8"/>
<text x="142.7" y="843.5" font-size="3.2" text-anchor="middle" fill="#fb61d7">PIAK7</text>
<text x="142.7" y="846.9" font-size="3.2" text-anchor="middle" fill="#fb61d7">GABRA5</text>
<text x="142.7" y="850.3" font-size="3.2" text-anchor="middle" fill="#fb61d7">KCTD15</text>
<text x="142.7" y="853.5" font-size="3.2" text-anchor="middle" fill="#fb61d7">NLRP</text>
<text x="142.7" y="856.9" font-size="3.2" text-anchor="middle" fill="#fb61d7">OSBM</text>
<path d="M160.2 889.0L164.7 886.4L166.7 882.6L166.2 877.4L164.2 869.7L162.3 856.8L161.1 837.5L160.5 811.7L160.2 786.0L160.1 765.4L160.0 760.2L157.4 760.2L157.3 765.4L157.2 786.0L156.9 811.7L156.3 837.5L155.1 856.8L153.2 869.7L151.2 877.4L150.7 882.6L152.7 886.4L157.2 889.0Z" fill="#a6a6a6" stroke="#8c8c8c" stroke-width="0.3" stroke-linejoin="round"/>
<line x1="158.70" y1="889.00" x2="158.70" y2="760.20" stroke="#3a3a3a" stroke-width="0.45"/>
<rect x="156.10" y="845.21" width="5.20" height="38.64" fill="#9a9a9a" stroke="#3a3a3a" stroke-width="0.65"/>
<line x1="156.10" y1="870.97" x2="161.30" y2="870.97" stroke="#3a3a3a" stroke-width="0.8"/>
<rect x="171.30" y="753.60" width="131.40" height="141.40" fill="#fff" stroke="#555" stroke-width="0.6"/>
<text x="236.2" y="750.8" font-size="7.2" text-anchor="middle" fill="#111">...Stromal</text>
<path d="M189.0 889.0L187.5 886.4L185.0 882.6L183.6 876.1L182.8 863.2L182.2 843.9L181.7 811.7L181.3 764.1L180.7 764.1L180.3 811.7L179.8 843.9L179.2 863.2L178.4 876.1L177.0 882.6L174.5 886.4L173.0 889.0Z" fill="#f8766d" stroke="#f8766d" stroke-width="0.3" stroke-linejoin="round"/>
<line x1="181.00" y1="889.00" x2="181.00" y2="764.06" stroke="#111" stroke-width="0.45"/>
<rect x="178.40" y="855.51" width="5.20" height="33.49" fill="none" stroke="#111" stroke-width="0.65"/>
<line x1="178.40" y1="877.41" x2="183.60" y2="877.41" stroke="#111" stroke-width="0.8"/>
<text x="181.0" y="758.1" font-size="3.2" text-anchor="middle" fill="#f8766d">AP000640.1</text>
<text x="181.0" y="761.5" font-size="3.2" text-anchor="middle" fill="#f8766d">KANSD2B</text>
<text x="181.0" y="764.7" font-size="3.2" text-anchor="middle" fill="#f8766d">ZNF442</text>
<path d="M204.0 889.0L202.5 885.1L200.6 878.7L201.2 869.7L202.2 860.7L201.4 850.4L199.8 837.5L198.8 818.2L198.1 792.4L197.4 764.1L196.6 764.1L195.9 792.4L195.2 818.2L194.2 837.5L192.6 850.4L191.8 860.7L192.8 869.7L193.4 878.7L191.5 885.1L190.0 889.0Z" fill="#c49a00" stroke="#c49a00" stroke-width="0.3" stroke-linejoin="round"/>
<line x1="197.00" y1="889.00" x2="197.00" y2="764.06" stroke="#111" stroke-width="0.45"/>
<rect x="194.40" y="829.75" width="5.20" height="51.52" fill="none" stroke="#111" stroke-width="0.65"/>
<line x1="194.40" y1="860.66" x2="199.60" y2="860.66" stroke="#111" stroke-width="0.8"/>
<text x="197.0" y="758.1" font-size="3.2" text-anchor="middle" fill="#c49a00">ZFAND3</text>
<text x="197.0" y="761.5" font-size="3.2" text-anchor="middle" fill="#c49a00">RPL6</text>
<text x="197.0" y="764.7" font-size="3.2" text-anchor="middle" fill="#c49a00">KAT3A</text>
<path d="M220.1 889.0L218.6 886.4L216.3 882.6L215.3 876.1L214.5 869.7L213.9 850.4L213.5 782.1L212.7 782.1L212.3 850.4L211.7 869.7L210.9 876.1L209.9 882.6L207.6 886.4L206.1 889.0Z" fill="#53b400" stroke="#53b400" stroke-width="0.3" stroke-linejoin="round"/>
<line x1="213.10" y1="889.00" x2="213.10" y2="782.10" stroke="#111" stroke-width="0.45"/>
<rect x="210.50" y="872.26" width="5.20" height="15.46" fill="none" stroke="#111" stroke-width="0.65"/>
<line x1="210.50" y1="882.56" x2="215.70" y2="882.56" stroke="#111" stroke-width="0.8"/>
<text x="213.1" y="777.8" font-size="3.2" text-anchor="middle" fill="#53b400">CPNE2</text>
<text x="213.1" y="781.2" font-size="3.2" text-anchor="middle" fill="#53b400">FSND4</text>
<text x="213.1" y="784.7" font-size="3.2" text-anchor="middle" fill="#53b400">NBXAM3</text>
<path d="M236.6 889.0L234.1 887.7L231.1 885.1L230.3 876.1L229.8 850.4L229.5 798.8L228.7 798.8L228.4 850.4L227.9 876.1L227.1 885.1L224.1 887.7L221.6 889.0Z" fill="#00c094" stroke="#00c094" stroke-width="0.3" stroke-linejoin="round"/>
<line x1="229.10" y1="889.00" x2="229.10" y2="798.84" stroke="#111" stroke-width="0.45"/>
<rect x="226.50" y="873.54" width="5.20" height="15.46" fill="none" stroke="#111" stroke-width="0.65"/>
<line x1="226.50" y1="888.36" x2="231.70" y2="888.36" stroke="#111" stroke-width="0.8"/>
<text x="229.1" y="797.8" font-size="3.2" text-anchor="middle" fill="#00c094">ICF1</text>
<text x="229.1" y="803.0" font-size="3.2" text-anchor="middle" fill="#00c094">SAMD14</text>
<text x="229.1" y="806.2" font-size="3.2" text-anchor="middle" fill="#00c094">TXB1H</text>
<path d="M250.9 889.0L248.9 888.0L245.9 886.4L245.5 786.0L244.3 786.0L243.9 886.4L240.9 888.0L238.9 889.0Z" fill="#00b6eb" stroke="#00b6eb" stroke-width="0.3" stroke-linejoin="round"/>
<line x1="244.90" y1="889.00" x2="244.90" y2="785.96" stroke="#111" stroke-width="0.45"/>
<rect x="242.30" y="886.42" width="5.20" height="2.58" fill="none" stroke="#111" stroke-width="0.65"/>
<line x1="242.30" y1="888.36" x2="247.50" y2="888.36" stroke="#111" stroke-width="0.8"/>
<text x="244.9" y="781.8" font-size="3.2" text-anchor="middle" fill="#00b6eb">SMC2</text>
<text x="244.9" y="785.2" font-size="3.2" text-anchor="middle" fill="#00b6eb">GFRT1</text>
<text x="244.9" y="788.6" font-size="3.2" text-anchor="middle" fill="#00b6eb">SRD10F1</text>
<path d="M268.2 889.0L268.2 888.4L261.6 888.0L261.6 773.1L260.8 773.1L260.8 888.0L254.2 888.4L254.2 889.0Z" fill="#a58aff" stroke="#a58aff" stroke-width="0.3" stroke-linejoin="round"/>
<line x1="261.20" y1="889.00" x2="261.20" y2="773.08" stroke="#a58aff" stroke-width="0.9"/>
<line x1="258.40" y1="889.00" x2="264.00" y2="889.00" stroke="#111" stroke-width="0.8"/>
<text x="261.2" y="768.1" font-size="3.2" text-anchor="middle" fill="#a58aff">VAREG5</text>
<text x="261.2" y="777.8" font-size="3.2" text-anchor="middle" fill="#a58aff">SIPHOSPH3</text>
<text x="261.2" y="781.8" font-size="3.2" text-anchor="middle" fill="#a58aff">SLC2AA37</text>
<path d="M284.2 889.0L284.2 888.4L277.6 888.0L277.6 859.4L276.8 859.4L276.8 888.0L270.2 888.4L270.2 889.0Z" fill="#fb61d7" stroke="#fb61d7" stroke-width="0.3" stroke-linejoin="round"/>
<line x1="277.20" y1="889.00" x2="277.20" y2="859.38" stroke="#fb61d7" stroke-width="0.9"/>
<line x1="274.40" y1="889.00" x2="280.00" y2="889.00" stroke="#111" stroke-width="0.8"/>
<text x="277.2" y="855.6" font-size="3.2" text-anchor="middle" fill="#fb61d7">ABHA4</text>
<text x="277.2" y="858.7" font-size="3.2" text-anchor="middle" fill="#fb61d7">ADAMTSL2</text>
<text x="277.2" y="862.2" font-size="3.2" text-anchor="middle" fill="#fb61d7">ANGP3F</text>
<path d="M295.4 889.0L297.2 878.7L298.7 869.7L300.8 856.8L301.2 846.5L300.2 834.9L298.2 818.2L296.2 798.8L295.0 779.5L294.4 760.2L292.0 760.2L291.4 779.5L290.2 798.8L288.2 818.2L286.2 834.9L285.2 846.5L285.6 856.8L287.7 869.7L289.2 878.7L291.0 889.0Z" fill="#a6a6a6" stroke="#8c8c8c" stroke-width="0.3" stroke-linejoin="round"/>
<line x1="293.20" y1="889.00" x2="293.20" y2="760.20" stroke="#3a3a3a" stroke-width="0.45"/>
<rect x="290.60" y="824.60" width="5.20" height="43.79" fill="#9a9a9a" stroke="#3a3a3a" stroke-width="0.65"/>
<line x1="290.60" y1="846.50" x2="295.80" y2="846.50" stroke="#3a3a3a" stroke-width="0.8"/>
<rect x="305.80" y="753.60" width="130.80" height="141.40" fill="#fff" stroke="#555" stroke-width="0.6"/>
<text x="371.0" y="750.8" font-size="7.2" text-anchor="middle" fill="#111">...Lymphoid</text>
<path d="M322.2 889.0L322.2 888.4L315.6 888.0L315.6 766.6L314.8 766.6L314.8 888.0L308.2 888.4L308.2 889.0Z" fill="#f8766d" stroke="#f8766d" stroke-width="0.3" stroke-linejoin="round"/>
<line x1="315.20" y1="889.00" x2="315.20" y2="766.64" stroke="#f8766d" stroke-width="0.9"/>
<line x1="312.40" y1="889.00" x2="318.00" y2="889.00" stroke="#111" stroke-width="0.8"/>
<text x="315.2" y="761.5" font-size="3.2" text-anchor="middle" fill="#f8766d">CCR4</text>
<text x="315.2" y="764.7" font-size="3.2" text-anchor="middle" fill="#f8766d">TMEM145</text>
<text x="315.2" y="768.1" font-size="3.2" text-anchor="middle" fill="#f8766d">IFIQ2</text>
<path d="M334.3 889.0L337.3 885.1L339.3 880.0L339.1 873.5L336.8 865.8L334.7 856.8L333.5 843.9L332.9 824.6L332.4 798.8L332.0 775.7L331.7 766.6L330.9 766.6L330.6 775.7L330.2 798.8L329.7 824.6L329.1 843.9L327.9 856.8L325.8 865.8L323.5 873.5L323.3 880.0L325.3 885.1L328.3 889.0Z" fill="#c49a00" stroke="#c49a00" stroke-width="0.3" stroke-linejoin="round"/>
<line x1="331.30" y1="889.00" x2="331.30" y2="766.64" stroke="#111" stroke-width="0.45"/>
<rect x="328.70" y="838.77" width="5.20" height="41.22" fill="none" stroke="#111" stroke-width="0.65"/>
<line x1="328.70" y1="870.97" x2="333.90" y2="870.97" stroke="#111" stroke-width="0.8"/>
<text x="331.3" y="760.2" font-size="3.2" text-anchor="middle" fill="#c49a00">CMSF7B</text>
<text x="331.3" y="763.6" font-size="3.2" text-anchor="middle" fill="#c49a00">ZFAND3</text>
<text x="331.3" y="767.3" font-size="3.2" text-anchor="middle" fill="#c49a00">SMIF5A</text>
<path d="M354.8 889.0L352.3 887.1L349.9 883.8L349.1 876.1L348.3 871.0L347.9 837.5L347.7 776.9L346.9 776.9L346.7 837.5L346.3 871.0L345.5 876.1L344.7 883.8L342.3 887.1L339.8 889.0Z" fill="#53b400" stroke="#53b400" stroke-width="0.3" stroke-linejoin="round"/>
<line x1="347.30" y1="889.00" x2="347.30" y2="776.94" stroke="#111" stroke-width="0.45"/>
<rect x="344.70" y="873.54" width="5.20" height="15.46" fill="none" stroke="#111" stroke-width="0.65"/>
<line x1="344.70" y1="886.42" x2="349.90" y2="886.42" stroke="#111" stroke-width="0.8"/>
<text x="347.3" y="773.4" font-size="3.2" text-anchor="middle" fill="#53b400">CLIX7</text>
<text x="347.3" y="776.8" font-size="3.2" text-anchor="middle" fill="#53b400">HMESPK3</text>
<text x="347.3" y="780.4" font-size="3.2" text-anchor="middle" fill="#53b400">PCBP2</text>
<path d="M370.3 889.0L370.3 888.4L363.8 888.0L363.8 805.3L362.9 805.3L362.9 888.0L356.3 888.4L356.3 889.0Z" fill="#00c094" stroke="#00c094" stroke-width="0.3" stroke-linejoin="round"/>
<line x1="363.30" y1="889.00" x2="363.30" y2="805.28" stroke="#00c094" stroke-width="0.9"/>
<line x1="360.50" y1="889.00" x2="366.10" y2="889.00" stroke="#111" stroke-width="0.8"/>
<text x="363.3" y="797.8" font-size="3.2" text-anchor="middle" fill="#00c094">MBNF3</text>
<text x="363.3" y="800.9" font-size="3.2" text-anchor="middle" fill="#00c094">GM38L</text>
<text x="363.3" y="804.4" font-size="3.2" text-anchor="middle" fill="#00c094">TJP1B</text>
<path d="M386.3 889.0L386.3 888.4L379.8 888.0L379.8 814.3L378.9 814.3L378.9 888.0L372.3 888.4L372.3 889.0Z" fill="#00b6eb" stroke="#00b6eb" stroke-width="0.3" stroke-linejoin="round"/>
<line x1="379.30" y1="889.00" x2="379.30" y2="814.30" stroke="#00b6eb" stroke-width="0.9"/>
<line x1="376.50" y1="889.00" x2="382.10" y2="889.00" stroke="#111" stroke-width="0.8"/>
<text x="379.3" y="805.7" font-size="3.2" text-anchor="middle" fill="#00b6eb">SAP30BP</text>
<text x="379.3" y="808.8" font-size="3.2" text-anchor="middle" fill="#00b6eb">WAVIN</text>
<text x="379.3" y="812.2" font-size="3.2" text-anchor="middle" fill="#00b6eb">SCG21B</text>
<path d="M402.1 889.0L400.1 886.4L398.5 882.6L398.1 876.1L396.9 871.0L395.8 854.2L395.5 798.8L394.7 798.8L394.4 854.2L393.3 871.0L392.1 876.1L391.7 882.6L390.1 886.4L388.1 889.0Z" fill="#a58aff" stroke="#a58aff" stroke-width="0.3" stroke-linejoin="round"/>
<line x1="395.10" y1="889.00" x2="395.10" y2="798.84" stroke="#111" stroke-width="0.45"/>
<rect x="392.50" y="874.83" width="5.20" height="14.17" fill="none" stroke="#111" stroke-width="0.65"/>
<line x1="392.50" y1="879.98" x2="397.70" y2="879.98" stroke="#111" stroke-width="0.8"/>
<text x="395.1" y="792.5" font-size="3.2" text-anchor="middle" fill="#a58aff">TMED7</text>
<text x="395.1" y="796.2" font-size="3.2" text-anchor="middle" fill="#a58aff">PIK-DMF32</text>
<text x="395.1" y="799.6" font-size="3.2" text-anchor="middle" fill="#a58aff">FAM46A</text>
<path d="M418.1 889.0L418.1 888.4L411.6 888.0L411.6 854.2L410.7 854.2L410.7 888.0L404.1 888.4L404.1 889.0Z" fill="#fb61d7" stroke="#fb61d7" stroke-width="0.3" stroke-linejoin="round"/>
<line x1="411.10" y1="889.00" x2="411.10" y2="854.22" stroke="#fb61d7" stroke-width="0.9"/>
<line x1="408.30" y1="889.00" x2="413.90" y2="889.00" stroke="#111" stroke-width="0.8"/>
<text x="411.1" y="848.8" font-size="3.2" text-anchor="middle" fill="#fb61d7">STARD4</text>
<text x="411.1" y="852.2" font-size="3.2" text-anchor="middle" fill="#fb61d7">AL358468.3</text>
<text x="411.1" y="855.6" font-size="3.2" text-anchor="middle" fill="#fb61d7">PTPA</text>
<path d="M428.1 889.0L428.4 863.2L428.9 837.5L430.2 818.2L433.2 807.9L435.2 801.4L434.8 796.3L431.7 788.5L429.4 779.5L428.4 760.2L426.0 760.2L425.0 779.5L422.7 788.5L419.6 796.3L419.2 801.4L421.2 807.9L424.2 818.2L425.5 837.5L426.0 863.2L426.3 889.0Z" fill="#a6a6a6" stroke="#8c8c8c" stroke-width="0.3" stroke-linejoin="round"/>
<line x1="427.20" y1="889.00" x2="427.20" y2="760.20" stroke="#3a3a3a" stroke-width="0.45"/>
<rect x="424.60" y="796.26" width="5.20" height="43.79" fill="#9a9a9a" stroke="#3a3a3a" stroke-width="0.65"/>
<line x1="424.60" y1="807.86" x2="429.80" y2="807.86" stroke="#3a3a3a" stroke-width="0.8"/>
<rect x="440.00" y="753.60" width="131.90" height="141.40" fill="#fff" stroke="#555" stroke-width="0.6"/>
<text x="506.0" y="750.8" font-size="7.2" text-anchor="middle" fill="#111">...Myeloid</text>
<path d="M456.2 889.0L456.2 888.4L449.6 888.0L449.6 766.6L448.8 766.6L448.8 888.0L442.2 888.4L442.2 889.0Z" fill="#f8766d" stroke="#f8766d" stroke-width="0.3" stroke-linejoin="round"/>
<line x1="449.20" y1="889.00" x2="449.20" y2="766.64" stroke="#f8766d" stroke-width="0.9"/>
<line x1="446.40" y1="889.00" x2="452.00" y2="889.00" stroke="#111" stroke-width="0.8"/>
<text x="449.2" y="768.9" font-size="3.2" text-anchor="middle" fill="#f8766d">CAEDA2</text>
<text x="449.2" y="785.2" font-size="3.2" text-anchor="middle" fill="#f8766d">MSF</text>
<text x="449.2" y="788.3" font-size="3.2" text-anchor="middle" fill="#f8766d">GALT</text>
<path d="M469.5 889.0L472.5 885.1L473.5 880.0L472.5 873.5L470.0 865.8L468.3 856.8L467.5 837.5L467.0 811.7L466.5 786.0L465.9 764.1L465.1 764.1L464.5 786.0L464.0 811.7L463.5 837.5L462.7 856.8L461.0 865.8L458.5 873.5L457.5 880.0L458.5 885.1L461.5 889.0Z" fill="#c49a00" stroke="#c49a00" stroke-width="0.3" stroke-linejoin="round"/>
<line x1="465.50" y1="889.00" x2="465.50" y2="764.06" stroke="#111" stroke-width="0.45"/>
<rect x="462.90" y="828.46" width="5.20" height="54.10" fill="none" stroke="#111" stroke-width="0.65"/>
<line x1="462.90" y1="868.39" x2="468.10" y2="868.39" stroke="#111" stroke-width="0.8"/>
<text x="465.5" y="760.2" font-size="3.2" text-anchor="middle" fill="#c49a00">RPL19</text>
<text x="465.5" y="763.6" font-size="3.2" text-anchor="middle" fill="#c49a00">KRNB5A</text>
<text x="465.5" y="766.8" font-size="3.2" text-anchor="middle" fill="#c49a00">OIT20</text>
<path d="M488.5 889.0L488.5 888.4L481.9 888.0L481.9 807.9L481.1 807.9L481.1 888.0L474.5 888.4L474.5 889.0Z" fill="#53b400" stroke="#53b400" stroke-width="0.3" stroke-linejoin="round"/>
<line x1="481.50" y1="889.00" x2="481.50" y2="807.86" stroke="#53b400" stroke-width="0.9"/>
<line x1="478.70" y1="889.00" x2="484.30" y2="889.00" stroke="#111" stroke-width="0.8"/>
<text x="481.5" y="793.8" font-size="3.2" text-anchor="middle" fill="#53b400">PPM</text>
<text x="481.5" y="797.3" font-size="3.2" text-anchor="middle" fill="#53b400">ANXM8</text>
<text x="481.5" y="800.4" font-size="3.2" text-anchor="middle" fill="#53b400">MAPOK3</text>
<path d="M504.5 889.0L504.5 888.4L497.9 888.0L497.9 806.6L497.1 806.6L497.1 888.0L490.5 888.4L490.5 889.0Z" fill="#00c094" stroke="#00c094" stroke-width="0.3" stroke-linejoin="round"/>
<line x1="497.50" y1="889.00" x2="497.50" y2="806.57" stroke="#00c094" stroke-width="0.9"/>
<line x1="494.70" y1="889.00" x2="500.30" y2="889.00" stroke="#111" stroke-width="0.8"/>
<text x="497.5" y="806.2" font-size="3.2" text-anchor="middle" fill="#00c094">GRASHL</text>
<text x="497.5" y="811.5" font-size="3.2" text-anchor="middle" fill="#00c094">LARP3</text>
<text x="497.5" y="817.5" font-size="3.2" text-anchor="middle" fill="#00c094">DCTN3</text>
<path d="M520.6 889.0L518.1 886.4L516.8 881.3L517.2 871.0L517.4 863.2L516.6 856.8L515.0 850.4L514.1 809.1L513.1 809.1L512.2 850.4L510.6 856.8L509.8 863.2L510.0 871.0L510.4 881.3L509.1 886.4L506.6 889.0Z" fill="#00b6eb" stroke="#00b6eb" stroke-width="0.3" stroke-linejoin="round"/>
<line x1="513.60" y1="889.00" x2="513.60" y2="818.16" stroke="#111" stroke-width="0.45"/>
<rect x="511.00" y="859.38" width="5.20" height="29.62" fill="none" stroke="#111" stroke-width="0.65"/>
<line x1="511.00" y1="873.54" x2="516.20" y2="873.54" stroke="#111" stroke-width="0.8"/>
<text x="513.6" y="800.4" font-size="3.2" text-anchor="middle" fill="#00b6eb">SOSM4</text>
<text x="513.6" y="805.7" font-size="3.2" text-anchor="middle" fill="#00b6eb">CDKSP2</text>
<text x="513.6" y="811.5" font-size="3.2" text-anchor="middle" fill="#00b6eb">MFSD3</text>
<path d="M536.3 889.0L536.3 888.4L529.8 888.0L529.8 789.8L528.8 789.8L528.8 888.0L522.3 888.4L522.3 889.0Z" fill="#a58aff" stroke="#a58aff" stroke-width="0.3" stroke-linejoin="round"/>
<line x1="529.30" y1="889.00" x2="529.30" y2="789.82" stroke="#a58aff" stroke-width="0.9"/>
<line x1="526.50" y1="889.00" x2="532.10" y2="889.00" stroke="#111" stroke-width="0.8"/>
<text x="529.3" y="786.5" font-size="3.2" text-anchor="middle" fill="#a58aff">CCDC174</text>
<text x="529.3" y="789.9" font-size="3.2" text-anchor="middle" fill="#a58aff">LISPD</text>
<text x="529.3" y="793.3" font-size="3.2" text-anchor="middle" fill="#a58aff">TM2DHB</text>
<path d="M552.3 889.0L552.3 888.4L545.8 888.0L545.8 854.2L544.8 854.2L544.8 888.0L538.3 888.4L538.3 889.0Z" fill="#fb61d7" stroke="#fb61d7" stroke-width="0.3" stroke-linejoin="round"/>
<line x1="545.30" y1="889.00" x2="545.30" y2="854.22" stroke="#fb61d7" stroke-width="0.9"/>
<line x1="542.50" y1="889.00" x2="548.10" y2="889.00" stroke="#111" stroke-width="0.8"/>
<text x="545.3" y="850.9" font-size="3.2" text-anchor="middle" fill="#fb61d7">RING</text>
<text x="545.3" y="855.6" font-size="3.2" text-anchor="middle" fill="#fb61d7">NDUFA8</text>
<text x="545.3" y="859.3" font-size="3.2" text-anchor="middle" fill="#fb61d7">AL358HB3</text>
<path d="M562.3 889.0L562.6 863.2L563.2 837.5L564.8 818.2L567.8 807.9L569.4 801.4L568.4 795.0L565.2 786.0L563.2 775.7L562.5 760.2L560.3 760.2L559.6 775.7L557.6 786.0L554.4 795.0L553.4 801.4L555.0 807.9L558.0 818.2L559.6 837.5L560.2 863.2L560.5 889.0Z" fill="#a6a6a6" stroke="#8c8c8c" stroke-width="0.3" stroke-linejoin="round"/>
<line x1="561.40" y1="889.00" x2="561.40" y2="760.20" stroke="#3a3a3a" stroke-width="0.45"/>
<rect x="558.80" y="798.84" width="5.20" height="42.50" fill="#9a9a9a" stroke="#3a3a3a" stroke-width="0.65"/>
<line x1="558.80" y1="811.72" x2="564.00" y2="811.72" stroke="#3a3a3a" stroke-width="0.8"/>
<text x="265.0" y="735.2" font-size="5.5" text-anchor="middle" fill="#f8766d">Patient ID</text>
<text x="305.3" y="735.2" font-size="5.5" text-anchor="middle" fill="#c49a00">Method</text>
<text x="305.3" y="741.4" font-size="5.5" text-anchor="middle" fill="#c49a00">sc/sn</text>
<text x="336.5" y="735.2" font-size="5.5" text-anchor="middle" fill="#53b400">Biopsy</text>
<text x="336.5" y="741.4" font-size="5.5" text-anchor="middle" fill="#53b400">Site</text>
<text x="373.8" y="735.2" font-size="5.5" text-anchor="middle" fill="#00b48c">Most recent</text>
<text x="373.8" y="741.4" font-size="5.5" text-anchor="middle" fill="#00b48c">tx class</text>
<text x="418.8" y="735.2" font-size="5.5" text-anchor="middle" fill="#00a8e8">Histology</text>
<text x="461.6" y="735.2" font-size="5.5" text-anchor="middle" fill="#a58aff">Receptor</text>
<text x="461.6" y="741.4" font-size="5.5" text-anchor="middle" fill="#a58aff">status</text>
<text x="506.3" y="735.2" font-size="5.5" text-anchor="middle" fill="#fb61d7">Metastatic</text>
<text x="506.3" y="741.4" font-size="5.5" text-anchor="middle" fill="#fb61d7">presentation</text>
<text x="553.2" y="735.2" font-size="5.5" text-anchor="middle" fill="#9a9a9a">Residuals</text>
<text x="583.0" y="734.7" font-size="13" font-weight="bold" stroke="#000" stroke-width="0.45">j</text>
<path d="M573 739.3H625.3V746.2" fill="none" stroke="#445f85" stroke-width="0.9" marker-end="url(#arr)"/>
<rect x="600.40" y="757.20" width="81.00" height="22.00" fill="#ebebeb" stroke="#555" stroke-width="0.6"/>
<text x="603.2" y="753.4" font-size="7.3" fill="#111">Malignant</text>
<line x1="600.40" y1="761.65" x2="681.40" y2="761.65" stroke="#fff" stroke-width="0.4"/>
<rect x="604.40" y="758.70" width="16.47" height="5.90" fill="#c6c6c6"/>
<rect x="620.87" y="758.70" width="40.99" height="5.90" fill="#a58aff"/>
<rect x="661.86" y="758.70" width="7.32" height="5.90" fill="#c49a00"/>
<rect x="669.18" y="758.70" width="8.42" height="5.90" fill="#f8766d"/>
<line x1="598.60" y1="761.65" x2="600.40" y2="761.65" stroke="#444" stroke-width="0.5"/>
<text x="596.0" y="763.7" font-size="5.8" text-anchor="end" fill="#111">PGR</text>
<line x1="600.40" y1="768.30" x2="681.40" y2="768.30" stroke="#fff" stroke-width="0.4"/>
<rect x="604.40" y="765.35" width="9.52" height="5.90" fill="#c6c6c6"/>
<rect x="613.92" y="765.35" width="32.21" height="5.90" fill="#a58aff"/>
<rect x="646.12" y="765.35" width="0.73" height="5.90" fill="#00c094"/>
<rect x="646.86" y="765.35" width="22.33" height="5.90" fill="#c49a00"/>
<rect x="669.18" y="765.35" width="8.42" height="5.90" fill="#f8766d"/>
<line x1="598.60" y1="768.30" x2="600.40" y2="768.30" stroke="#444" stroke-width="0.5"/>
<text x="596.0" y="770.4" font-size="5.8" text-anchor="end" fill="#111">ESR1</text>
<line x1="600.40" y1="774.95" x2="681.40" y2="774.95" stroke="#fff" stroke-width="0.4"/>
<rect x="604.40" y="772.00" width="6.22" height="5.90" fill="#c6c6c6"/>
<rect x="610.62" y="772.00" width="45.02" height="5.90" fill="#a58aff"/>
<rect x="655.64" y="772.00" width="5.49" height="5.90" fill="#00c094"/>
<rect x="661.13" y="772.00" width="8.42" height="5.90" fill="#c49a00"/>
<rect x="669.55" y="772.00" width="8.05" height="5.90" fill="#f8766d"/>
<line x1="598.60" y1="774.95" x2="600.40" y2="774.95" stroke="#444" stroke-width="0.5"/>
<text x="596.0" y="777.0" font-size="5.8" text-anchor="end" fill="#111">ERBB2</text>
<rect x="600.40" y="789.70" width="81.00" height="22.00" fill="#ebebeb" stroke="#555" stroke-width="0.6"/>
<text x="603.2" y="786.7" font-size="7.3" fill="#111">Stromal</text>
<line x1="600.40" y1="794.15" x2="681.40" y2="794.15" stroke="#fff" stroke-width="0.4"/>
<rect x="604.40" y="791.20" width="9.52" height="5.90" fill="#c6c6c6"/>
<rect x="613.92" y="791.20" width="2.56" height="5.90" fill="#fb61d7"/>
<rect x="616.48" y="791.20" width="3.29" height="5.90" fill="#00c094"/>
<rect x="619.77" y="791.20" width="5.49" height="5.90" fill="#53b400"/>
<rect x="625.26" y="791.20" width="15.01" height="5.90" fill="#c49a00"/>
<rect x="640.27" y="791.20" width="37.33" height="5.90" fill="#f8766d"/>
<line x1="598.60" y1="794.15" x2="600.40" y2="794.15" stroke="#444" stroke-width="0.5"/>
<text x="596.0" y="796.2" font-size="5.8" text-anchor="end" fill="#111">PGR</text>
<line x1="600.40" y1="800.80" x2="681.40" y2="800.80" stroke="#fff" stroke-width="0.4"/>
<rect x="604.40" y="797.85" width="16.10" height="5.90" fill="#c6c6c6"/>
<rect x="620.50" y="797.85" width="10.25" height="5.90" fill="#53b400"/>
<rect x="630.75" y="797.85" width="45.38" height="5.90" fill="#c49a00"/>
<rect x="676.14" y="797.85" width="1.46" height="5.90" fill="#f8766d"/>
<line x1="598.60" y1="800.80" x2="600.40" y2="800.80" stroke="#444" stroke-width="0.5"/>
<text x="596.0" y="802.9" font-size="5.8" text-anchor="end" fill="#111">ESR1</text>
<line x1="600.40" y1="807.45" x2="681.40" y2="807.45" stroke="#fff" stroke-width="0.4"/>
<rect x="604.40" y="804.50" width="15.37" height="5.90" fill="#c6c6c6"/>
<rect x="619.77" y="804.50" width="3.29" height="5.90" fill="#a58aff"/>
<rect x="623.07" y="804.50" width="2.56" height="5.90" fill="#53b400"/>
<rect x="625.63" y="804.50" width="8.05" height="5.90" fill="#c49a00"/>
<rect x="633.68" y="804.50" width="43.92" height="5.90" fill="#f8766d"/>
<line x1="598.60" y1="807.45" x2="600.40" y2="807.45" stroke="#444" stroke-width="0.5"/>
<text x="596.0" y="809.5" font-size="5.8" text-anchor="end" fill="#111">ERBB2</text>
<rect x="600.40" y="821.90" width="81.00" height="22.00" fill="#ebebeb" stroke="#555" stroke-width="0.6"/>
<text x="603.2" y="819.1" font-size="7.3" fill="#111">Lymphoid</text>
<line x1="600.40" y1="826.35" x2="681.40" y2="826.35" stroke="#fff" stroke-width="0.4"/>
<rect x="604.40" y="823.40" width="22.33" height="5.90" fill="#c6c6c6"/>
<rect x="626.73" y="823.40" width="25.25" height="5.90" fill="#a58aff"/>
<rect x="651.98" y="823.40" width="15.74" height="5.90" fill="#53b400"/>
<rect x="667.72" y="823.40" width="9.88" height="5.90" fill="#c49a00"/>
<line x1="598.60" y1="826.35" x2="600.40" y2="826.35" stroke="#444" stroke-width="0.5"/>
<text x="596.0" y="828.4" font-size="5.8" text-anchor="end" fill="#111">PGR</text>
<line x1="600.40" y1="833.00" x2="681.40" y2="833.00" stroke="#fff" stroke-width="0.4"/>
<rect x="604.40" y="830.05" width="10.61" height="5.90" fill="#c6c6c6"/>
<rect x="615.01" y="830.05" width="16.10" height="5.90" fill="#a58aff"/>
<rect x="631.12" y="830.05" width="46.48" height="5.90" fill="#c49a00"/>
<line x1="598.60" y1="833.00" x2="600.40" y2="833.00" stroke="#444" stroke-width="0.5"/>
<text x="596.0" y="835.0" font-size="5.8" text-anchor="end" fill="#111">ESR1</text>
<line x1="600.40" y1="839.65" x2="681.40" y2="839.65" stroke="#fff" stroke-width="0.4"/>
<rect x="604.40" y="836.70" width="51.24" height="5.90" fill="#c6c6c6"/>
<rect x="655.64" y="836.70" width="1.10" height="5.90" fill="#a58aff"/>
<rect x="656.74" y="836.70" width="1.10" height="5.90" fill="#00c094"/>
<rect x="657.84" y="836.70" width="16.10" height="5.90" fill="#c49a00"/>
<rect x="673.94" y="836.70" width="3.66" height="5.90" fill="#f8766d"/>
<line x1="598.60" y1="839.65" x2="600.40" y2="839.65" stroke="#444" stroke-width="0.5"/>
<text x="596.0" y="841.7" font-size="5.8" text-anchor="end" fill="#111">ERBB2</text>
<rect x="600.40" y="854.30" width="81.00" height="22.00" fill="#ebebeb" stroke="#555" stroke-width="0.6"/>
<text x="603.2" y="851.3" font-size="7.3" fill="#111">Myeloid</text>
<line x1="600.40" y1="858.75" x2="681.40" y2="858.75" stroke="#fff" stroke-width="0.4"/>
<rect x="604.40" y="855.80" width="41.72" height="5.90" fill="#c6c6c6"/>
<rect x="646.12" y="855.80" width="1.46" height="5.90" fill="#fb61d7"/>
<rect x="647.59" y="855.80" width="25.25" height="5.90" fill="#00b6eb"/>
<rect x="672.84" y="855.80" width="4.76" height="5.90" fill="#c49a00"/>
<line x1="598.60" y1="858.75" x2="600.40" y2="858.75" stroke="#444" stroke-width="0.5"/>
<text x="596.0" y="860.8" font-size="5.8" text-anchor="end" fill="#111">PGR</text>
<line x1="600.40" y1="865.40" x2="681.40" y2="865.40" stroke="#fff" stroke-width="0.4"/>
<rect x="604.40" y="862.45" width="15.37" height="5.90" fill="#c6c6c6"/>
<rect x="619.77" y="862.45" width="57.83" height="5.90" fill="#c49a00"/>
<line x1="598.60" y1="865.40" x2="600.40" y2="865.40" stroke="#444" stroke-width="0.5"/>
<text x="596.0" y="867.4" font-size="5.8" text-anchor="end" fill="#111">ESR1</text>
<line x1="600.40" y1="872.05" x2="681.40" y2="872.05" stroke="#fff" stroke-width="0.4"/>
<rect x="604.40" y="869.10" width="38.80" height="5.90" fill="#c6c6c6"/>
<rect x="643.20" y="869.10" width="12.08" height="5.90" fill="#00c094"/>
<rect x="655.27" y="869.10" width="22.33" height="5.90" fill="#c49a00"/>
<line x1="598.60" y1="872.05" x2="600.40" y2="872.05" stroke="#444" stroke-width="0.5"/>
<text x="596.0" y="874.1" font-size="5.8" text-anchor="end" fill="#111">ERBB2</text>
<line x1="604.40" y1="876.30" x2="604.40" y2="878.30" stroke="#444" stroke-width="0.5"/>
<text x="604.4" y="886.4" font-size="5.8" text-anchor="middle" fill="#222">0</text>
<line x1="622.70" y1="876.30" x2="622.70" y2="878.30" stroke="#444" stroke-width="0.5"/>
<text x="622.7" y="886.4" font-size="5.8" text-anchor="middle" fill="#222">0.25</text>
<line x1="641.00" y1="876.30" x2="641.00" y2="878.30" stroke="#444" stroke-width="0.5"/>
<text x="641.0" y="886.4" font-size="5.8" text-anchor="middle" fill="#222">0.50</text>
<line x1="659.30" y1="876.30" x2="659.30" y2="878.30" stroke="#444" stroke-width="0.5"/>
<text x="659.3" y="886.4" font-size="5.8" text-anchor="middle" fill="#222">0.75</text>
<line x1="677.60" y1="876.30" x2="677.60" y2="878.30" stroke="#444" stroke-width="0.5"/>
<text x="677.6" y="886.4" font-size="5.8" text-anchor="middle" fill="#222">1.00</text>
<text x="602.4" y="896.8" font-size="7.7" fill="#111">Variance explained (%)</text>
</svg>
</body></html>
